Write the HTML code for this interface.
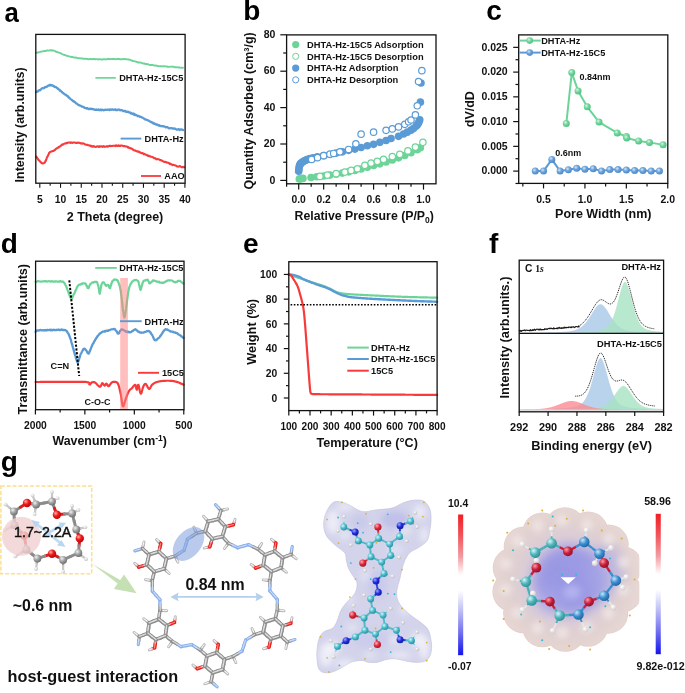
<!DOCTYPE html>
<html><head><meta charset="utf-8"><title>Figure</title>
<style>html,body{margin:0;padding:0;background:#fff;}body{width:685px;height:693px;overflow:hidden;font-family:"Liberation Sans",sans-serif;}svg{display:block;}</style>
</head><body>
<svg width="685" height="693" viewBox="0 0 685 693"><g opacity="0.999"><defs>
<radialGradient id="gG" cx="0.38" cy="0.35" r="0.7"><stop offset="0" stop-color="#d9f5e4"/><stop offset="0.45" stop-color="#72d59c"/><stop offset="1" stop-color="#4fbf80"/></radialGradient>
<radialGradient id="gB" cx="0.38" cy="0.35" r="0.7"><stop offset="0" stop-color="#d6e6f6"/><stop offset="0.45" stop-color="#6aa3da"/><stop offset="1" stop-color="#4a86c4"/></radialGradient>
<linearGradient id="cb1" x1="0" y1="0" x2="0" y2="1"><stop offset="0" stop-color="#f01e24"/><stop offset="0.15" stop-color="#f2545a"/><stop offset="0.3" stop-color="#f29ca0"/><stop offset="0.43" stop-color="#ffffff"/><stop offset="0.54" stop-color="#ffffff"/><stop offset="0.68" stop-color="#c0c0f6"/><stop offset="0.84" stop-color="#7070f0"/><stop offset="1" stop-color="#1414ee"/></linearGradient>
<radialGradient id="sC" cx="0.35" cy="0.32" r="0.75"><stop offset="0" stop-color="#f0f0f0"/><stop offset="0.5" stop-color="#a0a0a0"/><stop offset="1" stop-color="#6a6a6a"/></radialGradient>
<radialGradient id="sO" cx="0.35" cy="0.32" r="0.75"><stop offset="0" stop-color="#ffb0a8"/><stop offset="0.45" stop-color="#f01818"/><stop offset="1" stop-color="#b00808"/></radialGradient>
<radialGradient id="sH" cx="0.35" cy="0.32" r="0.75"><stop offset="0" stop-color="#ffffff"/><stop offset="1" stop-color="#c0c0c0"/></radialGradient>
<radialGradient id="bC" cx="0.35" cy="0.32" r="0.75"><stop offset="0" stop-color="#d8f6fa"/><stop offset="0.5" stop-color="#48bccb"/><stop offset="1" stop-color="#2a8a98"/></radialGradient>
<radialGradient id="bN" cx="0.35" cy="0.32" r="0.75"><stop offset="0" stop-color="#a0a8ff"/><stop offset="0.5" stop-color="#1f2ee0"/><stop offset="1" stop-color="#101a90"/></radialGradient>
<radialGradient id="bO" cx="0.35" cy="0.32" r="0.75"><stop offset="0" stop-color="#ffb0b8"/><stop offset="0.5" stop-color="#e02a3a"/><stop offset="1" stop-color="#a01020"/></radialGradient>
<radialGradient id="bH" cx="0.35" cy="0.32" r="0.75"><stop offset="0" stop-color="#ffffff"/><stop offset="1" stop-color="#b8b8b8"/></radialGradient>
<radialGradient id="bH2" cx="0.35" cy="0.32" r="0.75"><stop offset="0" stop-color="#ffffff"/><stop offset="1" stop-color="#d0c8c8"/></radialGradient>
<radialGradient id="bC2" cx="0.35" cy="0.32" r="0.75"><stop offset="0" stop-color="#d8f6f6"/><stop offset="0.5" stop-color="#4fb6bc"/><stop offset="1" stop-color="#2a8a90"/></radialGradient>
<radialGradient id="bC3" cx="0.35" cy="0.32" r="0.75"><stop offset="0" stop-color="#c8e4fa"/><stop offset="0.5" stop-color="#3a8fd0"/><stop offset="1" stop-color="#1f5f9a"/></radialGradient>
<radialGradient id="bO2" cx="0.35" cy="0.32" r="0.75"><stop offset="0" stop-color="#ff9aa8"/><stop offset="0.5" stop-color="#c8203c"/><stop offset="1" stop-color="#8a1020"/></radialGradient>
<radialGradient id="esp1" cx="0.5" cy="0.5" r="0.6"><stop offset="0" stop-color="#d4d4f0"/><stop offset="0.7" stop-color="#dcdcf3"/><stop offset="1" stop-color="#e4e4f6"/></radialGradient>
<radialGradient id="esp2" cx="0.5" cy="0.5" r="0.5"><stop offset="0" stop-color="#bcb8e6"/><stop offset="0.55" stop-color="#dccdd6"/><stop offset="0.8" stop-color="#e2d2d0"/><stop offset="1" stop-color="#e8d8d6"/></radialGradient>
<filter id="blur3" x="-50%" y="-50%" width="200%" height="200%"><feGaussianBlur stdDeviation="3"/></filter>
<filter id="blur6" x="-50%" y="-50%" width="200%" height="200%"><feGaussianBlur stdDeviation="6"/></filter>
</defs>
<text x="0" y="0" font-size="28" font-weight="bold" fill="#000" font-family='"Liberation Sans", sans-serif' transform="translate(4.5 22.2) scale(0.92 1)">a</text>
<text x="243.2" y="20.3" font-size="28" font-weight="bold" text-anchor="start" fill="#000" font-family='"Liberation Sans", sans-serif'>b</text>
<text x="486.2" y="20.2" font-size="28" font-weight="bold" text-anchor="start" fill="#000" font-family='"Liberation Sans", sans-serif'>c</text>
<text x="0.8" y="252.8" font-size="28" font-weight="bold" text-anchor="start" fill="#000" font-family='"Liberation Sans", sans-serif'>d</text>
<text x="243.1" y="253.2" font-size="28" font-weight="bold" text-anchor="start" fill="#000" font-family='"Liberation Sans", sans-serif'>e</text>
<text x="488.9" y="252.8" font-size="28" font-weight="bold" text-anchor="start" fill="#000" font-family='"Liberation Sans", sans-serif'>f</text>
<text x="0.8" y="471" font-size="28" font-weight="bold" text-anchor="start" fill="#000" font-family='"Liberation Sans", sans-serif'>g</text>
<path d="M36.3 52.81 L36.74 52.62 L37.31 52.74 L37.99 52.28 L38.75 52.33 L39.57 52.05 L40.42 51.7 L41.3 51.74 L42.16 51.33 L43 51.37 L43.68 51.06 L44.39 50.93 L45.12 50.95 L45.86 51 L46.6 50.51 L47.36 50.43 L48.11 50.52 L48.86 50.59 L49.59 50.34 L50.31 50.23 L51 50.54 L51.74 50.14 L52.46 50.67 L53.17 50.54 L53.87 50.66 L54.56 50.86 L55.25 51.19 L55.93 51.69 L56.62 51.63 L57.3 52.09 L58 52.37 L58.69 52.49 L59.35 52.85 L60.01 52.9 L60.66 53.2 L61.31 53.58 L61.98 54.12 L62.68 54.3 L63.41 54.54 L64.18 54.97 L65 55.18 L65.61 55.29 L66.24 55.73 L66.88 55.86 L67.54 55.82 L68.21 56.17 L68.9 56.33 L69.6 56.68 L70.32 56.78 L71.05 56.73 L71.81 57.24 L72.58 56.97 L73.37 57.27 L74.17 57.59 L75 57.43 L75.63 57.69 L76.28 57.56 L76.94 57.97 L77.63 58.11 L78.33 58.1 L79.04 58.34 L79.76 58.14 L80.49 58.41 L81.23 58.44 L81.97 58.51 L82.71 58.52 L83.45 58.78 L84.19 58.9 L84.92 58.72 L85.64 58.88 L86.35 58.63 L87.05 59 L87.73 59.03 L88.4 59.25 L89.16 59.21 L89.89 58.99 L90.58 59.08 L91.26 59.25 L91.92 58.96 L92.57 59.2 L93.21 59.07 L93.86 59.06 L94.52 59.05 L95.2 59.41 L95.9 59.1 L96.64 59.17 L97.41 59.24 L98.22 59.48 L99.08 59.09 L100 59.27 L100.6 59.32 L101.24 59.49 L101.9 59.45 L102.59 59.46 L103.31 59.16 L104.04 59.21 L104.8 59.17 L105.57 59.41 L106.35 59.43 L107.14 59.01 L107.94 59.01 L108.75 59.02 L109.55 59 L110.35 59.11 L111.15 59.14 L111.94 58.96 L112.72 58.81 L113.49 59.01 L114.24 58.97 L114.97 59.05 L115.68 59.24 L116.36 59.1 L117.02 59.01 L117.65 59.05 L118.24 59.08 L118.8 58.78 L119.83 59.21 L120.77 59.17 L121.62 59.24 L122.41 59.22 L123.14 59.05 L123.81 59.09 L124.45 58.99 L125.06 59.3 L125.65 59.07 L126.22 59.14 L126.8 59.28 L127.39 59.34 L128 59.52 L128.76 59.51 L129.44 59.63 L130.07 59.87 L130.67 60.02 L131.26 60.34 L131.87 60.37 L132.53 61 L133.25 61.09 L134.07 61.09 L135 61.38 L135.54 61.55 L136.12 61.7 L136.72 61.72 L137.35 62.24 L138 62.47 L138.67 62.36 L139.36 62.53 L140.06 62.5 L140.78 62.67 L141.5 62.96 L142.23 63.09 L142.97 63.53 L143.7 63.36 L144.44 63.45 L145.17 64.07 L145.9 64.01 L146.61 63.96 L147.31 64.29 L148 64.16 L148.72 64.54 L149.44 64.89 L150.16 64.96 L150.89 65 L151.61 64.89 L152.34 65.06 L153.07 65.07 L153.79 65.48 L154.51 65.46 L155.23 65.68 L155.95 65.55 L156.66 65.59 L157.37 65.97 L158.07 66.14 L158.76 66.16 L159.45 66.21 L160.13 66.29 L160.8 66.32 L161.54 66.13 L162.28 66.34 L163 66.31 L163.72 66.19 L164.42 66.23 L165.13 66.39 L165.82 66.4 L166.51 66.65 L167.2 66.8 L167.88 66.57 L168.57 66.84 L169.25 66.89 L169.94 66.91 L170.62 66.65 L171.31 66.61 L172 66.66 L172.76 66.71 L173.56 66.77 L174.39 67.05 L175.23 67.26 L176.09 67.31 L176.94 67.21 L177.79 67.37 L178.61 67.53 L179.4 67.25 L180.16 67.61 L180.86 67.8 L181.51 67.8 L182.09 67.84 L182.59 67.75 L183 67.64" stroke="#6dd499" stroke-width="1.9" fill="none" stroke-linejoin="round" stroke-linecap="round"/>
<path d="M36.3 92.16 L36.69 91.53 L37.2 91.67 L37.79 91.5 L38.45 90.61 L39.17 90.21 L39.93 90.29 L40.71 89.67 L41.5 88.76 L42.26 88.32 L43 87.99 L43.67 88.34 L44.37 87.9 L45.09 86.95 L45.83 87.19 L46.57 86.97 L47.31 86.34 L48.03 85.75 L48.73 85.65 L49.4 85.05 L50.03 84.77 L50.6 85.52 L51.51 85.21 L52.27 85.25 L52.94 85.9 L53.58 85.83 L54.25 86.67 L55 87.09 L55.54 86.86 L56.09 87.25 L56.64 87.67 L57.21 88.03 L57.79 88.77 L58.4 88.94 L59.03 89.57 L59.7 89.83 L60.4 91.07 L60.91 90.96 L61.44 91.47 L61.98 92.02 L62.54 92.76 L63.11 92.78 L63.7 93.7 L64.29 93.81 L64.9 94.33 L65.51 94.82 L66.13 94.87 L66.75 95.75 L67.37 96.02 L68 96.35 L68.55 97.51 L69.11 97.4 L69.68 98.14 L70.25 98.84 L70.83 99.17 L71.42 99.45 L72.01 100.11 L72.6 100.62 L73.2 101.3 L73.79 101.16 L74.38 102.02 L74.97 102.18 L75.55 102.63 L76.13 103.47 L76.7 103.61 L77.35 104.06 L78 104.63 L78.65 105.13 L79.29 105.06 L79.94 105.54 L80.57 105.76 L81.21 106.07 L81.85 106.52 L82.48 106.58 L83.11 106.91 L83.74 107.11 L84.37 107.77 L85 107.78 L85.72 108.19 L86.42 108.48 L87.1 108.07 L87.76 108.52 L88.43 109.04 L89.11 109.1 L89.81 108.61 L90.54 108.72 L91.31 109.13 L92.12 108.91 L93 109.17 L93.6 109.08 L94.22 109.67 L94.86 109.83 L95.51 109.97 L96.18 109.35 L96.87 109.89 L97.57 109.87 L98.28 109.43 L99 110.12 L99.73 110.22 L100.47 109.56 L101.22 110.24 L101.97 109.75 L102.72 109.85 L103.48 110.31 L104.24 110.18 L105 109.6 L105.69 109.85 L106.39 109.92 L107.1 109.75 L107.83 109.61 L108.56 109.7 L109.3 110.03 L110.05 109.38 L110.8 109.83 L111.55 109.7 L112.3 109.3 L113.05 109.56 L113.8 109.81 L114.54 109.71 L115.28 109.31 L116.01 110.15 L116.73 110 L117.43 110.2 L118.12 109.47 L118.8 109.69 L119.54 109.58 L120.27 110.36 L120.99 110.03 L121.7 110.04 L122.4 110.45 L123.1 111.05 L123.78 111.14 L124.46 110.81 L125.14 110.9 L125.8 111.79 L126.47 111.68 L127.13 112 L127.79 111.66 L128.44 111.85 L129.09 112.63 L129.75 112.61 L130.4 112.52 L131.09 113.53 L131.77 113.5 L132.45 113.9 L133.12 113.51 L133.79 114.47 L134.45 114.03 L135.11 115.02 L135.77 114.93 L136.42 115.11 L137.08 115.59 L137.73 116.22 L138.38 115.92 L139.03 116.08 L139.69 116.74 L140.34 116.77 L141 116.95 L141.66 117.29 L142.33 117.5 L143 117.96 L143.68 118.38 L144.36 118.7 L145.03 119.44 L145.71 119.35 L146.38 119.87 L147.05 119.91 L147.71 120.39 L148.37 120.41 L149.02 120.93 L149.66 121.02 L150.28 121.96 L150.9 122.08 L151.5 122.02 L152.22 122.59 L152.9 123.3 L153.57 122.84 L154.21 123.75 L154.85 123.67 L155.47 123.98 L156.09 124.53 L156.71 124.37 L157.34 124.71 L157.98 125.1 L158.63 125.59 L159.3 125.24 L160 125.9 L160.66 125.99 L161.32 126.13 L161.99 126.11 L162.66 126.25 L163.34 126.18 L164.02 126.43 L164.72 126.55 L165.43 127.33 L166.15 127.06 L166.88 127.15 L167.63 127.24 L168.4 128.09 L169.19 128.28 L170 128.25 L170.67 128.03 L171.38 128.12 L172.14 128.29 L172.94 128.56 L173.76 128.42 L174.59 128.8 L175.44 128.76 L176.29 129.51 L177.12 129.63 L177.95 129.36 L178.75 129.2 L179.52 129.95 L180.25 129.46 L180.93 129.59 L181.55 129.35 L182.11 129.77 L182.6 129.92 L183 130" stroke="#5b9bd5" stroke-width="2.3" fill="none" stroke-linejoin="round" stroke-linecap="round"/>
<path d="M36.3 156.56 L36.59 157.22 L36.98 157.41 L37.44 158.31 L37.95 158.92 L38.49 159.9 L39.01 160.29 L39.5 160.82 L40.17 161.67 L40.85 162.18 L41.53 162.92 L42.19 163.19 L42.8 163.5 L43.49 163.32 L44.13 163 L44.73 162.55 L45.3 161.41 L45.61 160.84 L45.89 160.76 L46.16 159.41 L46.42 159.15 L46.69 158.35 L46.98 157.14 L47.3 157.07 L47.64 156.4 L48 155.44 L48.37 154.76 L48.75 154.07 L49.15 152.84 L49.57 152.53 L50 152 L50.65 151.78 L51.34 151.47 L52.06 151.31 L52.79 150.94 L53.5 150.91 L54.19 150.39 L54.88 150.01 L55.56 149.22 L56.27 148.61 L57 148.21 L57.55 148 L58.11 147.36 L58.68 147.49 L59.26 146.81 L59.84 146.41 L60.42 145.98 L61 145.64 L61.64 145.09 L62.26 144.32 L62.88 144.61 L63.52 144.25 L64.22 143.76 L65 143.53 L65.66 143.46 L66.37 142.83 L67.12 143.23 L67.89 142.72 L68.68 142.48 L69.47 142.54 L70.25 142.84 L71 142.36 L71.73 142.75 L72.46 142.92 L73.18 142.52 L73.89 142.44 L74.6 142.54 L75.31 142.74 L76.01 142.86 L76.7 142.79 L77.49 142.9 L78.28 142.56 L79.07 142.75 L79.84 142.98 L80.59 143.51 L81.31 143.31 L82 143.65 L82.87 143.38 L83.65 143.58 L84.39 143.91 L85.16 144.42 L86 144.65 L86.65 144.83 L87.31 144.74 L87.98 145.16 L88.69 145.36 L89.42 145.59 L90.19 145.52 L91 146.31 L91.64 145.87 L92.27 146.6 L92.9 146.65 L93.55 146 L94.24 146.42 L94.99 146.76 L95.8 146.93 L96.7 146.54 L97.7 146.41 L98.28 146.37 L98.9 146.96 L99.55 146.36 L100.24 146.64 L100.95 146.28 L101.68 146.56 L102.43 146.88 L103.2 146.2 L103.97 146.72 L104.75 146.44 L105.53 146.71 L106.31 146.53 L107.08 146.11 L107.84 146.61 L108.58 146.25 L109.3 145.85 L110 145.8 L110.78 146.15 L111.56 146.07 L112.35 145.9 L113.13 145.71 L113.91 145.8 L114.69 145.72 L115.45 146.07 L116.21 145.34 L116.95 145.88 L117.68 145.91 L118.39 145.3 L119.08 145.92 L119.74 145.74 L120.39 145.89 L121 145.43 L121.86 145.57 L122.66 145.69 L123.39 146.3 L124.09 146.12 L124.75 146.11 L125.39 146.36 L126.03 146.44 L126.66 146.48 L127.32 146.75 L128 147.57 L128.68 147.37 L129.34 148.14 L129.97 147.86 L130.61 148.15 L131.25 148.63 L131.91 148.68 L132.61 149.15 L133.34 149.95 L134.14 150.24 L135 150.55 L135.57 150.64 L136.17 151.12 L136.79 151.4 L137.43 151.35 L138.09 151.76 L138.77 151.5 L139.45 152.33 L140.16 152.4 L140.87 152.93 L141.59 153.14 L142.32 153.15 L143.05 153.26 L143.79 154.26 L144.53 153.91 L145.26 154.49 L146 154.67 L146.63 154.89 L147.27 155.49 L147.93 155.94 L148.6 155.63 L149.28 156.21 L149.97 156.2 L150.67 156.67 L151.36 156.81 L152.06 156.89 L152.75 157.16 L153.44 157.46 L154.12 158.28 L154.8 158.2 L155.46 158.23 L156.1 159.03 L156.73 159.34 L157.35 159.13 L157.93 159.1 L158.5 159.35 L159.35 159.59 L160.16 160.08 L160.92 160.15 L161.66 160.53 L162.36 160.79 L163.04 161.27 L163.71 161.76 L164.37 161.87 L165.02 161.83 L165.67 162.06 L166.33 162.38 L167 162.5 L167.73 162.74 L168.44 162.8 L169.13 163.25 L169.82 164.08 L170.5 163.69 L171.19 164.26 L171.88 164.63 L172.58 165.08 L173.29 164.81 L174.03 165.09 L174.8 165.3 L175.5 165.6 L176.25 165.81 L177.05 166.39 L177.88 166.47 L178.73 166.65 L179.57 166.13 L180.4 166.28 L181.2 166.96 L181.95 167.23 L182.64 167.01 L183.26 167.2 L183.78 166.82 L184.2 167.21" stroke="#f83a3a" stroke-width="2.1" fill="none" stroke-linejoin="round" stroke-linecap="round"/>
<rect x="35.8" y="34.4" width="149.3" height="148.8" stroke="#111" stroke-width="1.3" fill="none"/>
<line x1="39.8" y1="183.2" x2="39.8" y2="187.8" stroke="#111" stroke-width="1.1"/>
<text x="39.8" y="202.7" font-size="10.3" font-weight="bold" text-anchor="middle" fill="#111" font-family='"Liberation Sans", sans-serif'>5</text>
<line x1="50.16" y1="183.2" x2="50.16" y2="185.8" stroke="#111" stroke-width="1.1"/>
<line x1="60.53" y1="183.2" x2="60.53" y2="187.8" stroke="#111" stroke-width="1.1"/>
<text x="60.53" y="202.7" font-size="10.3" font-weight="bold" text-anchor="middle" fill="#111" font-family='"Liberation Sans", sans-serif'>10</text>
<line x1="70.89" y1="183.2" x2="70.89" y2="185.8" stroke="#111" stroke-width="1.1"/>
<line x1="81.26" y1="183.2" x2="81.26" y2="187.8" stroke="#111" stroke-width="1.1"/>
<text x="81.26" y="202.7" font-size="10.3" font-weight="bold" text-anchor="middle" fill="#111" font-family='"Liberation Sans", sans-serif'>15</text>
<line x1="91.62" y1="183.2" x2="91.62" y2="185.8" stroke="#111" stroke-width="1.1"/>
<line x1="101.99" y1="183.2" x2="101.99" y2="187.8" stroke="#111" stroke-width="1.1"/>
<text x="101.99" y="202.7" font-size="10.3" font-weight="bold" text-anchor="middle" fill="#111" font-family='"Liberation Sans", sans-serif'>20</text>
<line x1="112.35" y1="183.2" x2="112.35" y2="185.8" stroke="#111" stroke-width="1.1"/>
<line x1="122.72" y1="183.2" x2="122.72" y2="187.8" stroke="#111" stroke-width="1.1"/>
<text x="122.72" y="202.7" font-size="10.3" font-weight="bold" text-anchor="middle" fill="#111" font-family='"Liberation Sans", sans-serif'>25</text>
<line x1="133.08" y1="183.2" x2="133.08" y2="185.8" stroke="#111" stroke-width="1.1"/>
<line x1="143.45" y1="183.2" x2="143.45" y2="187.8" stroke="#111" stroke-width="1.1"/>
<text x="143.45" y="202.7" font-size="10.3" font-weight="bold" text-anchor="middle" fill="#111" font-family='"Liberation Sans", sans-serif'>30</text>
<line x1="153.81" y1="183.2" x2="153.81" y2="185.8" stroke="#111" stroke-width="1.1"/>
<line x1="164.18" y1="183.2" x2="164.18" y2="187.8" stroke="#111" stroke-width="1.1"/>
<text x="164.18" y="202.7" font-size="10.3" font-weight="bold" text-anchor="middle" fill="#111" font-family='"Liberation Sans", sans-serif'>35</text>
<line x1="174.55" y1="183.2" x2="174.55" y2="185.8" stroke="#111" stroke-width="1.1"/>
<line x1="184.91" y1="183.2" x2="184.91" y2="187.8" stroke="#111" stroke-width="1.1"/>
<text x="184.91" y="202.7" font-size="10.3" font-weight="bold" text-anchor="middle" fill="#111" font-family='"Liberation Sans", sans-serif'>40</text>
<text x="115" y="220.5" font-size="12.5" font-weight="bold" text-anchor="middle" fill="#111" font-family='"Liberation Sans", sans-serif'>2 Theta (degree)</text>
<text x="23.7" y="124.9" font-size="12.4" font-weight="bold" text-anchor="middle" fill="#111" font-family='"Liberation Sans", sans-serif' transform="rotate(-90 23.7 124.9)">Intensity (arb.units)</text>
<line x1="95.4" y1="77.9" x2="115.8" y2="77.9" stroke="#6dd499" stroke-width="1.7"/>
<text x="119.2" y="81.2" font-size="9.2" font-weight="bold" text-anchor="start" fill="#111" font-family='"Liberation Sans", sans-serif'>DHTA-Hz-15C5</text>
<line x1="120.6" y1="138.6" x2="141.3" y2="138.6" stroke="#5b9bd5" stroke-width="1.9"/>
<text x="144.5" y="141.9" font-size="9.2" font-weight="bold" text-anchor="start" fill="#111" font-family='"Liberation Sans", sans-serif'>DHTA-Hz</text>
<line x1="141" y1="176" x2="161" y2="176" stroke="#f83a3a" stroke-width="1.8"/>
<text x="164.3" y="179.3" font-size="9.2" font-weight="bold" text-anchor="start" fill="#111" font-family='"Liberation Sans", sans-serif'>AAO</text>
<circle cx="299.32" cy="178.94" r="3.8" fill="#6dd499" stroke="none" stroke-width="1"/>
<circle cx="299.95" cy="178.76" r="3.8" fill="#6dd499" stroke="none" stroke-width="1"/>
<circle cx="300.95" cy="178.58" r="3.8" fill="#6dd499" stroke="none" stroke-width="1"/>
<circle cx="301.94" cy="178.49" r="3.8" fill="#6dd499" stroke="none" stroke-width="1"/>
<circle cx="302.94" cy="178.4" r="3.8" fill="#6dd499" stroke="none" stroke-width="1"/>
<circle cx="311.06" cy="177.49" r="3.8" fill="#6dd499" stroke="none" stroke-width="1"/>
<circle cx="316.8" cy="176.76" r="3.8" fill="#6dd499" stroke="none" stroke-width="1"/>
<circle cx="323.66" cy="176.03" r="3.8" fill="#6dd499" stroke="none" stroke-width="1"/>
<circle cx="329.9" cy="175.12" r="3.8" fill="#6dd499" stroke="none" stroke-width="1"/>
<circle cx="336.14" cy="174.21" r="3.8" fill="#6dd499" stroke="none" stroke-width="1"/>
<circle cx="342.38" cy="173.12" r="3.8" fill="#6dd499" stroke="none" stroke-width="1"/>
<circle cx="348.62" cy="171.85" r="3.8" fill="#6dd499" stroke="none" stroke-width="1"/>
<circle cx="354.86" cy="170.57" r="3.8" fill="#6dd499" stroke="none" stroke-width="1"/>
<circle cx="361.1" cy="168.93" r="3.8" fill="#6dd499" stroke="none" stroke-width="1"/>
<circle cx="367.34" cy="167.3" r="3.8" fill="#6dd499" stroke="none" stroke-width="1"/>
<circle cx="373.58" cy="165.48" r="3.8" fill="#6dd499" stroke="none" stroke-width="1"/>
<circle cx="379.82" cy="163.84" r="3.8" fill="#6dd499" stroke="none" stroke-width="1"/>
<circle cx="386.06" cy="162.02" r="3.8" fill="#6dd499" stroke="none" stroke-width="1"/>
<circle cx="392.3" cy="160.02" r="3.8" fill="#6dd499" stroke="none" stroke-width="1"/>
<circle cx="398.54" cy="157.83" r="3.8" fill="#6dd499" stroke="none" stroke-width="1"/>
<circle cx="404.78" cy="155.47" r="3.8" fill="#6dd499" stroke="none" stroke-width="1"/>
<circle cx="411.02" cy="152.74" r="3.8" fill="#6dd499" stroke="none" stroke-width="1"/>
<circle cx="417.26" cy="149.82" r="3.8" fill="#6dd499" stroke="none" stroke-width="1"/>
<circle cx="420.38" cy="147.82" r="3.8" fill="#6dd499" stroke="none" stroke-width="1"/>
<circle cx="319.92" cy="176.4" r="3.2" fill="#fff" stroke="#6dd499" stroke-width="1.2"/>
<circle cx="327.4" cy="175.12" r="3.2" fill="#fff" stroke="#6dd499" stroke-width="1.2"/>
<circle cx="336.14" cy="173.67" r="3.2" fill="#fff" stroke="#6dd499" stroke-width="1.2"/>
<circle cx="344.88" cy="172.03" r="3.2" fill="#fff" stroke="#6dd499" stroke-width="1.2"/>
<circle cx="351.12" cy="170.39" r="3.2" fill="#fff" stroke="#6dd499" stroke-width="1.2"/>
<circle cx="357.36" cy="168.75" r="3.2" fill="#fff" stroke="#6dd499" stroke-width="1.2"/>
<circle cx="364.84" cy="165.29" r="3.2" fill="#fff" stroke="#6dd499" stroke-width="1.2"/>
<circle cx="371.08" cy="163.11" r="3.2" fill="#fff" stroke="#6dd499" stroke-width="1.2"/>
<circle cx="377.32" cy="161.29" r="3.2" fill="#fff" stroke="#6dd499" stroke-width="1.2"/>
<circle cx="383.56" cy="159.29" r="3.2" fill="#fff" stroke="#6dd499" stroke-width="1.2"/>
<circle cx="392.3" cy="156.56" r="3.2" fill="#fff" stroke="#6dd499" stroke-width="1.2"/>
<circle cx="399.79" cy="154.37" r="3.2" fill="#fff" stroke="#6dd499" stroke-width="1.2"/>
<circle cx="407.9" cy="150.92" r="3.2" fill="#fff" stroke="#6dd499" stroke-width="1.2"/>
<circle cx="415.39" cy="147.09" r="3.2" fill="#fff" stroke="#6dd499" stroke-width="1.2"/>
<circle cx="422.88" cy="142.36" r="3.2" fill="#fff" stroke="#6dd499" stroke-width="1.2"/>
<circle cx="298.7" cy="171.3" r="3.8" fill="#5b9bd5" stroke="none" stroke-width="1"/>
<circle cx="298.82" cy="169.48" r="3.8" fill="#5b9bd5" stroke="none" stroke-width="1"/>
<circle cx="299.07" cy="167.66" r="3.8" fill="#5b9bd5" stroke="none" stroke-width="1"/>
<circle cx="299.45" cy="165.84" r="3.8" fill="#5b9bd5" stroke="none" stroke-width="1"/>
<circle cx="299.95" cy="164.57" r="3.8" fill="#5b9bd5" stroke="none" stroke-width="1"/>
<circle cx="300.57" cy="163.66" r="3.8" fill="#5b9bd5" stroke="none" stroke-width="1"/>
<circle cx="301.2" cy="162.93" r="3.8" fill="#5b9bd5" stroke="none" stroke-width="1"/>
<circle cx="302.44" cy="162.02" r="3.8" fill="#5b9bd5" stroke="none" stroke-width="1"/>
<circle cx="303.69" cy="161.29" r="3.8" fill="#5b9bd5" stroke="none" stroke-width="1"/>
<circle cx="304.94" cy="160.56" r="3.8" fill="#5b9bd5" stroke="none" stroke-width="1"/>
<circle cx="306.19" cy="160.02" r="3.8" fill="#5b9bd5" stroke="none" stroke-width="1"/>
<circle cx="307.44" cy="159.47" r="3.8" fill="#5b9bd5" stroke="none" stroke-width="1"/>
<circle cx="308.68" cy="159.11" r="3.8" fill="#5b9bd5" stroke="none" stroke-width="1"/>
<circle cx="309.93" cy="158.74" r="3.8" fill="#5b9bd5" stroke="none" stroke-width="1"/>
<circle cx="311.18" cy="158.38" r="3.8" fill="#5b9bd5" stroke="none" stroke-width="1"/>
<circle cx="313.68" cy="157.83" r="3.8" fill="#5b9bd5" stroke="none" stroke-width="1"/>
<circle cx="317.42" cy="156.92" r="3.8" fill="#5b9bd5" stroke="none" stroke-width="1"/>
<circle cx="323.66" cy="155.65" r="3.8" fill="#5b9bd5" stroke="none" stroke-width="1"/>
<circle cx="329.9" cy="154.37" r="3.8" fill="#5b9bd5" stroke="none" stroke-width="1"/>
<circle cx="336.14" cy="153.1" r="3.8" fill="#5b9bd5" stroke="none" stroke-width="1"/>
<circle cx="342.38" cy="151.83" r="3.8" fill="#5b9bd5" stroke="none" stroke-width="1"/>
<circle cx="348.62" cy="150.37" r="3.8" fill="#5b9bd5" stroke="none" stroke-width="1"/>
<circle cx="354.86" cy="149.1" r="3.8" fill="#5b9bd5" stroke="none" stroke-width="1"/>
<circle cx="361.1" cy="147.46" r="3.8" fill="#5b9bd5" stroke="none" stroke-width="1"/>
<circle cx="367.34" cy="145.82" r="3.8" fill="#5b9bd5" stroke="none" stroke-width="1"/>
<circle cx="373.58" cy="144.36" r="3.8" fill="#5b9bd5" stroke="none" stroke-width="1"/>
<circle cx="379.82" cy="142.36" r="3.8" fill="#5b9bd5" stroke="none" stroke-width="1"/>
<circle cx="386.06" cy="140.54" r="3.8" fill="#5b9bd5" stroke="none" stroke-width="1"/>
<circle cx="391.05" cy="138.54" r="3.8" fill="#5b9bd5" stroke="none" stroke-width="1"/>
<circle cx="398.54" cy="136.36" r="3.8" fill="#5b9bd5" stroke="none" stroke-width="1"/>
<circle cx="403.53" cy="133.99" r="3.8" fill="#5b9bd5" stroke="none" stroke-width="1"/>
<circle cx="407.28" cy="132.17" r="3.8" fill="#5b9bd5" stroke="none" stroke-width="1"/>
<circle cx="411.02" cy="130.17" r="3.8" fill="#5b9bd5" stroke="none" stroke-width="1"/>
<circle cx="413.52" cy="128.53" r="3.8" fill="#5b9bd5" stroke="none" stroke-width="1"/>
<circle cx="416.01" cy="126.35" r="3.8" fill="#5b9bd5" stroke="none" stroke-width="1"/>
<circle cx="417.26" cy="124.89" r="3.8" fill="#5b9bd5" stroke="none" stroke-width="1"/>
<circle cx="418.51" cy="123.07" r="3.8" fill="#5b9bd5" stroke="none" stroke-width="1"/>
<circle cx="419.13" cy="121.25" r="3.8" fill="#5b9bd5" stroke="none" stroke-width="1"/>
<circle cx="419.76" cy="119.79" r="3.8" fill="#5b9bd5" stroke="none" stroke-width="1"/>
<circle cx="420.38" cy="102.14" r="3.8" fill="#5b9bd5" stroke="none" stroke-width="1"/>
<circle cx="421" cy="83.03" r="3.8" fill="#5b9bd5" stroke="none" stroke-width="1"/>
<circle cx="311.68" cy="159.47" r="3.2" fill="#fff" stroke="#5b9bd5" stroke-width="1.2"/>
<circle cx="317.54" cy="157.65" r="3.2" fill="#fff" stroke="#5b9bd5" stroke-width="1.2"/>
<circle cx="323.66" cy="155.65" r="3.2" fill="#fff" stroke="#5b9bd5" stroke-width="1.2"/>
<circle cx="329.9" cy="154.19" r="3.2" fill="#fff" stroke="#5b9bd5" stroke-width="1.2"/>
<circle cx="333.64" cy="153.46" r="3.2" fill="#fff" stroke="#5b9bd5" stroke-width="1.2"/>
<circle cx="339.88" cy="151.83" r="3.2" fill="#fff" stroke="#5b9bd5" stroke-width="1.2"/>
<circle cx="348.62" cy="149.46" r="3.2" fill="#fff" stroke="#5b9bd5" stroke-width="1.2"/>
<circle cx="355.86" cy="143.82" r="3.2" fill="#fff" stroke="#5b9bd5" stroke-width="1.2"/>
<circle cx="361.1" cy="134.17" r="3.2" fill="#fff" stroke="#5b9bd5" stroke-width="1.2"/>
<circle cx="373.58" cy="132.17" r="3.2" fill="#fff" stroke="#5b9bd5" stroke-width="1.2"/>
<circle cx="386.06" cy="130.35" r="3.2" fill="#fff" stroke="#5b9bd5" stroke-width="1.2"/>
<circle cx="392.3" cy="128.89" r="3.2" fill="#fff" stroke="#5b9bd5" stroke-width="1.2"/>
<circle cx="398.54" cy="126.89" r="3.2" fill="#fff" stroke="#5b9bd5" stroke-width="1.2"/>
<circle cx="404.78" cy="124.34" r="3.2" fill="#fff" stroke="#5b9bd5" stroke-width="1.2"/>
<circle cx="408.52" cy="121.8" r="3.2" fill="#fff" stroke="#5b9bd5" stroke-width="1.2"/>
<circle cx="411.02" cy="119.98" r="3.2" fill="#fff" stroke="#5b9bd5" stroke-width="1.2"/>
<circle cx="415.39" cy="114.88" r="3.2" fill="#fff" stroke="#5b9bd5" stroke-width="1.2"/>
<circle cx="417.26" cy="105.78" r="3.2" fill="#fff" stroke="#5b9bd5" stroke-width="1.2"/>
<circle cx="418.51" cy="81.57" r="3.2" fill="#fff" stroke="#5b9bd5" stroke-width="1.2"/>
<circle cx="421.88" cy="70.65" r="3.2" fill="#fff" stroke="#5b9bd5" stroke-width="1.2"/>
<rect x="286.6" y="34.9" width="149.4" height="148.9" stroke="#111" stroke-width="1.3" fill="none"/>
<line x1="280.3" y1="180.4" x2="286.6" y2="180.4" stroke="#111" stroke-width="1.2"/>
<text x="275.4" y="183.5" font-size="10.5" font-weight="bold" text-anchor="end" fill="#111" font-family='"Liberation Sans", sans-serif'>0</text>
<line x1="283.2" y1="162.2" x2="286.6" y2="162.2" stroke="#111" stroke-width="1.2"/>
<line x1="280.3" y1="144" x2="286.6" y2="144" stroke="#111" stroke-width="1.2"/>
<text x="275.4" y="147.1" font-size="10.5" font-weight="bold" text-anchor="end" fill="#111" font-family='"Liberation Sans", sans-serif'>20</text>
<line x1="283.2" y1="125.8" x2="286.6" y2="125.8" stroke="#111" stroke-width="1.2"/>
<line x1="280.3" y1="107.6" x2="286.6" y2="107.6" stroke="#111" stroke-width="1.2"/>
<text x="275.4" y="110.7" font-size="10.5" font-weight="bold" text-anchor="end" fill="#111" font-family='"Liberation Sans", sans-serif'>40</text>
<line x1="283.2" y1="89.4" x2="286.6" y2="89.4" stroke="#111" stroke-width="1.2"/>
<line x1="280.3" y1="71.2" x2="286.6" y2="71.2" stroke="#111" stroke-width="1.2"/>
<text x="275.4" y="74.3" font-size="10.5" font-weight="bold" text-anchor="end" fill="#111" font-family='"Liberation Sans", sans-serif'>60</text>
<line x1="283.2" y1="53" x2="286.6" y2="53" stroke="#111" stroke-width="1.2"/>
<line x1="280.3" y1="34.8" x2="286.6" y2="34.8" stroke="#111" stroke-width="1.2"/>
<text x="275.4" y="37.9" font-size="10.5" font-weight="bold" text-anchor="end" fill="#111" font-family='"Liberation Sans", sans-serif'>80</text>
<line x1="286.6" y1="183.8" x2="286.6" y2="186.8" stroke="#111" stroke-width="1.2"/>
<line x1="298.7" y1="183.8" x2="298.7" y2="189.6" stroke="#111" stroke-width="1.2"/>
<text x="298.7" y="202.8" font-size="10.3" font-weight="bold" text-anchor="middle" fill="#111" font-family='"Liberation Sans", sans-serif'>0.0</text>
<line x1="311.18" y1="183.8" x2="311.18" y2="186.8" stroke="#111" stroke-width="1.2"/>
<line x1="323.66" y1="183.8" x2="323.66" y2="189.6" stroke="#111" stroke-width="1.2"/>
<text x="323.66" y="202.8" font-size="10.3" font-weight="bold" text-anchor="middle" fill="#111" font-family='"Liberation Sans", sans-serif'>0.2</text>
<line x1="336.14" y1="183.8" x2="336.14" y2="186.8" stroke="#111" stroke-width="1.2"/>
<line x1="348.62" y1="183.8" x2="348.62" y2="189.6" stroke="#111" stroke-width="1.2"/>
<text x="348.62" y="202.8" font-size="10.3" font-weight="bold" text-anchor="middle" fill="#111" font-family='"Liberation Sans", sans-serif'>0.4</text>
<line x1="361.1" y1="183.8" x2="361.1" y2="186.8" stroke="#111" stroke-width="1.2"/>
<line x1="373.58" y1="183.8" x2="373.58" y2="189.6" stroke="#111" stroke-width="1.2"/>
<text x="373.58" y="202.8" font-size="10.3" font-weight="bold" text-anchor="middle" fill="#111" font-family='"Liberation Sans", sans-serif'>0.6</text>
<line x1="386.06" y1="183.8" x2="386.06" y2="186.8" stroke="#111" stroke-width="1.2"/>
<line x1="398.54" y1="183.8" x2="398.54" y2="189.6" stroke="#111" stroke-width="1.2"/>
<text x="398.54" y="202.8" font-size="10.3" font-weight="bold" text-anchor="middle" fill="#111" font-family='"Liberation Sans", sans-serif'>0.8</text>
<line x1="411.02" y1="183.8" x2="411.02" y2="186.8" stroke="#111" stroke-width="1.2"/>
<line x1="423.5" y1="183.8" x2="423.5" y2="189.6" stroke="#111" stroke-width="1.2"/>
<text x="423.5" y="202.8" font-size="10.3" font-weight="bold" text-anchor="middle" fill="#111" font-family='"Liberation Sans", sans-serif'>1.0</text>
<text x="294.5" y="220.3" font-size="12.3" font-weight="bold" text-anchor="start" fill="#111" font-family='"Liberation Sans", sans-serif'>Relative Pressure (P/P<tspan font-size="8.5" dy="2.5">0</tspan><tspan dy="-2.5">)</tspan></text>
<text x="252.6" y="110.9" font-size="12.5" font-weight="bold" text-anchor="middle" fill="#111" font-family='"Liberation Sans", sans-serif' transform="rotate(-90 252.6 110.9)">Quantity Adsorbed (cm³/g)</text>
<circle cx="295.7" cy="44.6" r="3.6" fill="#6dd499" stroke="none" stroke-width="1"/>
<text x="307" y="47.8" font-size="9.3" font-weight="bold" text-anchor="start" fill="#111" font-family='"Liberation Sans", sans-serif'>DHTA-Hz-15C5 Adsorption</text>
<circle cx="295.7" cy="56.35" r="3.1" fill="#fff" stroke="#6dd499" stroke-width="1"/>
<text x="307" y="59.55" font-size="9.3" font-weight="bold" text-anchor="start" fill="#111" font-family='"Liberation Sans", sans-serif'>DHTA-Hz-15C5 Desorption</text>
<circle cx="295.7" cy="68.1" r="3.6" fill="#5b9bd5" stroke="none" stroke-width="1"/>
<text x="307" y="71.3" font-size="9.3" font-weight="bold" text-anchor="start" fill="#111" font-family='"Liberation Sans", sans-serif'>DHTA-Hz Adsorption</text>
<circle cx="295.7" cy="79.85" r="3.1" fill="#fff" stroke="#5b9bd5" stroke-width="1"/>
<text x="307" y="83.05" font-size="9.3" font-weight="bold" text-anchor="start" fill="#111" font-family='"Liberation Sans", sans-serif'>DHTA-Hz Desorption</text>
<path d="M566.31 123.58 L571.77 72.59 L578.07 90.91 L587.26 106.85 L599.02 122.09 L617.23 132.98 L626.34 136.45 L626.75 137.94 L638.59 140.91 L649.52 142.39 L663.1 144.86" stroke="#6dd499" stroke-width="2" fill="none" stroke-linejoin="round" stroke-linecap="round"/>
<path d="M535.26 171.1 L543.54 171.1 L551.82 159.42 L560.1 171.1 L568.38 169.81 L576.66 168.33 L584.94 169.32 L593.22 168.82 L601.5 171.1 L609.78 169.61 L618.06 169.61 L626.34 170.11 L634.62 170.6 L642.9 170.6 L651.18 171.1 L659.46 171.1" stroke="#5b9bd5" stroke-width="2" fill="none" stroke-linejoin="round" stroke-linecap="round"/>
<circle cx="566.31" cy="123.58" r="3.5" fill="url(#gG)" stroke="none" stroke-width="1"/>
<circle cx="571.77" cy="72.59" r="3.5" fill="url(#gG)" stroke="none" stroke-width="1"/>
<circle cx="578.07" cy="90.91" r="3.5" fill="url(#gG)" stroke="none" stroke-width="1"/>
<circle cx="587.26" cy="106.85" r="3.5" fill="url(#gG)" stroke="none" stroke-width="1"/>
<circle cx="599.02" cy="122.09" r="3.5" fill="url(#gG)" stroke="none" stroke-width="1"/>
<circle cx="617.23" cy="132.98" r="3.5" fill="url(#gG)" stroke="none" stroke-width="1"/>
<circle cx="626.34" cy="136.45" r="3.5" fill="url(#gG)" stroke="none" stroke-width="1"/>
<circle cx="626.75" cy="137.94" r="3.5" fill="url(#gG)" stroke="none" stroke-width="1"/>
<circle cx="638.59" cy="140.91" r="3.5" fill="url(#gG)" stroke="none" stroke-width="1"/>
<circle cx="649.52" cy="142.39" r="3.5" fill="url(#gG)" stroke="none" stroke-width="1"/>
<circle cx="663.1" cy="144.86" r="3.5" fill="url(#gG)" stroke="none" stroke-width="1"/>
<circle cx="535.26" cy="171.1" r="3.5" fill="url(#gB)" stroke="none" stroke-width="1"/>
<circle cx="543.54" cy="171.1" r="3.5" fill="url(#gB)" stroke="none" stroke-width="1"/>
<circle cx="551.82" cy="159.42" r="3.5" fill="url(#gB)" stroke="none" stroke-width="1"/>
<circle cx="560.1" cy="171.1" r="3.5" fill="url(#gB)" stroke="none" stroke-width="1"/>
<circle cx="568.38" cy="169.81" r="3.5" fill="url(#gB)" stroke="none" stroke-width="1"/>
<circle cx="576.66" cy="168.33" r="3.5" fill="url(#gB)" stroke="none" stroke-width="1"/>
<circle cx="584.94" cy="169.32" r="3.5" fill="url(#gB)" stroke="none" stroke-width="1"/>
<circle cx="593.22" cy="168.82" r="3.5" fill="url(#gB)" stroke="none" stroke-width="1"/>
<circle cx="601.5" cy="171.1" r="3.5" fill="url(#gB)" stroke="none" stroke-width="1"/>
<circle cx="609.78" cy="169.61" r="3.5" fill="url(#gB)" stroke="none" stroke-width="1"/>
<circle cx="618.06" cy="169.61" r="3.5" fill="url(#gB)" stroke="none" stroke-width="1"/>
<circle cx="626.34" cy="170.11" r="3.5" fill="url(#gB)" stroke="none" stroke-width="1"/>
<circle cx="634.62" cy="170.6" r="3.5" fill="url(#gB)" stroke="none" stroke-width="1"/>
<circle cx="642.9" cy="170.6" r="3.5" fill="url(#gB)" stroke="none" stroke-width="1"/>
<circle cx="651.18" cy="171.1" r="3.5" fill="url(#gB)" stroke="none" stroke-width="1"/>
<circle cx="659.46" cy="171.1" r="3.5" fill="url(#gB)" stroke="none" stroke-width="1"/>
<rect x="518.7" y="34.9" width="149.1" height="148.5" stroke="#111" stroke-width="1.3" fill="none"/>
<line x1="515.5" y1="183.47" x2="518.7" y2="183.47" stroke="#111" stroke-width="1.2"/>
<line x1="513.2" y1="171.1" x2="518.7" y2="171.1" stroke="#111" stroke-width="1.2"/>
<text x="507.7" y="174.4" font-size="10.5" font-weight="bold" text-anchor="end" fill="#111" font-family='"Liberation Sans", sans-serif'>0.000</text>
<line x1="515.5" y1="158.72" x2="518.7" y2="158.72" stroke="#111" stroke-width="1.2"/>
<line x1="513.2" y1="146.35" x2="518.7" y2="146.35" stroke="#111" stroke-width="1.2"/>
<text x="507.7" y="149.65" font-size="10.5" font-weight="bold" text-anchor="end" fill="#111" font-family='"Liberation Sans", sans-serif'>0.005</text>
<line x1="515.5" y1="133.97" x2="518.7" y2="133.97" stroke="#111" stroke-width="1.2"/>
<line x1="513.2" y1="121.6" x2="518.7" y2="121.6" stroke="#111" stroke-width="1.2"/>
<text x="507.7" y="124.9" font-size="10.5" font-weight="bold" text-anchor="end" fill="#111" font-family='"Liberation Sans", sans-serif'>0.010</text>
<line x1="515.5" y1="109.23" x2="518.7" y2="109.23" stroke="#111" stroke-width="1.2"/>
<line x1="513.2" y1="96.85" x2="518.7" y2="96.85" stroke="#111" stroke-width="1.2"/>
<text x="507.7" y="100.15" font-size="10.5" font-weight="bold" text-anchor="end" fill="#111" font-family='"Liberation Sans", sans-serif'>0.015</text>
<line x1="515.5" y1="84.47" x2="518.7" y2="84.47" stroke="#111" stroke-width="1.2"/>
<line x1="513.2" y1="72.1" x2="518.7" y2="72.1" stroke="#111" stroke-width="1.2"/>
<text x="507.7" y="75.4" font-size="10.5" font-weight="bold" text-anchor="end" fill="#111" font-family='"Liberation Sans", sans-serif'>0.020</text>
<line x1="515.5" y1="59.72" x2="518.7" y2="59.72" stroke="#111" stroke-width="1.2"/>
<line x1="513.2" y1="47.35" x2="518.7" y2="47.35" stroke="#111" stroke-width="1.2"/>
<text x="507.7" y="50.65" font-size="10.5" font-weight="bold" text-anchor="end" fill="#111" font-family='"Liberation Sans", sans-serif'>0.025</text>
<line x1="522.84" y1="183.4" x2="522.84" y2="186.4" stroke="#111" stroke-width="1.2"/>
<line x1="543.54" y1="183.4" x2="543.54" y2="188.4" stroke="#111" stroke-width="1.2"/>
<text x="543.54" y="202.9" font-size="10.5" font-weight="bold" text-anchor="middle" fill="#111" font-family='"Liberation Sans", sans-serif'>0.5</text>
<line x1="564.24" y1="183.4" x2="564.24" y2="186.4" stroke="#111" stroke-width="1.2"/>
<line x1="584.94" y1="183.4" x2="584.94" y2="188.4" stroke="#111" stroke-width="1.2"/>
<text x="584.94" y="202.9" font-size="10.5" font-weight="bold" text-anchor="middle" fill="#111" font-family='"Liberation Sans", sans-serif'>1.0</text>
<line x1="605.64" y1="183.4" x2="605.64" y2="186.4" stroke="#111" stroke-width="1.2"/>
<line x1="626.34" y1="183.4" x2="626.34" y2="188.4" stroke="#111" stroke-width="1.2"/>
<text x="626.34" y="202.9" font-size="10.5" font-weight="bold" text-anchor="middle" fill="#111" font-family='"Liberation Sans", sans-serif'>1.5</text>
<line x1="647.04" y1="183.4" x2="647.04" y2="186.4" stroke="#111" stroke-width="1.2"/>
<line x1="667.74" y1="183.4" x2="667.74" y2="188.4" stroke="#111" stroke-width="1.2"/>
<text x="667.74" y="202.9" font-size="10.5" font-weight="bold" text-anchor="middle" fill="#111" font-family='"Liberation Sans", sans-serif'>2.0</text>
<text x="603.3" y="218.3" font-size="12.5" font-weight="bold" text-anchor="middle" fill="#111" font-family='"Liberation Sans", sans-serif'>Pore Width (nm)</text>
<text x="473.7" y="109.2" font-size="12.5" font-weight="bold" text-anchor="middle" fill="#111" font-family='"Liberation Sans", sans-serif' transform="rotate(-90 473.7 109.2)">dV/dD</text>
<line x1="519.3" y1="40.6" x2="540.7" y2="40.6" stroke="#6dd499" stroke-width="2"/>
<circle cx="529.7" cy="40.6" r="3.3" fill="url(#gG)" stroke="none" stroke-width="1"/>
<text x="541.2" y="43.9" font-size="9.2" font-weight="bold" text-anchor="start" fill="#111" font-family='"Liberation Sans", sans-serif'>DHTA-Hz</text>
<line x1="519.3" y1="52.6" x2="540.7" y2="52.6" stroke="#5b9bd5" stroke-width="2"/>
<circle cx="529.7" cy="52.6" r="3.3" fill="url(#gB)" stroke="none" stroke-width="1"/>
<text x="541.2" y="55.9" font-size="9.2" font-weight="bold" text-anchor="start" fill="#111" font-family='"Liberation Sans", sans-serif'>DHTA-Hz-15C5</text>
<text x="579.6" y="79.8" font-size="9" font-weight="bold" text-anchor="start" fill="#111" font-family='"Liberation Sans", sans-serif'>0.84nm</text>
<text x="555.2" y="155.6" font-size="9" font-weight="bold" text-anchor="start" fill="#111" font-family='"Liberation Sans", sans-serif'>0.6nm</text>
<path d="M35.6 281.8 L35.95 281.72 L36.38 281.73 L36.87 281.8 L37.42 281.27 L38.01 281.16 L38.65 281.17 L39.33 281.41 L40.03 281.5 L40.75 281.66 L41.47 281.49 L42.21 281.43 L42.93 281.5 L43.64 281.27 L44.34 281.34 L45 280.98 L45.61 281.5 L46.24 281.13 L46.88 281.62 L47.53 281.45 L48.18 281.23 L48.84 281.13 L49.5 281.24 L50.16 281.54 L50.81 281.61 L51.45 281.22 L52.08 281.22 L52.7 281.56 L53.31 281.62 L53.89 281.5 L54.46 281.4 L55 281.67 L55.76 281.25 L56.49 281.43 L57.21 281.5 L57.9 281.8 L58.56 281.54 L59.2 281.66 L59.8 281.34 L60.38 281.16 L60.92 281.19 L61.43 281.74 L61.9 281.64 L62.64 281.58 L63.22 281.64 L63.69 282.31 L64.11 282.86 L64.53 283.24 L65 283.83 L65.25 284.54 L65.5 285.2 L65.75 285.23 L66 285.65 L66.25 286.45 L66.5 287.13 L66.75 287.94 L67 288.24 L67.25 289.31 L67.5 289.91 L67.75 290.38 L68 290.79 L68.24 291.93 L68.47 292.13 L68.71 293.19 L68.95 293.51 L69.19 294.24 L69.44 295.35 L69.68 295.73 L69.92 296.85 L70.16 297.14 L70.4 297.45 L70.63 297.9 L70.87 298.36 L71.1 298.72 L71.43 298.95 L71.76 298.19 L72.08 297.97 L72.4 297.3 L72.72 297.18 L73.03 295.88 L73.35 295.07 L73.67 294.35 L74 293.93 L74.27 293.74 L74.55 293.15 L74.84 292.42 L75.13 291.95 L75.41 291.25 L75.7 290.16 L75.98 289.42 L76.25 289.33 L76.51 288.63 L76.76 287.62 L77 287.62 L77.41 286.66 L77.71 286.13 L78.01 285.71 L78.4 285.25 L79 284.75 L79.46 284.69 L80.02 284.46 L80.64 284.59 L81.3 283.73 L81.98 284.05 L82.64 283.3 L83.27 283.23 L83.83 283.45 L84.3 283.43 L84.95 283.34 L85.43 283.48 L85.8 284.33 L86.14 284.86 L86.5 285.79 L86.86 285.91 L87.19 286.79 L87.5 287.88 L87.83 287.77 L88.2 288.14 L88.5 288.16 L88.81 287.61 L89.14 286.42 L89.48 285.65 L89.83 284.9 L90.17 284.81 L90.5 283.83 L91.04 283.58 L91.54 283.29 L92.11 282.61 L92.8 282.34 L93.39 282.64 L94.09 282.2 L94.84 281.79 L95.57 282.03 L96.25 281.81 L96.8 282.04 L97.13 282.2 L97.4 283.18 L97.63 283.84 L97.82 284.27 L98 285.16 L98.16 285.23 L98.33 286.1 L98.5 286.98 L98.63 287.9 L98.75 288.57 L98.86 288.92 L98.97 289.61 L99.07 290.52 L99.18 291.32 L99.28 292.32 L99.38 292.4 L99.48 293.3 L99.59 293.56 L99.7 293.73 L99.82 293.58 L99.93 293.15 L100.06 292.47 L100.18 291.85 L100.3 291.18 L100.42 290.7 L100.55 289.42 L100.66 288.72 L100.78 288.37 L100.89 287.36 L101 286.7 L101.17 285.84 L101.32 285.44 L101.46 284.6 L101.6 284.45 L101.78 283.87 L102 283.54 L102.59 282.52 L103.3 282.26 L104 282.52 L104.33 283.15 L104.67 283.85 L105 284.32 L105.33 284.81 L105.67 285.45 L106 285.88 L106.67 285.62 L107.34 284.9 L108 284.74 L108.32 285.05 L108.64 285.45 L108.96 286.86 L109.27 287.33 L109.58 288.12 L109.9 288.11 L110.09 288.16 L110.28 287.4 L110.47 286.91 L110.66 286.27 L110.84 285.5 L111.03 285.28 L111.22 284.33 L111.41 283.47 L111.61 282.91 L111.8 282.84 L112.17 281.74 L112.53 280.91 L112.9 280.81 L113.32 280.3 L113.8 280.24 L114.39 279.38 L115.06 279.46 L115.76 279.66 L116.46 279.86 L117.1 280.39 L117.37 280.11 L117.64 280.69 L117.91 281.02 L118.17 281.58 L118.42 282.69 L118.67 283.02 L118.92 283.91 L119.15 284.2 L119.38 285.26 L119.59 285.71 L119.8 286.33 L119.93 287.2 L120.05 287.84 L120.16 287.8 L120.27 288.7 L120.38 289.3 L120.48 289.6 L120.58 290.31 L120.68 290.77 L120.77 291.45 L120.86 292.12 L120.96 293.01 L121.05 293.71 L121.13 294.06 L121.22 294.6 L121.32 295.5 L121.41 296.44 L121.5 296.78 L121.58 297.44 L121.65 297.96 L121.72 298.98 L121.8 299.44 L121.87 299.74 L121.94 300.42 L122.01 301.29 L122.09 302.06 L122.16 302.79 L122.23 303.08 L122.3 303.8 L122.37 304.83 L122.44 305.29 L122.51 305.84 L122.58 306.49 L122.65 307.56 L122.72 307.71 L122.79 308.47 L122.86 308.87 L122.93 309.44 L123 310.25 L123.12 311.21 L123.25 311.63 L123.38 312.38 L123.5 313.59 L123.62 314.03 L123.75 314.64 L123.88 315.93 L124 316.18 L124.12 316.93 L124.25 316.99 L124.38 317.52 L124.5 317.27 L124.61 316.96 L124.71 316.63 L124.82 316.66 L124.93 316.27 L125.03 315.93 L125.14 314.74 L125.24 314.44 L125.35 313.54 L125.46 312.88 L125.56 311.85 L125.67 311.15 L125.78 310.53 L125.89 310.04 L126 308.73 L126.08 308.47 L126.16 308.15 L126.23 307.71 L126.31 306.59 L126.39 305.94 L126.47 305.91 L126.55 305.31 L126.63 304.34 L126.71 303.41 L126.79 303.39 L126.87 302.37 L126.95 302.09 L127.03 301.26 L127.11 300.77 L127.19 299.69 L127.27 299.51 L127.35 298.52 L127.44 298.06 L127.52 297.79 L127.6 297.23 L127.7 296.1 L127.8 295.45 L127.9 294.9 L128 294.32 L128.09 293.56 L128.19 292.73 L128.29 292.17 L128.39 291.88 L128.49 291.38 L128.59 290.18 L128.7 289.96 L128.81 289.53 L128.92 288.48 L129.04 288.51 L129.17 287.51 L129.3 287.37 L129.55 286.55 L129.81 285.89 L130.09 285.02 L130.37 284.5 L130.67 284.07 L130.97 283.46 L131.28 283.16 L131.59 282.58 L131.9 282.16 L132.38 281.29 L132.87 281.21 L133.37 280.7 L133.88 280.19 L134.39 280.32 L134.9 280.2 L135.54 279.95 L136.22 279.89 L136.89 280.35 L137.5 280.46 L138 280.94 L138.31 281.62 L138.54 281.95 L138.71 282.84 L138.86 283.58 L139.02 283.96 L139.2 285.1 L139.36 285.32 L139.51 286.5 L139.67 287.3 L139.83 287.89 L139.99 288.27 L140.16 289.17 L140.33 289.47 L140.5 290.02 L140.68 289.3 L140.86 289.41 L141.04 288.93 L141.23 288.04 L141.42 287.33 L141.61 286.12 L141.81 285.95 L142 284.99 L142.23 284.6 L142.43 283.86 L142.64 282.65 L142.88 282.44 L143.19 281.97 L143.6 280.9 L144.07 280.75 L144.65 280.71 L145.29 280.01 L145.96 280.32 L146.61 279.76 L147.2 280.12 L147.7 279.75 L148.14 280.4 L148.48 281.38 L148.76 281.7 L149.03 282.54 L149.33 283.32 L149.7 283.47 L150.07 283.17 L150.45 282.91 L150.85 282.37 L151.27 282.32 L151.74 281.56 L152.24 281.24 L152.8 280.47 L153.34 280.84 L153.93 280.41 L154.57 280.81 L155.23 281.05 L155.9 281.06 L156.58 281.62 L157.25 281.59 L157.9 281.76 L158.53 282.12 L159.15 281.76 L159.76 282.57 L160.38 282.51 L161.01 282.51 L161.65 282.9 L162.31 282.58 L163 283.04 L163.52 282.64 L164.06 282.3 L164.61 282.33 L165.18 281.82 L165.75 281.32 L166.33 281.4 L166.91 280.61 L167.49 280.88 L168.06 280.26 L168.64 280.37 L169.2 280.54 L169.82 280.29 L170.46 280.48 L171.1 280.44 L171.74 280.48 L172.38 280.79 L173.01 281.17 L173.62 281.77 L174.21 281.89 L174.77 282.12 L175.3 282.48 L175.99 281.9 L176.61 281.78 L177.19 281.81 L177.74 281.07 L178.28 280.8 L178.83 280.89 L179.4 280.72 L179.95 281.08 L180.54 281.29 L181.15 281.94 L181.76 282.39 L182.33 282.57 L182.84 283.29 L183.28 283.54 L183.6 283.54" stroke="#6dd499" stroke-width="2.2" fill="none" stroke-linejoin="round" stroke-linecap="round"/>
<path d="M35.6 331.91 L35.92 331.18 L36.36 330.77 L37.02 330.37 L38 330.5 L38.45 330.6 L38.95 330.5 L39.5 330.2 L40.08 330.09 L40.7 329.9 L41.36 330.34 L42.04 330.27 L42.75 330.12 L43.48 330.32 L44.23 330.18 L45 330.51 L45.54 330.35 L46.11 330 L46.69 330.44 L47.29 329.82 L47.91 330.15 L48.54 330.04 L49.18 329.91 L49.82 329.77 L50.48 330.26 L51.13 329.7 L51.79 330.07 L52.44 330.33 L53.09 329.76 L53.74 329.8 L54.38 330.08 L55 330 L55.63 330.09 L56.27 330.2 L56.93 329.72 L57.6 329.79 L58.27 329.75 L58.94 329.54 L59.61 330.1 L60.27 330 L60.92 329.94 L61.55 329.44 L62.17 330.04 L62.76 330 L63.32 329.86 L63.85 330.13 L64.34 330.03 L64.8 330.01 L65.44 330.18 L65.99 330.56 L66.47 330.74 L66.88 331.32 L67.24 332.02 L67.58 332.45 L67.89 333.08 L68.21 333.57 L68.54 333.91 L68.9 334.84 L69.11 335.2 L69.32 335.92 L69.53 336.24 L69.73 336.59 L69.93 337.41 L70.13 338.22 L70.33 338.29 L70.53 339.37 L70.73 339.39 L70.92 340.2 L71.11 340.82 L71.3 341.82 L71.49 342.61 L71.67 343.11 L71.86 343.45 L72.04 344.46 L72.22 344.68 L72.4 345.22 L72.58 346.28 L72.75 346.69 L72.92 347.34 L73.1 347.93 L73.27 348.77 L73.43 349.04 L73.6 349.92 L73.76 350.44 L73.92 351.16 L74.09 351.48 L74.24 352.28 L74.4 352.76 L74.55 353.15 L74.71 353.64 L74.86 354.47 L75.01 354.62 L75.15 355.71 L75.3 355.65 L75.53 356.34 L75.76 357.18 L75.98 358.53 L76.2 358.87 L76.41 359.44 L76.62 360.02 L76.83 360.61 L77.03 361.57 L77.22 361.94 L77.41 362.27 L77.6 362.47 L77.88 361.95 L78.15 361.93 L78.41 361.13 L78.66 360.65 L78.91 359.79 L79.15 359 L79.4 357.7 L79.61 357.69 L79.8 357.14 L79.99 356.56 L80.18 355.38 L80.38 354.85 L80.59 354.19 L80.83 353.55 L81.1 353.54 L81.41 352.91 L81.75 352.12 L82.12 351.57 L82.5 350.77 L82.89 349.91 L83.27 349.26 L83.65 348.86 L84 349.08 L84.53 348.69 L85.04 349.14 L85.54 349.78 L86.03 350.13 L86.5 350.83 L86.94 351.46 L87.34 352.55 L87.74 353.01 L88.18 353.36 L88.7 353.62 L88.91 353.05 L89.12 352.96 L89.34 352.37 L89.57 351.47 L89.8 351.18 L90.05 350.6 L90.29 350.2 L90.55 349.23 L90.81 348.81 L91.07 348 L91.35 347.1 L91.63 346.89 L91.91 345.71 L92.2 345.62 L92.48 344.62 L92.77 343.95 L93.06 343.52 L93.37 343.33 L93.68 342.9 L93.99 341.64 L94.31 341.4 L94.64 340.82 L94.96 340.46 L95.29 339.48 L95.62 339.15 L95.94 338.53 L96.26 338.36 L96.58 337.48 L96.9 337.51 L97.32 336.47 L97.74 335.86 L98.15 335.67 L98.56 335.03 L98.97 334.28 L99.39 334.21 L99.81 333.4 L100.24 333.5 L100.68 333.08 L101.13 332.81 L101.6 332.39 L102.2 331.88 L102.81 331.67 L103.45 331.49 L104.1 331.69 L104.76 331.01 L105.43 331.47 L106.09 330.76 L106.75 330.76 L107.4 330.63 L107.99 330.9 L108.61 330.41 L109.23 330.09 L109.86 330.21 L110.49 329.53 L111.1 329.47 L111.68 329.33 L112.23 329.33 L112.74 329.22 L113.2 329.1 L113.96 328.96 L114.56 329.16 L115.05 329.38 L115.51 330.28 L116 330.61 L116.42 331.19 L116.81 331.48 L117.19 332.41 L117.57 333.3 L117.97 333.62 L118.4 333.44 L118.74 333.47 L119.07 333.32 L119.41 332.25 L119.76 331.52 L120.13 330.89 L120.52 330.52 L120.94 330.12 L121.4 329.36 L121.9 329.31 L122.44 329.49 L123 329.77 L123.59 330.22 L124.2 330.32 L124.81 330.78 L125.41 330.97 L126 331.73 L126.67 331.74 L127.34 331.47 L128.01 332.22 L128.68 331.74 L129.35 332 L130.03 332.42 L130.7 332.21 L131.3 331.97 L131.9 331.45 L132.52 330.9 L133.12 330.78 L133.73 330.01 L134.31 329.73 L134.87 329.61 L135.4 329.27 L135.95 329.64 L136.46 330.19 L136.93 330.53 L137.39 330.85 L137.85 331.41 L138.35 331.69 L138.9 331.75 L139.5 332.26 L140.13 332.28 L140.79 332.63 L141.46 332.82 L142.15 332.52 L142.83 332.61 L143.5 332.67 L144.09 332.3 L144.7 331.92 L145.31 331.95 L145.92 331.73 L146.52 331.35 L147.11 331.05 L147.67 331.03 L148.2 330.93 L148.69 331.07 L149.16 331.22 L149.6 331.5 L150.02 332.17 L150.44 332.31 L150.85 333.09 L151.27 333.91 L151.7 334.45 L152.01 334.87 L152.32 335.17 L152.62 335.91 L152.92 336.6 L153.22 337.39 L153.53 337.9 L153.84 338.7 L154.16 339.43 L154.49 339.36 L154.84 340.02 L155.2 340.29 L155.67 340.06 L156.15 340.01 L156.66 340.08 L157.18 339.05 L157.71 338.94 L158.25 338.13 L158.8 337.99 L159.35 337.5 L159.9 336.61 L160.26 335.91 L160.62 335.76 L160.98 335.2 L161.35 334.75 L161.72 334.01 L162.09 333.48 L162.46 333 L162.84 332.18 L163.21 331.53 L163.59 331.37 L163.97 330.38 L164.35 330.3 L164.72 329.76 L165.1 329.78 L165.69 329.15 L166.28 329.76 L166.88 329.47 L167.48 329.52 L168.08 330.01 L168.67 330.46 L169.26 330.54 L169.84 331.13 L170.4 331.34 L171.02 331.7 L171.65 331.6 L172.26 331.67 L172.86 331.76 L173.45 332.24 L174.02 332.5 L174.57 332.35 L175.1 332.3 L175.74 332.95 L176.3 332.91 L176.83 333.05 L177.37 333.29 L177.94 334.09 L178.6 334.52 L179.06 334.69 L179.58 334.93 L180.15 335.38 L180.73 335.55 L181.32 336.49 L181.89 336.47 L182.42 337.05 L182.9 337.52 L183.3 337.81 L183.6 337.78" stroke="#5b9bd5" stroke-width="2.3" fill="none" stroke-linejoin="round" stroke-linecap="round"/>
<path d="M35.6 382 L35.92 382 L36.27 382 L36.64 382 L37.04 381.99 L37.47 381.99 L37.92 381.99 L38.39 381.99 L38.89 381.98 L39.41 381.98 L39.94 381.98 L40.5 381.97 L41.07 381.97 L41.66 381.97 L42.26 381.96 L42.88 381.96 L43.52 381.96 L44.16 381.95 L44.82 381.95 L45.49 381.95 L46.16 381.94 L46.85 381.94 L47.54 381.94 L48.24 381.93 L48.94 381.93 L49.65 381.93 L50.36 381.92 L51.07 381.92 L51.78 381.92 L52.49 381.92 L53.2 381.91 L53.91 381.91 L54.61 381.91 L55.31 381.91 L56.01 381.91 L56.7 381.9 L57.38 381.9 L58.05 381.9 L58.71 381.9 L59.36 381.9 L60 381.9 L60.6 381.9 L61.2 381.9 L61.83 381.9 L62.46 381.89 L63.1 381.89 L63.75 381.88 L64.42 381.88 L65.09 381.87 L65.76 381.87 L66.44 381.86 L67.13 381.85 L67.82 381.85 L68.52 381.84 L69.22 381.83 L69.91 381.83 L70.61 381.82 L71.31 381.81 L72.01 381.81 L72.7 381.8 L73.39 381.79 L74.08 381.79 L74.76 381.79 L75.43 381.78 L76.1 381.78 L76.76 381.78 L77.41 381.78 L78.05 381.78 L78.68 381.78 L79.3 381.78 L79.91 381.79 L80.5 381.79 L81.08 381.8 L81.64 381.81 L82.18 381.82 L82.71 381.83 L83.22 381.84 L83.71 381.86 L84.18 381.88 L84.63 381.9 L85.06 381.92 L85.46 381.94 L85.84 381.97 L86.2 382 L88.09 382.33 L89.03 382.83 L89.34 383.39 L89.31 383.92 L89.27 384.32 L89.5 384.5 L90.03 384.34 L90.49 383.89 L90.93 383.3 L91.39 382.75 L91.9 382.4 L92.45 382.21 L93 382.08 L93.6 382.05 L94.25 382.18 L95 382.5 L95.43 382.8 L95.9 383.22 L96.42 383.73 L96.95 384.3 L97.49 384.88 L98.03 385.45 L98.56 385.96 L99.05 386.38 L99.5 386.67 L99.9 386.8 L100.37 386.65 L100.77 386.17 L101.1 385.49 L101.4 384.73 L101.69 384.01 L101.98 383.46 L102.3 383.2 L102.79 383.38 L103.3 383.98 L103.8 384.74 L104.27 385.4 L104.7 385.7 L105.14 385.39 L105.5 384.65 L105.86 383.91 L106.3 383.6 L106.72 383.9 L107.16 384.57 L107.64 385.33 L108.16 385.92 L108.7 386.1 L109.06 385.91 L109.42 385.53 L109.8 385.02 L110.19 384.43 L110.6 383.82 L111.02 383.24 L111.45 382.75 L111.9 382.4 L112.55 382.11 L113.26 381.9 L114 381.79 L114.73 381.77 L115.4 381.84 L116 382 L116.5 382.2 L116.93 382.44 L117.31 382.77 L117.66 383.24 L118.02 383.9 L118.4 384.8 L118.55 385.21 L118.7 385.67 L118.85 386.16 L119.01 386.69 L119.16 387.25 L119.31 387.84 L119.47 388.45 L119.62 389.09 L119.77 389.74 L119.92 390.41 L120.07 391.08 L120.22 391.77 L120.37 392.45 L120.51 393.14 L120.66 393.82 L120.8 394.5 L120.92 395.1 L121.03 395.75 L121.14 396.44 L121.25 397.18 L121.36 397.93 L121.46 398.71 L121.57 399.5 L121.67 400.29 L121.78 401.06 L121.88 401.82 L121.99 402.55 L122.1 403.24 L122.2 403.89 L122.31 404.48 L122.42 405.01 L122.54 405.47 L122.66 405.84 L122.78 406.12 L122.9 406.3 L123.1 406.38 L123.31 406.23 L123.52 405.9 L123.74 405.4 L123.96 404.77 L124.18 404.04 L124.41 403.24 L124.64 402.4 L124.88 401.56 L125.11 400.74 L125.36 399.98 L125.6 399.3 L125.81 398.75 L126.03 398.17 L126.25 397.57 L126.48 396.95 L126.71 396.32 L126.94 395.69 L127.17 395.06 L127.4 394.45 L127.64 393.84 L127.87 393.27 L128.11 392.71 L128.34 392.2 L128.57 391.73 L128.8 391.3 L129.26 390.59 L129.71 390.04 L130.17 389.6 L130.63 389.23 L131.09 388.88 L131.54 388.52 L132 388.1 L132.47 387.56 L132.96 386.93 L133.46 386.26 L133.94 385.65 L134.4 385.15 L134.83 384.84 L135.2 384.8 L135.48 385.09 L135.71 385.68 L135.92 386.47 L136.1 387.35 L136.27 388.22 L136.44 388.97 L136.61 389.5 L136.8 389.7 L136.99 389.46 L137.18 388.84 L137.36 387.97 L137.55 387 L137.74 386.06 L137.94 385.28 L138.16 384.82 L138.4 384.8 L138.54 385.03 L138.68 385.42 L138.83 385.95 L138.98 386.6 L139.14 387.34 L139.3 388.14 L139.46 388.97 L139.63 389.81 L139.79 390.64 L139.96 391.41 L140.13 392.12 L140.3 392.73 L140.47 393.21 L140.64 393.55 L140.8 393.7 L141.01 393.65 L141.21 393.38 L141.42 392.92 L141.63 392.32 L141.84 391.6 L142.05 390.81 L142.26 389.98 L142.47 389.15 L142.68 388.35 L142.89 387.61 L143.09 386.99 L143.3 386.5 L143.77 385.58 L144.21 384.81 L144.67 384.24 L145.15 383.95 L145.7 384 L146.01 384.23 L146.34 384.65 L146.69 385.21 L147.05 385.86 L147.42 386.55 L147.79 387.23 L148.16 387.86 L148.52 388.38 L148.87 388.74 L149.2 388.9 L149.58 388.81 L149.92 388.48 L150.25 387.96 L150.57 387.33 L150.9 386.64 L151.26 385.94 L151.65 385.31 L152.1 384.8 L152.53 384.42 L152.98 384.06 L153.44 383.71 L153.93 383.38 L154.44 383.06 L154.99 382.77 L155.58 382.49 L156.22 382.23 L156.9 382 L157.41 381.85 L157.94 381.71 L158.49 381.58 L159.07 381.46 L159.67 381.34 L160.28 381.24 L160.91 381.15 L161.55 381.06 L162.21 380.99 L162.87 380.93 L163.54 380.87 L164.22 380.83 L164.9 380.8 L165.46 380.78 L166.04 380.76 L166.62 380.75 L167.22 380.74 L167.83 380.74 L168.44 380.74 L169.06 380.75 L169.69 380.77 L170.31 380.8 L170.94 380.83 L171.56 380.88 L172.18 380.94 L172.8 381.01 L173.41 381.09 L174.01 381.19 L174.6 381.3 L175.24 381.45 L175.9 381.63 L176.59 381.83 L177.28 382.07 L177.99 382.31 L178.68 382.58 L179.37 382.85 L180.04 383.12 L180.68 383.38 L181.29 383.64 L181.86 383.88 L182.39 384.11 L182.86 384.3 L183.26 384.47 L183.6 384.6" stroke="#f83a3a" stroke-width="2.2" fill="none" stroke-linejoin="round" stroke-linecap="round"/>
<rect x="120.2" y="278" width="7.7" height="131.7" fill="#ff7f7f" opacity="0.5"/>
<line x1="69.3" y1="280.3" x2="79.2" y2="376" stroke="#000" stroke-width="2" stroke-dasharray="2.2 1.6"/>
<rect x="35.6" y="261.2" width="148.4" height="148.5" stroke="#111" stroke-width="1.3" fill="none"/>
<line x1="35.4" y1="409.7" x2="35.4" y2="414.5" stroke="#111" stroke-width="1.2"/>
<text x="35.4" y="429.3" font-size="10.3" font-weight="bold" text-anchor="middle" fill="#111" font-family='"Liberation Sans", sans-serif'>2000</text>
<line x1="60.13" y1="409.7" x2="60.13" y2="412.5" stroke="#111" stroke-width="1.2"/>
<line x1="84.86" y1="409.7" x2="84.86" y2="414.5" stroke="#111" stroke-width="1.2"/>
<text x="84.86" y="429.3" font-size="10.3" font-weight="bold" text-anchor="middle" fill="#111" font-family='"Liberation Sans", sans-serif'>1500</text>
<line x1="109.59" y1="409.7" x2="109.59" y2="412.5" stroke="#111" stroke-width="1.2"/>
<line x1="134.32" y1="409.7" x2="134.32" y2="414.5" stroke="#111" stroke-width="1.2"/>
<text x="134.32" y="429.3" font-size="10.3" font-weight="bold" text-anchor="middle" fill="#111" font-family='"Liberation Sans", sans-serif'>1000</text>
<line x1="159.05" y1="409.7" x2="159.05" y2="412.5" stroke="#111" stroke-width="1.2"/>
<line x1="183.78" y1="409.7" x2="183.78" y2="414.5" stroke="#111" stroke-width="1.2"/>
<text x="183.78" y="429.3" font-size="10.3" font-weight="bold" text-anchor="middle" fill="#111" font-family='"Liberation Sans", sans-serif'>500</text>
<text x="109.7" y="445.3" font-size="12.4" font-weight="bold" text-anchor="middle" fill="#111" font-family='"Liberation Sans", sans-serif'>Wavenumber (cm<tspan font-size="8.5" dy="-4.5">-1</tspan><tspan dy="4.5">)</tspan></text>
<text x="26.6" y="339.2" font-size="12.6" font-weight="bold" text-anchor="middle" fill="#111" font-family='"Liberation Sans", sans-serif' transform="rotate(-90 26.6 339.2)">Transmittance (arb.units)</text>
<line x1="95.2" y1="267.9" x2="116.8" y2="267.9" stroke="#6dd499" stroke-width="1.8"/>
<text x="119.3" y="271.1" font-size="9.2" font-weight="bold" text-anchor="start" fill="#111" font-family='"Liberation Sans", sans-serif'>DHTA-Hz-15C5</text>
<line x1="120" y1="321.2" x2="141.7" y2="321.2" stroke="#5b9bd5" stroke-width="1.9"/>
<text x="144.6" y="324.5" font-size="9.2" font-weight="bold" text-anchor="start" fill="#111" font-family='"Liberation Sans", sans-serif'>DHTA-Hz</text>
<line x1="138" y1="372.8" x2="159" y2="372.8" stroke="#f83a3a" stroke-width="1.9"/>
<text x="162" y="376.1" font-size="9.2" font-weight="bold" text-anchor="start" fill="#111" font-family='"Liberation Sans", sans-serif'>15C5</text>
<text x="50.6" y="369.1" font-size="9.2" font-weight="bold" text-anchor="start" fill="#111" font-family='"Liberation Sans", sans-serif'>C=N</text>
<text x="84.6" y="404.7" font-size="9" font-weight="bold" text-anchor="start" fill="#111" font-family='"Liberation Sans", sans-serif'>C-O-C</text>
<path d="M288.8 274.45 L289.13 274.57 L289.54 274.73 L290.02 274.91 L290.56 275.12 L291.15 275.34 L291.78 275.58 L292.44 275.83 L293.11 276.08 L293.8 276.32 L294.48 276.57 L295.16 276.8 L295.69 276.97 L296.23 277.15 L296.79 277.33 L297.37 277.51 L297.95 277.69 L298.54 277.87 L299.14 278.06 L299.75 278.24 L300.36 278.43 L300.97 278.62 L301.59 278.81 L302.2 279 L302.81 279.19 L303.42 279.39 L303.98 279.58 L304.55 279.77 L305.11 279.96 L305.67 280.15 L306.24 280.35 L306.8 280.55 L307.37 280.74 L307.94 280.94 L308.52 281.14 L309.1 281.35 L309.69 281.55 L310.28 281.75 L310.88 281.95 L311.49 282.16 L312.1 282.36 L312.66 282.54 L313.24 282.72 L313.82 282.9 L314.42 283.08 L315.03 283.27 L315.64 283.45 L316.26 283.64 L316.88 283.82 L317.5 284.01 L318.11 284.19 L318.72 284.38 L319.31 284.56 L319.9 284.74 L320.47 284.92 L321.02 285.1 L321.55 285.27 L322.06 285.45 L322.75 285.68 L323.4 285.91 L324.02 286.13 L324.61 286.35 L325.19 286.56 L325.74 286.77 L326.29 286.99 L326.83 287.21 L327.38 287.43 L327.92 287.67 L328.48 287.91 L329.05 288.16 L329.59 288.42 L330.14 288.69 L330.69 288.97 L331.25 289.27 L331.8 289.57 L332.35 289.87 L332.9 290.18 L333.45 290.47 L333.99 290.76 L334.52 291.04 L335.04 291.3 L335.55 291.53 L336.04 291.75 L336.72 292.02 L337.35 292.25 L337.95 292.46 L338.53 292.64 L339.12 292.8 L339.72 292.95 L340.35 293.08 L341.02 293.22 L341.76 293.35 L342.31 293.44 L342.87 293.53 L343.45 293.61 L344.04 293.68 L344.64 293.75 L345.26 293.82 L345.9 293.88 L346.55 293.94 L347.21 293.99 L347.9 294.05 L348.59 294.11 L349.3 294.16 L350.03 294.22 L350.56 294.26 L351.11 294.3 L351.66 294.34 L352.23 294.37 L352.8 294.41 L353.38 294.44 L353.97 294.48 L354.56 294.51 L355.17 294.54 L355.77 294.57 L356.39 294.61 L357.01 294.64 L357.64 294.67 L358.27 294.7 L358.9 294.74 L359.54 294.77 L360.19 294.8 L360.83 294.84 L361.41 294.87 L361.96 294.9 L362.51 294.92 L363.05 294.95 L363.58 294.98 L364.11 295.01 L364.64 295.03 L365.18 295.06 L365.73 295.09 L366.29 295.11 L366.86 295.14 L367.46 295.17 L368.08 295.2 L368.72 295.23 L369.39 295.26 L370.1 295.3 L370.84 295.33 L371.63 295.37 L372.46 295.41 L373.33 295.45 L373.8 295.48 L374.29 295.5 L374.79 295.52 L375.31 295.55 L375.84 295.58 L376.39 295.6 L376.95 295.63 L377.52 295.66 L378.1 295.69 L378.69 295.72 L379.29 295.75 L379.9 295.78 L380.52 295.81 L381.15 295.84 L381.78 295.87 L382.41 295.9 L383.06 295.93 L383.7 295.96 L384.35 295.99 L385.01 296.03 L385.66 296.06 L386.32 296.09 L386.97 296.12 L387.63 296.15 L388.28 296.18 L388.93 296.21 L389.58 296.24 L390.22 296.27 L390.86 296.3 L391.5 296.33 L392.13 296.36 L392.75 296.39 L393.37 296.42 L393.97 296.44 L394.57 296.47 L395.16 296.49 L395.73 296.52 L396.3 296.54 L396.85 296.57 L397.53 296.59 L398.2 296.62 L398.86 296.65 L399.51 296.67 L400.15 296.69 L400.79 296.72 L401.41 296.74 L402.03 296.76 L402.65 296.78 L403.25 296.81 L403.86 296.83 L404.46 296.85 L405.05 296.87 L405.64 296.88 L406.23 296.9 L406.82 296.92 L407.41 296.94 L408 296.96 L408.59 296.98 L409.17 296.99 L409.77 297.01 L410.36 297.03 L410.95 297.04 L411.55 297.06 L412.16 297.08 L412.77 297.1 L413.38 297.11 L414.01 297.13 L414.63 297.15 L415.27 297.17 L415.92 297.18 L416.5 297.2 L417.11 297.22 L417.73 297.23 L418.36 297.25 L419.02 297.26 L419.68 297.28 L420.36 297.3 L421.04 297.31 L421.73 297.33 L422.43 297.35 L423.14 297.36 L423.84 297.38 L424.55 297.4 L425.25 297.41 L425.96 297.43 L426.66 297.45 L427.36 297.46 L428.04 297.48 L428.72 297.49 L429.39 297.51 L430.05 297.52 L430.7 297.54 L431.32 297.55 L431.94 297.56 L432.53 297.58 L433.11 297.59 L433.66 297.6 L434.19 297.61 L434.69 297.62 L435.17 297.63 L435.62 297.64 L436.04 297.65 L436.43 297.66 L436.78 297.67 L437.1 297.68" stroke="#6dd499" stroke-width="2.2" fill="none" stroke-linejoin="round" stroke-linecap="round"/>
<path d="M288.8 274.45 L289.21 274.5 L289.75 274.56 L290.4 274.63 L291.12 274.71 L291.88 274.81 L292.65 274.92 L293.4 275.05 L294.1 275.19 L294.69 275.34 L295.3 275.5 L295.91 275.68 L296.52 275.87 L297.13 276.06 L297.72 276.27 L298.3 276.48 L298.86 276.7 L299.39 276.92 L300.01 277.21 L300.56 277.51 L301.07 277.81 L301.58 278.13 L302.12 278.46 L302.72 278.8 L303.42 279.14 L303.92 279.37 L304.45 279.61 L305 279.85 L305.58 280.09 L306.18 280.34 L306.8 280.59 L307.43 280.84 L308.06 281.1 L308.71 281.35 L309.35 281.61 L309.99 281.86 L310.53 282.08 L311.1 282.3 L311.67 282.53 L312.26 282.76 L312.85 282.99 L313.45 283.22 L314.04 283.45 L314.63 283.68 L315.22 283.9 L315.79 284.11 L316.35 284.32 L316.88 284.52 L317.4 284.7 L318.04 284.93 L318.65 285.13 L319.24 285.32 L319.8 285.49 L320.35 285.66 L320.9 285.83 L321.44 286 L321.99 286.17 L322.55 286.36 L323.12 286.56 L323.71 286.77 L324.29 286.98 L324.89 287.2 L325.48 287.43 L326.07 287.65 L326.67 287.89 L327.27 288.13 L327.86 288.38 L328.46 288.64 L329.05 288.91 L329.59 289.16 L330.13 289.43 L330.68 289.7 L331.22 289.99 L331.76 290.28 L332.3 290.57 L332.84 290.87 L333.38 291.16 L333.92 291.45 L334.45 291.72 L334.99 291.99 L335.57 292.29 L336.15 292.58 L336.73 292.88 L337.31 293.17 L337.89 293.45 L338.46 293.73 L339.03 294 L339.59 294.25 L340.15 294.49 L340.71 294.71 L341.32 294.93 L341.94 295.14 L342.55 295.32 L343.16 295.49 L343.76 295.65 L344.35 295.79 L344.92 295.93 L345.47 296.06 L346 296.19 L346.67 296.37 L347.19 296.52 L347.67 296.66 L348.23 296.79 L348.98 296.92 L350.03 297.06 L350.46 297.11 L350.92 297.16 L351.42 297.22 L351.94 297.27 L352.49 297.33 L353.06 297.38 L353.66 297.44 L354.27 297.5 L354.9 297.55 L355.54 297.61 L356.19 297.67 L356.85 297.72 L357.52 297.78 L358.19 297.83 L358.86 297.89 L359.52 297.94 L360.18 298 L360.83 298.05 L361.41 298.09 L361.96 298.14 L362.51 298.18 L363.05 298.22 L363.58 298.26 L364.11 298.3 L364.64 298.35 L365.18 298.39 L365.73 298.43 L366.29 298.47 L366.86 298.51 L367.46 298.55 L368.08 298.59 L368.72 298.63 L369.39 298.67 L370.1 298.72 L370.84 298.76 L371.63 298.81 L372.46 298.86 L373.33 298.91 L373.8 298.94 L374.29 298.97 L374.79 299 L375.31 299.03 L375.84 299.06 L376.39 299.09 L376.95 299.12 L377.52 299.15 L378.1 299.18 L378.69 299.21 L379.29 299.25 L379.9 299.28 L380.52 299.31 L381.15 299.34 L381.78 299.38 L382.41 299.41 L383.06 299.45 L383.7 299.48 L384.35 299.51 L385.01 299.55 L385.66 299.58 L386.32 299.62 L386.97 299.65 L387.63 299.68 L388.28 299.72 L388.93 299.75 L389.58 299.78 L390.22 299.82 L390.86 299.85 L391.5 299.88 L392.13 299.91 L392.75 299.94 L393.37 299.98 L393.97 300.01 L394.57 300.04 L395.16 300.06 L395.73 300.09 L396.3 300.12 L396.85 300.15 L397.53 300.18 L398.2 300.21 L398.86 300.25 L399.51 300.28 L400.15 300.31 L400.79 300.34 L401.41 300.37 L402.03 300.4 L402.65 300.43 L403.25 300.46 L403.86 300.49 L404.46 300.52 L405.05 300.54 L405.64 300.57 L406.23 300.6 L406.82 300.63 L407.41 300.65 L408 300.68 L408.59 300.7 L409.17 300.73 L409.77 300.76 L410.36 300.78 L410.95 300.81 L411.55 300.83 L412.16 300.86 L412.77 300.88 L413.38 300.91 L414.01 300.94 L414.63 300.96 L415.27 300.99 L415.92 301.01 L416.5 301.04 L417.11 301.06 L417.73 301.08 L418.36 301.11 L419.02 301.13 L419.68 301.16 L420.36 301.18 L421.04 301.21 L421.73 301.23 L422.43 301.26 L423.14 301.28 L423.84 301.31 L424.55 301.33 L425.25 301.35 L425.96 301.38 L426.66 301.4 L427.36 301.43 L428.04 301.45 L428.72 301.47 L429.39 301.5 L430.05 301.52 L430.7 301.54 L431.32 301.56 L431.94 301.58 L432.53 301.6 L433.11 301.62 L433.66 301.64 L434.19 301.66 L434.69 301.67 L435.17 301.69 L435.62 301.7 L436.04 301.72 L436.43 301.73 L436.78 301.74 L437.1 301.75" stroke="#5b9bd5" stroke-width="2.4" fill="none" stroke-linejoin="round" stroke-linecap="round"/>
<path d="M288.8 274.45 L289.32 274.55 L290.08 274.74 L290.92 275.31 L291.24 275.67 L291.56 276.09 L291.9 276.57 L292.25 277.1 L292.61 277.68 L292.99 278.29 L293.39 278.95 L293.8 279.64 L294.07 280.08 L294.35 280.53 L294.65 281 L294.96 281.49 L295.27 281.99 L295.59 282.5 L295.91 283.03 L296.23 283.58 L296.54 284.14 L296.85 284.72 L297.14 285.32 L297.43 285.93 L297.7 286.56 L297.91 287.09 L298.11 287.63 L298.31 288.19 L298.51 288.77 L298.7 289.36 L298.88 289.97 L299.06 290.58 L299.24 291.2 L299.42 291.82 L299.59 292.45 L299.76 293.08 L299.93 293.71 L300.1 294.34 L300.27 294.97 L300.43 295.58 L300.6 296.19 L300.77 296.8 L300.93 297.4 L301.09 297.99 L301.26 298.58 L301.42 299.17 L301.57 299.76 L301.73 300.35 L301.89 300.94 L302.04 301.54 L302.18 302.14 L302.33 302.75 L302.47 303.37 L302.61 304 L302.74 304.64 L302.87 305.29 L302.99 305.96 L303.09 306.51 L303.19 307.04 L303.28 307.56 L303.36 308.06 L303.44 308.56 L303.52 309.05 L303.59 309.55 L303.67 310.06 L303.74 310.58 L303.81 311.12 L303.88 311.69 L303.95 312.28 L304.02 312.91 L304.09 313.58 L304.17 314.3 L304.24 315.06 L304.32 315.87 L304.41 316.75 L304.5 317.69 L304.54 318.14 L304.58 318.61 L304.63 319.08 L304.67 319.57 L304.71 320.08 L304.76 320.6 L304.8 321.13 L304.85 321.67 L304.89 322.22 L304.94 322.78 L304.99 323.36 L305.03 323.94 L305.08 324.53 L305.13 325.13 L305.18 325.74 L305.23 326.35 L305.27 326.97 L305.32 327.6 L305.37 328.23 L305.42 328.87 L305.47 329.51 L305.52 330.15 L305.57 330.8 L305.62 331.45 L305.67 332.11 L305.72 332.76 L305.77 333.42 L305.81 334.07 L305.86 334.73 L305.91 335.39 L305.96 336.04 L306.01 336.7 L306.06 337.35 L306.11 338 L306.16 338.64 L306.21 339.28 L306.25 339.92 L306.3 340.55 L306.35 341.18 L306.4 341.8 L306.44 342.41 L306.49 343.02 L306.54 343.63 L306.58 344.24 L306.63 344.85 L306.68 345.47 L306.73 346.09 L306.77 346.71 L306.82 347.34 L306.87 347.97 L306.92 348.6 L306.96 349.24 L307.01 349.87 L307.06 350.51 L307.11 351.15 L307.16 351.78 L307.2 352.42 L307.25 353.06 L307.3 353.69 L307.35 354.33 L307.39 354.96 L307.44 355.59 L307.49 356.22 L307.54 356.85 L307.58 357.48 L307.63 358.1 L307.67 358.72 L307.72 359.33 L307.77 359.94 L307.81 360.55 L307.86 361.15 L307.9 361.74 L307.95 362.33 L307.99 362.92 L308.03 363.49 L308.07 364.06 L308.12 364.63 L308.16 365.18 L308.2 365.73 L308.24 366.27 L308.28 366.81 L308.32 367.33 L308.36 367.84 L308.4 368.35 L308.46 369.12 L308.51 369.88 L308.57 370.64 L308.63 371.38 L308.68 372.12 L308.73 372.84 L308.79 373.55 L308.84 374.25 L308.89 374.94 L308.94 375.61 L308.99 376.28 L309.04 376.93 L309.09 377.57 L309.14 378.2 L309.18 378.81 L309.23 379.41 L309.27 379.99 L309.32 380.57 L309.36 381.12 L309.4 381.67 L309.44 382.19 L309.48 382.7 L309.52 383.2 L309.56 383.68 L309.6 384.15 L309.63 384.6 L309.67 385.03 L309.76 386.09 L309.84 387 L309.91 387.78 L309.97 388.45 L310.03 389.03 L310.08 389.53 L310.13 389.98 L310.19 390.4 L310.24 390.8 L310.3 391.2 L310.5 392.26 L310.69 392.87 L310.94 393.31 L311.31 393.73 L312.1 393.92 L312.48 393.99 L312.83 394.04 L313.25 394.08 L313.87 394.11 L314.79 394.14 L316.13 394.17 L316.51 394.18 L316.88 394.18 L317.25 394.19 L317.62 394.2 L318 394.2 L318.38 394.21 L318.77 394.21 L319.18 394.21 L319.6 394.22 L320.04 394.22 L320.51 394.23 L321 394.23 L321.52 394.23 L322.07 394.24 L322.66 394.24 L323.28 394.25 L323.95 394.25 L324.67 394.25 L325.43 394.26 L326.24 394.26 L327.1 394.27 L328.03 394.27 L329.01 394.28 L330.06 394.29 L331.17 394.29 L331.59 394.3 L332.01 394.3 L332.43 394.3 L332.87 394.3 L333.31 394.31 L333.75 394.31 L334.21 394.31 L334.67 394.32 L335.13 394.32 L335.61 394.32 L336.08 394.32 L336.57 394.33 L337.06 394.33 L337.56 394.33 L338.06 394.34 L338.57 394.34 L339.09 394.34 L339.61 394.35 L340.14 394.35 L340.67 394.35 L341.21 394.35 L341.75 394.36 L342.3 394.36 L342.86 394.36 L343.42 394.37 L343.99 394.37 L344.56 394.37 L345.14 394.38 L345.72 394.38 L346.31 394.38 L346.9 394.39 L347.5 394.39 L348.1 394.39 L348.71 394.4 L349.33 394.4 L349.94 394.41 L350.57 394.41 L351.2 394.41 L351.83 394.42 L352.47 394.42 L353.11 394.42 L353.76 394.43 L354.41 394.43 L355.07 394.43 L355.73 394.44 L356.39 394.44 L357.06 394.45 L357.74 394.45 L358.41 394.45 L359.1 394.46 L359.78 394.46 L360.47 394.47 L361.17 394.47 L361.87 394.47 L362.57 394.48 L363.28 394.48 L363.99 394.49 L364.7 394.49 L365.42 394.49 L366.14 394.5 L366.87 394.5 L367.59 394.51 L368.33 394.51 L369.06 394.51 L369.8 394.52 L370.54 394.52 L371.29 394.53 L372.04 394.53 L372.79 394.54 L373.54 394.54 L374.05 394.54 L374.57 394.55 L375.1 394.55 L375.64 394.55 L376.18 394.56 L376.74 394.56 L377.3 394.56 L377.87 394.57 L378.45 394.57 L379.03 394.57 L379.63 394.58 L380.23 394.58 L380.83 394.58 L381.45 394.59 L382.07 394.59 L382.69 394.59 L383.33 394.6 L383.97 394.6 L384.61 394.61 L385.26 394.61 L385.92 394.61 L386.58 394.62 L387.24 394.62 L387.91 394.62 L388.59 394.63 L389.26 394.63 L389.95 394.64 L390.63 394.64 L391.32 394.64 L392.01 394.65 L392.71 394.65 L393.41 394.66 L394.11 394.66 L394.81 394.66 L395.51 394.67 L396.22 394.67 L396.93 394.68 L397.64 394.68 L398.35 394.69 L399.07 394.69 L399.78 394.69 L400.49 394.7 L401.21 394.7 L401.92 394.71 L402.64 394.71 L403.35 394.71 L404.06 394.72 L404.78 394.72 L405.49 394.73 L406.2 394.73 L406.91 394.74 L407.62 394.74 L408.32 394.74 L409.03 394.75 L409.73 394.75 L410.43 394.76 L411.13 394.76 L411.82 394.76 L412.51 394.77 L413.2 394.77 L413.88 394.78 L414.56 394.78 L415.24 394.78 L415.91 394.79 L416.58 394.79 L417.24 394.8 L417.9 394.8 L418.55 394.8 L419.2 394.81 L419.84 394.81 L420.48 394.81 L421.11 394.82 L421.73 394.82 L422.35 394.83 L422.96 394.83 L423.56 394.83 L424.16 394.84 L424.75 394.84 L425.33 394.84 L425.9 394.85 L426.47 394.85 L427.03 394.85 L427.58 394.86 L428.12 394.86 L428.65 394.86 L429.17 394.87 L429.69 394.87 L430.19 394.87 L430.69 394.87 L431.17 394.88 L431.65 394.88 L432.11 394.88 L432.56 394.88 L433.01 394.89 L433.44 394.89 L433.86 394.89 L434.27 394.89 L434.67 394.9 L435.05 394.9 L435.43 394.9 L435.79 394.9 L436.13 394.91 L436.47 394.91 L436.79 394.91 L437.1 394.91" stroke="#f83a3a" stroke-width="2.2" fill="none" stroke-linejoin="round" stroke-linecap="round"/>
<line x1="290.6" y1="304.8" x2="437" y2="304.8" stroke="#000" stroke-width="1.6" stroke-dasharray="1.6 1.6"/>
<rect x="288.8" y="261.7" width="148.3" height="148.9" stroke="#111" stroke-width="1.3" fill="none"/>
<line x1="283.8" y1="398" x2="288.8" y2="398" stroke="#111" stroke-width="1.2"/>
<text x="277.2" y="401.7" font-size="10.3" font-weight="bold" text-anchor="end" fill="#111" font-family='"Liberation Sans", sans-serif'>0</text>
<line x1="286" y1="385.64" x2="288.8" y2="385.64" stroke="#111" stroke-width="1.2"/>
<line x1="283.8" y1="373.29" x2="288.8" y2="373.29" stroke="#111" stroke-width="1.2"/>
<text x="277.2" y="376.99" font-size="10.3" font-weight="bold" text-anchor="end" fill="#111" font-family='"Liberation Sans", sans-serif'>20</text>
<line x1="286" y1="360.94" x2="288.8" y2="360.94" stroke="#111" stroke-width="1.2"/>
<line x1="283.8" y1="348.58" x2="288.8" y2="348.58" stroke="#111" stroke-width="1.2"/>
<text x="277.2" y="352.28" font-size="10.3" font-weight="bold" text-anchor="end" fill="#111" font-family='"Liberation Sans", sans-serif'>40</text>
<line x1="286" y1="336.23" x2="288.8" y2="336.23" stroke="#111" stroke-width="1.2"/>
<line x1="283.8" y1="323.87" x2="288.8" y2="323.87" stroke="#111" stroke-width="1.2"/>
<text x="277.2" y="327.57" font-size="10.3" font-weight="bold" text-anchor="end" fill="#111" font-family='"Liberation Sans", sans-serif'>60</text>
<line x1="286" y1="311.51" x2="288.8" y2="311.51" stroke="#111" stroke-width="1.2"/>
<line x1="283.8" y1="299.16" x2="288.8" y2="299.16" stroke="#111" stroke-width="1.2"/>
<text x="277.2" y="302.86" font-size="10.3" font-weight="bold" text-anchor="end" fill="#111" font-family='"Liberation Sans", sans-serif'>80</text>
<line x1="286" y1="286.81" x2="288.8" y2="286.81" stroke="#111" stroke-width="1.2"/>
<line x1="283.8" y1="274.45" x2="288.8" y2="274.45" stroke="#111" stroke-width="1.2"/>
<text x="277.2" y="278.15" font-size="10.3" font-weight="bold" text-anchor="end" fill="#111" font-family='"Liberation Sans", sans-serif'>100</text>
<line x1="288.8" y1="410.6" x2="288.8" y2="415.6" stroke="#111" stroke-width="1.2"/>
<text x="288.8" y="430.3" font-size="10.1" font-weight="bold" text-anchor="middle" fill="#111" font-family='"Liberation Sans", sans-serif'>100</text>
<line x1="299.39" y1="410.6" x2="299.39" y2="413.4" stroke="#111" stroke-width="1.2"/>
<line x1="309.99" y1="410.6" x2="309.99" y2="415.6" stroke="#111" stroke-width="1.2"/>
<text x="309.99" y="430.3" font-size="10.1" font-weight="bold" text-anchor="middle" fill="#111" font-family='"Liberation Sans", sans-serif'>200</text>
<line x1="320.58" y1="410.6" x2="320.58" y2="413.4" stroke="#111" stroke-width="1.2"/>
<line x1="331.17" y1="410.6" x2="331.17" y2="415.6" stroke="#111" stroke-width="1.2"/>
<text x="331.17" y="430.3" font-size="10.1" font-weight="bold" text-anchor="middle" fill="#111" font-family='"Liberation Sans", sans-serif'>300</text>
<line x1="341.76" y1="410.6" x2="341.76" y2="413.4" stroke="#111" stroke-width="1.2"/>
<line x1="352.36" y1="410.6" x2="352.36" y2="415.6" stroke="#111" stroke-width="1.2"/>
<text x="352.36" y="430.3" font-size="10.1" font-weight="bold" text-anchor="middle" fill="#111" font-family='"Liberation Sans", sans-serif'>400</text>
<line x1="362.95" y1="410.6" x2="362.95" y2="413.4" stroke="#111" stroke-width="1.2"/>
<line x1="373.54" y1="410.6" x2="373.54" y2="415.6" stroke="#111" stroke-width="1.2"/>
<text x="373.54" y="430.3" font-size="10.1" font-weight="bold" text-anchor="middle" fill="#111" font-family='"Liberation Sans", sans-serif'>500</text>
<line x1="384.14" y1="410.6" x2="384.14" y2="413.4" stroke="#111" stroke-width="1.2"/>
<line x1="394.73" y1="410.6" x2="394.73" y2="415.6" stroke="#111" stroke-width="1.2"/>
<text x="394.73" y="430.3" font-size="10.1" font-weight="bold" text-anchor="middle" fill="#111" font-family='"Liberation Sans", sans-serif'>600</text>
<line x1="405.32" y1="410.6" x2="405.32" y2="413.4" stroke="#111" stroke-width="1.2"/>
<line x1="415.92" y1="410.6" x2="415.92" y2="415.6" stroke="#111" stroke-width="1.2"/>
<text x="415.92" y="430.3" font-size="10.1" font-weight="bold" text-anchor="middle" fill="#111" font-family='"Liberation Sans", sans-serif'>700</text>
<line x1="426.51" y1="410.6" x2="426.51" y2="413.4" stroke="#111" stroke-width="1.2"/>
<line x1="437.1" y1="410.6" x2="437.1" y2="415.6" stroke="#111" stroke-width="1.2"/>
<text x="437.1" y="430.3" font-size="10.1" font-weight="bold" text-anchor="middle" fill="#111" font-family='"Liberation Sans", sans-serif'>800</text>
<text x="367.2" y="447.3" font-size="12.6" font-weight="bold" text-anchor="middle" fill="#111" font-family='"Liberation Sans", sans-serif'>Temperature (°C)</text>
<text x="255.8" y="331.8" font-size="12.8" font-weight="bold" text-anchor="middle" fill="#111" font-family='"Liberation Sans", sans-serif' transform="rotate(-90 255.8 331.8)">Weight (%)</text>
<line x1="347.3" y1="347.6" x2="368.8" y2="347.6" stroke="#6dd499" stroke-width="2"/>
<text x="371.1" y="350.9" font-size="9.2" font-weight="bold" text-anchor="start" fill="#111" font-family='"Liberation Sans", sans-serif'>DHTA-Hz</text>
<line x1="347.3" y1="359" x2="368.8" y2="359" stroke="#5b9bd5" stroke-width="2"/>
<text x="371.1" y="362.3" font-size="9.2" font-weight="bold" text-anchor="start" fill="#111" font-family='"Liberation Sans", sans-serif'>DHTA-Hz-15C5</text>
<line x1="347.3" y1="370.7" x2="368.8" y2="370.7" stroke="#f83a3a" stroke-width="2"/>
<text x="371.1" y="374" font-size="9.2" font-weight="bold" text-anchor="start" fill="#111" font-family='"Liberation Sans", sans-serif'>15C5</text>
<path d="M540.7 333 L540.7 332.52 L541.2 332.51 L541.7 332.5 L542.2 332.49 L542.7 332.48 L543.2 332.47 L543.7 332.47 L544.2 332.46 L544.7 332.45 L545.2 332.44 L545.7 332.43 L546.2 332.42 L546.7 332.41 L547.2 332.4 L547.7 332.39 L548.2 332.37 L548.7 332.36 L549.2 332.35 L549.7 332.34 L550.2 332.33 L550.7 332.31 L551.2 332.3 L551.7 332.29 L552.2 332.27 L552.7 332.26 L553.2 332.24 L553.7 332.23 L554.2 332.21 L554.7 332.2 L555.2 332.18 L555.7 332.16 L556.2 332.14 L556.7 332.13 L557.2 332.11 L557.7 332.09 L558.2 332.07 L558.7 332.04 L559.2 332.02 L559.7 332 L560.2 331.98 L560.7 331.95 L561.2 331.93 L561.7 331.9 L562.2 331.87 L562.7 331.84 L563.2 331.81 L563.7 331.78 L564.2 331.74 L564.7 331.71 L565.2 331.67 L565.7 331.63 L566.2 331.59 L566.7 331.55 L567.2 331.5 L567.7 331.45 L568.2 331.39 L568.7 331.34 L569.2 331.28 L569.7 331.21 L570.2 331.14 L570.7 331.06 L571.2 330.98 L571.7 330.89 L572.2 330.8 L572.7 330.7 L573.2 330.59 L573.7 330.47 L574.2 330.34 L574.7 330.2 L575.2 330.05 L575.7 329.88 L576.2 329.71 L576.7 329.52 L577.2 329.31 L577.7 329.09 L578.2 328.86 L578.7 328.6 L579.2 328.33 L579.7 328.03 L580.2 327.72 L580.7 327.38 L581.2 327.03 L581.7 326.64 L582.2 326.24 L582.7 325.81 L583.2 325.35 L583.7 324.87 L584.2 324.36 L584.7 323.83 L585.2 323.27 L585.7 322.68 L586.2 322.07 L586.7 321.43 L587.2 320.76 L587.7 320.08 L588.2 319.37 L588.7 318.64 L589.2 317.89 L589.7 317.12 L590.2 316.34 L590.7 315.54 L591.2 314.74 L591.7 313.93 L592.2 313.12 L592.7 312.31 L593.2 311.5 L593.7 310.71 L594.2 309.94 L594.7 309.18 L595.2 308.46 L595.7 307.77 L596.2 307.12 L596.7 306.53 L597.2 305.98 L597.7 305.5 L598.2 305.09 L598.7 304.75 L599.2 304.49 L599.7 304.31 L600.2 304.22 L600.7 304.21 L601.2 304.28 L601.7 304.45 L602.2 304.69 L602.7 305.02 L603.2 305.41 L603.7 305.88 L604.2 306.41 L604.7 307 L605.2 307.64 L605.7 308.32 L606.2 309.04 L606.7 309.78 L607.2 310.55 L607.7 311.34 L608.2 312.15 L608.7 312.96 L609.2 313.77 L609.7 314.58 L610.2 315.38 L610.7 316.18 L611.2 316.97 L611.7 317.74 L612.2 318.49 L612.7 319.22 L613.2 319.94 L613.7 320.63 L614.2 321.3 L614.7 321.94 L615.2 322.56 L615.7 323.15 L616.2 323.72 L616.7 324.26 L617.2 324.77 L617.7 325.26 L618.2 325.72 L618.7 326.15 L619.2 326.56 L619.7 326.95 L620.2 327.31 L620.7 327.65 L621.2 327.97 L621.7 328.27 L622.2 328.55 L622.7 328.81 L623.2 329.05 L623.7 329.27 L624.2 329.48 L624.7 329.67 L625.2 329.85 L625.7 330.02 L626.2 330.17 L626.7 330.31 L627.2 330.44 L627.7 330.56 L628.2 330.68 L628.7 330.78 L629.2 330.88 L629.7 330.96 L630.2 331.05 L630.7 331.12 L631.2 331.2 L631.7 331.26 L632.2 331.32 L632.7 331.38 L633.2 331.44 L633.7 331.49 L634.2 331.54 L634.7 331.58 L635.2 331.62 L635.7 331.66 L636.2 331.7 L636.7 331.74 L637.2 331.77 L637.7 331.8 L638.2 331.84 L638.7 331.86 L639.2 331.89 L639.7 331.92 L640.2 331.95 L640.7 331.97 L641.2 332 L641.7 332.02 L642.2 332.04 L642.7 332.06 L643.2 332.08 L643.7 332.1 L644.2 332.12 L644.7 332.14 L645.2 332.16 L645.7 332.18 L646.2 332.19 L646.7 332.21 L647.2 332.23 L647.7 332.24 L648.2 332.26 L648.7 332.27 L649.2 332.28 L649.7 332.3 L650.2 332.31 L650.7 332.32 L651.2 332.34 L651.7 332.35 L652.2 332.36 L652.7 332.37 L653.2 332.38 L653.7 332.39 L654.2 332.41 L654.7 332.42 L655.2 332.43 L655.7 332.44 L656.2 332.45 L656.7 332.46 L657.2 332.46 L657.7 332.47 L658.2 332.48 L658.7 332.49 L659.2 332.5 L659.7 332.51 L660.2 332.51 L660.2 333Z" fill="#a9c8e8" opacity="0.8"/>
<path d="M580.7 333 L580.7 332.15 L581.2 332.13 L581.7 332.11 L582.2 332.09 L582.7 332.07 L583.2 332.04 L583.7 332.02 L584.2 332 L584.7 331.98 L585.2 331.95 L585.7 331.92 L586.2 331.9 L586.7 331.87 L587.2 331.84 L587.7 331.81 L588.2 331.78 L588.7 331.75 L589.2 331.72 L589.7 331.68 L590.2 331.65 L590.7 331.61 L591.2 331.57 L591.7 331.53 L592.2 331.49 L592.7 331.44 L593.2 331.39 L593.7 331.35 L594.2 331.29 L594.7 331.24 L595.2 331.18 L595.7 331.12 L596.2 331.06 L596.7 330.99 L597.2 330.92 L597.7 330.85 L598.2 330.77 L598.7 330.68 L599.2 330.59 L599.7 330.49 L600.2 330.38 L600.7 330.26 L601.2 330.13 L601.7 329.99 L602.2 329.83 L602.7 329.66 L603.2 329.47 L603.7 329.26 L604.2 329.03 L604.7 328.78 L605.2 328.49 L605.7 328.18 L606.2 327.83 L606.7 327.44 L607.2 327.01 L607.7 326.53 L608.2 326 L608.7 325.42 L609.2 324.78 L609.7 324.07 L610.2 323.3 L610.7 322.45 L611.2 321.53 L611.7 320.53 L612.2 319.45 L612.7 318.29 L613.2 317.04 L613.7 315.7 L614.2 314.28 L614.7 312.78 L615.2 311.2 L615.7 309.54 L616.2 307.81 L616.7 306.01 L617.2 304.17 L617.7 302.27 L618.2 300.35 L618.7 298.41 L619.2 296.47 L619.7 294.54 L620.2 292.67 L620.7 290.85 L621.2 289.13 L621.7 287.53 L622.2 286.09 L622.7 284.82 L623.2 283.76 L623.7 282.93 L624.2 282.36 L624.7 282.05 L625.2 282.02 L625.7 282.27 L626.2 282.79 L626.7 283.57 L627.2 284.59 L627.7 285.82 L628.2 287.23 L628.7 288.8 L629.2 290.5 L629.7 292.3 L630.2 294.16 L630.7 296.08 L631.2 298.02 L631.7 299.96 L632.2 301.89 L632.7 303.79 L633.2 305.65 L633.7 307.45 L634.2 309.2 L634.7 310.87 L635.2 312.47 L635.7 313.99 L636.2 315.42 L636.7 316.78 L637.2 318.04 L637.7 319.22 L638.2 320.32 L638.7 321.34 L639.2 322.27 L639.7 323.13 L640.2 323.92 L640.7 324.64 L641.2 325.3 L641.7 325.89 L642.2 326.43 L642.7 326.92 L643.2 327.36 L643.7 327.76 L644.2 328.11 L644.7 328.43 L645.2 328.72 L645.7 328.99 L646.2 329.22 L646.7 329.43 L647.2 329.63 L647.7 329.8 L648.2 329.96 L648.7 330.1 L649.2 330.23 L649.7 330.35 L650.2 330.46 L650.7 330.57 L651.2 330.66 L651.7 330.75 L652.2 330.83 L652.7 330.91 L653.2 330.98 L653.7 331.05 L654.2 331.11 L654.7 331.17 L655.2 331.23 L655.7 331.28 L656.2 331.34 L656.7 331.39 L657.2 331.43 L657.7 331.48 L658.2 331.52 L658.7 331.56 L659.2 331.6 L659.7 331.64 L660.2 331.67 L660.7 331.71 L661.2 331.74 L661.7 331.78 L662.2 331.81 L662.7 331.84 L663.2 331.87 L663.2 333Z" fill="#a6e4c2" opacity="0.8"/>
<path d="M578.2 326.39 L578.7 326.12 L579.2 325.83 L579.7 325.52 L580.2 325.18 L580.7 324.83 L581.2 324.45 L581.7 324.05 L582.2 323.62 L582.7 323.17 L583.2 322.69 L583.7 322.19 L584.2 321.66 L584.7 321.1 L585.2 320.52 L585.7 319.9 L586.2 319.26 L586.7 318.6 L587.2 317.91 L587.7 317.19 L588.2 316.45 L588.7 315.69 L589.2 314.91 L589.7 314.1 L590.2 313.28 L590.7 312.45 L591.2 311.61 L591.7 310.76 L592.2 309.9 L592.7 309.05 L593.2 308.2 L593.7 307.36 L594.2 306.53 L594.7 305.72 L595.2 304.94 L595.7 304.2 L596.2 303.49 L596.7 302.82 L597.2 302.21 L597.7 301.65 L598.2 301.16 L598.7 300.73 L599.2 300.38 L599.7 300.1 L600.2 299.89 L600.7 299.76 L601.2 299.71 L601.7 299.73 L602.2 299.82 L602.7 299.98 L603.2 300.19 L603.7 300.45 L604.2 300.75 L604.7 301.08 L605.2 301.43 L605.7 301.8 L606.2 302.17 L606.7 302.52 L607.2 302.86 L607.7 303.18 L608.2 303.45 L608.7 303.68 L609.2 303.85 L609.7 303.95 L610.2 303.98 L610.7 303.93 L611.2 303.8 L611.7 303.57 L612.2 303.24 L612.7 302.81 L613.2 302.27 L613.7 301.63 L614.2 300.88 L614.7 300.02 L615.2 299.06 L615.7 297.99 L616.2 296.82 L616.7 295.57 L617.2 294.23 L617.7 292.83 L618.2 291.37 L618.7 289.86 L619.2 288.33 L619.7 286.8 L620.2 285.28 L620.7 283.81 L621.2 282.41 L621.7 281.1 L622.2 279.93 L622.7 278.93 L623.2 278.11 L623.7 277.5 L624.2 277.13 L624.7 277.02 L625.2 277.17 L625.7 277.59 L626.2 278.26 L626.7 279.18 L627.2 280.33 L627.7 281.68 L628.2 283.21 L628.7 284.88 L629.2 286.68 L629.7 288.56 L630.2 290.51 L630.7 292.5 L631.2 294.51 L631.7 296.52 L632.2 298.51 L632.7 300.47 L633.2 302.39 L633.7 304.24 L634.2 306.03 L634.7 307.75 L635.2 309.39 L635.7 310.95 L636.2 312.43 L636.7 313.81 L637.2 315.11 L637.7 316.33 L638.2 317.46 L638.7 318.5 L639.2 319.47 L639.7 320.35 L640.2 321.17 L640.7 321.91 L641.2 322.59 L641.7 323.21 L642.2 323.77 L642.7 324.28 L643.2 324.74 L643.7 325.16 L644.2 325.53 L644.7 325.87 L645.2 326.18 L645.7 326.46 L646.2 326.71 L646.7 326.94 L647.2 327.15 L647.7 327.34 L648.2 327.51 L648.7 327.67 L649.2 327.82 L649.7 327.95 L650.2 328.08 L650.7 328.19 L651.2 328.3 L651.7 328.4 L652.2 328.49 L652.7 328.58 L653.2 328.66 L653.7 328.74 L654.2 328.82 L654.7 328.89" stroke="#111" stroke-width="1.0" fill="none" stroke-dasharray="1.1 0.9"/>
<path d="M519.2 330.71 L519.7 331.03 L520.2 330.4 L520.7 331.36 L521.2 330.65 L521.7 331.31 L522.2 330.45 L522.7 330.57 L523.2 330.36 L523.7 330.56 L524.2 330.19 L524.7 329.9 L525.2 330.87 L525.7 330.21 L526.2 330.12 L526.7 330.17 L527.2 330.38 L527.7 330.27 L528.2 330.53 L528.7 330.52 L529.2 330.07 L529.7 330.82 L530.2 330.68 L530.7 329.53 L531.2 330.57 L531.7 330.64 L532.2 330.44 L532.7 329.5 L533.2 330.43 L533.7 330.11 L534.2 329.21 L534.7 329.17 L535.2 330.45 L535.7 330 L536.2 329.39 L536.7 329.15 L537.2 329.17 L537.7 329.26 L538.2 329.98 L538.7 329.34 L539.2 329.03 L539.7 330.05 L540.2 329.85 L540.7 328.94 L541.2 329.92 L541.7 329.49 L542.2 329.69 L542.7 329.5 L543.2 329.78 L543.7 329.59 L544.2 329.62 L544.7 328.69 L545.2 329.35 L545.7 329.08 L546.2 329.34 L546.7 328.88 L547.2 329.46 L547.7 328.97 L548.2 328.52 L548.7 328.44 L549.2 328.27 L549.7 328.73 L550.2 328.09 L550.7 328.62 L551.2 328.13 L551.7 328.58 L552.2 328.56 L552.7 328.58 L553.2 328.99 L553.7 327.76 L554.2 328.89 L554.7 328.33 L555.2 328.42 L555.7 328.53 L556.2 328.74 L556.7 328.05 L557.2 328.07 L557.7 328.8 L558.2 327.52 L558.7 328.27 L559.2 328.23 L559.7 327.34 L560.2 328.12 L560.7 328.18 L561.2 328.5 L561.7 327.62 L562.2 328.49 L562.7 327.8 L563.2 327.72 L563.7 328.26 L564.2 327.02 L564.7 327.94 L565.2 327.77 L565.7 327.33 L566.2 328.03 L566.7 327.3 L567.2 327.41 L567.7 327.45 L568.2 327.75 L568.7 326.93 L569.2 327.21 L569.7 327.15 L570.2 327.3 L570.7 327.65 L571.2 326.86 L571.7 327.57 L572.2 326.94 L572.7 327.05 L573.2 326.68 L573.7 326.98 L574.2 327.59 L574.7 327.11 L575.2 327.26 L575.7 326.58 L576.2 326.53 L576.7 326.46 L577.2 326.83 L577.7 326.86 L578.2 327.03 L578.7 325.95 L579.2 326.87" stroke="#1a1a1a" stroke-width="1.1" fill="none" stroke-linejoin="round" stroke-linecap="round"/>
<line x1="519.2" y1="333.3" x2="663.6" y2="333.3" stroke="#bbb" stroke-width="1.2"/>
<path d="M553.7 409.6 L553.7 408.74 L554.2 408.72 L554.7 408.7 L555.2 408.69 L555.7 408.67 L556.2 408.65 L556.7 408.62 L557.2 408.6 L557.7 408.58 L558.2 408.56 L558.7 408.53 L559.2 408.51 L559.7 408.48 L560.2 408.46 L560.7 408.43 L561.2 408.4 L561.7 408.37 L562.2 408.34 L562.7 408.31 L563.2 408.28 L563.7 408.24 L564.2 408.21 L564.7 408.17 L565.2 408.13 L565.7 408.09 L566.2 408.05 L566.7 408 L567.2 407.96 L567.7 407.91 L568.2 407.86 L568.7 407.81 L569.2 407.75 L569.7 407.7 L570.2 407.64 L570.7 407.57 L571.2 407.5 L571.7 407.43 L572.2 407.35 L572.7 407.27 L573.2 407.18 L573.7 407.09 L574.2 406.99 L574.7 406.87 L575.2 406.75 L575.7 406.62 L576.2 406.48 L576.7 406.33 L577.2 406.16 L577.7 405.97 L578.2 405.76 L578.7 405.54 L579.2 405.29 L579.7 405.01 L580.2 404.7 L580.7 404.37 L581.2 403.99 L581.7 403.58 L582.2 403.13 L582.7 402.63 L583.2 402.08 L583.7 401.48 L584.2 400.83 L584.7 400.11 L585.2 399.32 L585.7 398.48 L586.2 397.56 L586.7 396.56 L587.2 395.5 L587.7 394.36 L588.2 393.14 L588.7 391.84 L589.2 390.46 L589.7 389.01 L590.2 387.49 L590.7 385.9 L591.2 384.24 L591.7 382.53 L592.2 380.76 L592.7 378.96 L593.2 377.12 L593.7 375.26 L594.2 373.4 L594.7 371.55 L595.2 369.73 L595.7 367.96 L596.2 366.26 L596.7 364.66 L597.2 363.18 L597.7 361.84 L598.2 360.67 L598.7 359.7 L599.2 358.95 L599.7 358.42 L600.2 358.15 L600.7 358.12 L601.2 358.35 L601.7 358.82 L602.2 359.53 L602.7 360.46 L603.2 361.59 L603.7 362.9 L604.2 364.35 L604.7 365.93 L605.2 367.61 L605.7 369.37 L606.2 371.18 L606.7 373.03 L607.2 374.89 L607.7 376.75 L608.2 378.59 L608.7 380.41 L609.2 382.18 L609.7 383.91 L610.2 385.57 L610.7 387.18 L611.2 388.72 L611.7 390.18 L612.2 391.57 L612.7 392.88 L613.2 394.12 L613.7 395.28 L614.2 396.36 L614.7 397.36 L615.2 398.3 L615.7 399.16 L616.2 399.96 L616.7 400.69 L617.2 401.36 L617.7 401.97 L618.2 402.53 L618.7 403.03 L619.2 403.5 L619.7 403.92 L620.2 404.3 L620.7 404.64 L621.2 404.95 L621.7 405.23 L622.2 405.49 L622.7 405.72 L623.2 405.93 L623.7 406.12 L624.2 406.29 L624.7 406.45 L625.2 406.6 L625.7 406.73 L626.2 406.85 L626.7 406.96 L627.2 407.07 L627.7 407.16 L628.2 407.25 L628.7 407.34 L629.2 407.41 L629.7 407.49 L630.2 407.56 L630.7 407.62 L631.2 407.68 L631.7 407.74 L632.2 407.8 L632.7 407.85 L633.2 407.9 L633.7 407.95 L634.2 408 L634.7 408.04 L635.2 408.08 L635.7 408.12 L636.2 408.16 L636.7 408.2 L637.2 408.23 L637.7 408.27 L638.2 408.3 L638.7 408.33 L639.2 408.36 L639.7 408.39 L640.2 408.42 L640.7 408.45 L641.2 408.48 L641.7 408.5 L642.2 408.53 L642.7 408.55 L643.2 408.58 L643.7 408.6 L644.2 408.62 L644.7 408.64 L645.2 408.66 L645.7 408.68 L646.2 408.7 L646.7 408.72 L647.2 408.74 L647.2 409.6Z" fill="#a9c8e8" opacity="0.8"/>
<path d="M569.7 409.6 L569.7 409.25 L570.2 409.24 L570.7 409.23 L571.2 409.23 L571.7 409.22 L572.2 409.21 L572.7 409.2 L573.2 409.2 L573.7 409.19 L574.2 409.18 L574.7 409.17 L575.2 409.16 L575.7 409.16 L576.2 409.15 L576.7 409.14 L577.2 409.13 L577.7 409.12 L578.2 409.11 L578.7 409.1 L579.2 409.09 L579.7 409.08 L580.2 409.06 L580.7 409.05 L581.2 409.04 L581.7 409.03 L582.2 409.01 L582.7 409 L583.2 408.99 L583.7 408.97 L584.2 408.96 L584.7 408.94 L585.2 408.92 L585.7 408.91 L586.2 408.89 L586.7 408.87 L587.2 408.85 L587.7 408.83 L588.2 408.81 L588.7 408.79 L589.2 408.76 L589.7 408.74 L590.2 408.71 L590.7 408.68 L591.2 408.65 L591.7 408.62 L592.2 408.59 L592.7 408.55 L593.2 408.51 L593.7 408.47 L594.2 408.43 L594.7 408.38 L595.2 408.33 L595.7 408.27 L596.2 408.21 L596.7 408.14 L597.2 408.07 L597.7 407.99 L598.2 407.9 L598.7 407.8 L599.2 407.7 L599.7 407.59 L600.2 407.46 L600.7 407.32 L601.2 407.17 L601.7 407.01 L602.2 406.83 L602.7 406.63 L603.2 406.42 L603.7 406.19 L604.2 405.94 L604.7 405.67 L605.2 405.38 L605.7 405.06 L606.2 404.72 L606.7 404.36 L607.2 403.97 L607.7 403.55 L608.2 403.11 L608.7 402.64 L609.2 402.14 L609.7 401.62 L610.2 401.07 L610.7 400.49 L611.2 399.89 L611.7 399.26 L612.2 398.61 L612.7 397.94 L613.2 397.25 L613.7 396.54 L614.2 395.82 L614.7 395.09 L615.2 394.35 L615.7 393.6 L616.2 392.86 L616.7 392.12 L617.2 391.4 L617.7 390.69 L618.2 390.01 L618.7 389.36 L619.2 388.74 L619.7 388.17 L620.2 387.66 L620.7 387.2 L621.2 386.81 L621.7 386.49 L622.2 386.24 L622.7 386.08 L623.2 386.01 L623.7 386.02 L624.2 386.11 L624.7 386.29 L625.2 386.55 L625.7 386.88 L626.2 387.29 L626.7 387.76 L627.2 388.28 L627.7 388.86 L628.2 389.48 L628.7 390.14 L629.2 390.83 L629.7 391.54 L630.2 392.27 L630.7 393.01 L631.2 393.75 L631.7 394.49 L632.2 395.23 L632.7 395.97 L633.2 396.68 L633.7 397.39 L634.2 398.08 L634.7 398.74 L635.2 399.39 L635.7 400.01 L636.2 400.61 L636.7 401.18 L637.2 401.73 L637.7 402.25 L638.2 402.74 L638.7 403.2 L639.2 403.64 L639.7 404.05 L640.2 404.43 L640.7 404.79 L641.2 405.13 L641.7 405.44 L642.2 405.73 L642.7 405.99 L643.2 406.24 L643.7 406.47 L644.2 406.67 L644.7 406.87 L645.2 407.04 L645.7 407.2 L646.2 407.35 L646.7 407.49 L647.2 407.61 L647.7 407.72 L648.2 407.82 L648.7 407.92 L649.2 408 L649.7 408.08 L650.2 408.16 L650.7 408.22 L651.2 408.28 L651.7 408.34 L652.2 408.39 L652.7 408.44 L653.2 408.48 L653.7 408.52 L654.2 408.56 L654.7 408.6 L655.2 408.63 L655.7 408.66 L656.2 408.69 L656.7 408.72 L657.2 408.74 L657.7 408.77 L658.2 408.79 L658.7 408.81 L659.2 408.83 L659.7 408.85 L660.2 408.87 L660.7 408.89 L661.2 408.91 L661.7 408.93 L662.2 408.94 L662.7 408.96 L663.2 408.97 L663.2 409.6Z" fill="#a6e4c2" opacity="0.8"/>
<path d="M519.2 409.6 L519.2 409.41 L519.7 409.41 L520.2 409.4 L520.7 409.4 L521.2 409.4 L521.7 409.39 L522.2 409.39 L522.7 409.38 L523.2 409.38 L523.7 409.37 L524.2 409.37 L524.7 409.36 L525.2 409.36 L525.7 409.35 L526.2 409.35 L526.7 409.34 L527.2 409.33 L527.7 409.33 L528.2 409.32 L528.7 409.31 L529.2 409.3 L529.7 409.29 L530.2 409.29 L530.7 409.28 L531.2 409.27 L531.7 409.25 L532.2 409.24 L532.7 409.23 L533.2 409.22 L533.7 409.2 L534.2 409.19 L534.7 409.17 L535.2 409.15 L535.7 409.13 L536.2 409.11 L536.7 409.09 L537.2 409.06 L537.7 409.04 L538.2 409.01 L538.7 408.98 L539.2 408.95 L539.7 408.92 L540.2 408.88 L540.7 408.84 L541.2 408.8 L541.7 408.75 L542.2 408.7 L542.7 408.65 L543.2 408.6 L543.7 408.54 L544.2 408.48 L544.7 408.41 L545.2 408.34 L545.7 408.27 L546.2 408.19 L546.7 408.1 L547.2 408.02 L547.7 407.92 L548.2 407.82 L548.7 407.72 L549.2 407.61 L549.7 407.5 L550.2 407.38 L550.7 407.26 L551.2 407.13 L551.7 406.99 L552.2 406.85 L552.7 406.71 L553.2 406.56 L553.7 406.4 L554.2 406.24 L554.7 406.07 L555.2 405.9 L555.7 405.73 L556.2 405.55 L556.7 405.37 L557.2 405.18 L557.7 404.99 L558.2 404.8 L558.7 404.61 L559.2 404.41 L559.7 404.21 L560.2 404.02 L560.7 403.82 L561.2 403.62 L561.7 403.42 L562.2 403.23 L562.7 403.04 L563.2 402.85 L563.7 402.67 L564.2 402.49 L564.7 402.32 L565.2 402.15 L565.7 401.99 L566.2 401.84 L566.7 401.7 L567.2 401.57 L567.7 401.46 L568.2 401.35 L568.7 401.26 L569.2 401.18 L569.7 401.11 L570.2 401.06 L570.7 401.03 L571.2 401 L571.7 401 L572.2 401.01 L572.7 401.04 L573.2 401.08 L573.7 401.14 L574.2 401.21 L574.7 401.29 L575.2 401.39 L575.7 401.5 L576.2 401.62 L576.7 401.76 L577.2 401.9 L577.7 402.05 L578.2 402.22 L578.7 402.38 L579.2 402.56 L579.7 402.74 L580.2 402.93 L580.7 403.11 L581.2 403.31 L581.7 403.5 L582.2 403.7 L582.7 403.9 L583.2 404.09 L583.7 404.29 L584.2 404.49 L584.7 404.68 L585.2 404.88 L585.7 405.07 L586.2 405.26 L586.7 405.44 L587.2 405.62 L587.7 405.8 L588.2 405.97 L588.7 406.14 L589.2 406.3 L589.7 406.46 L590.2 406.62 L590.7 406.77 L591.2 406.91 L591.7 407.05 L592.2 407.18 L592.7 407.31 L593.2 407.43 L593.7 407.55 L594.2 407.66 L594.7 407.76 L595.2 407.86 L595.7 407.96 L596.2 408.05 L596.7 408.14 L597.2 408.22 L597.7 408.3 L598.2 408.37 L598.7 408.44 L599.2 408.5 L599.7 408.56 L600.2 408.62 L600.7 408.67 L601.2 408.72 L601.7 408.77 L602.2 408.81 L602.7 408.86 L603.2 408.89 L603.7 408.93 L604.2 408.96 L604.7 408.99 L605.2 409.02 L605.7 409.05 L606.2 409.07 L606.7 409.1 L607.2 409.12 L607.7 409.14 L608.2 409.16 L608.7 409.18 L609.2 409.19 L609.7 409.21 L610.2 409.22 L610.7 409.23 L611.2 409.25 L611.7 409.26 L612.2 409.27 L612.7 409.28 L613.2 409.29 L613.7 409.3 L614.2 409.31 L614.7 409.31 L615.2 409.32 L615.7 409.33 L616.2 409.34 L616.7 409.34 L617.2 409.35 L617.7 409.35 L618.2 409.36 L618.7 409.37 L619.2 409.37 L619.7 409.38 L620.2 409.38 L620.7 409.38 L621.2 409.39 L621.7 409.39 L622.2 409.4 L622.7 409.4 L623.2 409.4 L623.7 409.41 L624.2 409.41 L624.7 409.42 L625.2 409.42 L625.7 409.42 L626.2 409.42 L626.7 409.43 L627.2 409.43 L627.7 409.43 L628.2 409.44 L628.7 409.44 L629.2 409.44 L629.7 409.44 L630.2 409.45 L630.7 409.45 L631.2 409.45 L631.7 409.45 L632.2 409.46 L632.7 409.46 L633.2 409.46 L633.7 409.46 L634.2 409.46 L634.7 409.47 L635.2 409.47 L635.7 409.47 L636.2 409.47 L636.7 409.47 L637.2 409.48 L637.7 409.48 L638.2 409.48 L638.7 409.48 L639.2 409.48 L639.7 409.48 L640.2 409.49 L640.7 409.49 L641.2 409.49 L641.7 409.49 L642.2 409.49 L642.7 409.49 L643.2 409.5 L643.7 409.5 L644.2 409.5 L644.7 409.5 L645.2 409.5 L645.7 409.5 L646.2 409.5 L646.2 409.6Z" fill="#fa8c92" opacity="0.8"/>
<path d="M575.2 396.21 L575.7 396.18 L576.2 396.15 L576.7 396.12 L577.2 396.09 L577.7 396.04 L578.2 395.99 L578.7 395.92 L579.2 395.83 L579.7 395.73 L580.2 395.59 L580.7 395.43 L581.2 395.24 L581.7 395.01 L582.2 394.74 L582.7 394.43 L583.2 394.07 L583.7 393.65 L584.2 393.17 L584.7 392.63 L585.2 392.03 L585.7 391.35 L586.2 390.6 L586.7 389.78 L587.2 388.87 L587.7 387.88 L588.2 386.82 L588.7 385.66 L589.2 384.43 L589.7 383.11 L590.2 381.72 L590.7 380.25 L591.2 378.71 L591.7 377.1 L592.2 375.43 L592.7 373.72 L593.2 371.96 L593.7 370.18 L594.2 368.39 L594.7 366.59 L595.2 364.82 L595.7 363.09 L596.2 361.42 L596.7 359.84 L597.2 358.36 L597.7 357.02 L598.2 355.84 L598.7 354.84 L599.2 354.05 L599.7 353.47 L600.2 353.13 L600.7 353.02 L601.2 353.14 L601.7 353.5 L602.2 354.08 L602.7 354.85 L603.2 355.81 L603.7 356.92 L604.2 358.15 L604.7 359.49 L605.2 360.91 L605.7 362.38 L606.2 363.88 L606.7 365.38 L607.2 366.88 L607.7 368.34 L608.2 369.76 L608.7 371.12 L609.2 372.42 L609.7 373.63 L610.2 374.77 L610.7 375.81 L611.2 376.75 L611.7 377.6 L612.2 378.35 L612.7 379 L613.2 379.56 L613.7 380.02 L614.2 380.38 L614.7 380.67 L615.2 380.87 L615.7 380.99 L616.2 381.05 L616.7 381.05 L617.2 381 L617.7 380.91 L618.2 380.8 L618.7 380.66 L619.2 380.51 L619.7 380.36 L620.2 380.23 L620.7 380.12 L621.2 380.05 L621.7 380.01 L622.2 380.03 L622.7 380.1 L623.2 380.24 L623.7 380.44 L624.2 380.72 L624.7 381.05 L625.2 381.46 L625.7 381.93 L626.2 382.46 L626.7 383.05 L627.2 383.68 L627.7 384.36 L628.2 385.07 L628.7 385.82 L629.2 386.59 L629.7 387.37 L630.2 388.17 L630.7 388.98 L631.2 389.79 L631.7 390.59 L632.2 391.39 L632.7 392.17 L633.2 392.95 L633.7 393.7 L634.2 394.44 L634.7 395.15 L635.2 395.84 L635.7 396.51 L636.2 397.14 L636.7 397.76 L637.2 398.34 L637.7 398.89 L638.2 399.42 L638.7 399.92 L639.2 400.39 L639.7 400.83 L640.2 401.24 L640.7 401.63 L641.2 401.99 L641.7 402.33 L642.2 402.65 L642.7 402.94 L643.2 403.21 L643.7 403.46 L644.2 403.69 L644.7 403.91 L645.2 404.1 L645.7 404.29 L646.2 404.45 L646.7 404.61 L647.2 404.75 L647.7 404.88 L648.2 405 L648.7 405.12 L649.2 405.22 L649.7 405.31 L650.2 405.4 L650.7 405.48 L651.2 405.56 L651.7 405.63 L652.2 405.7 L652.7 405.76 L653.2 405.82 L653.7 405.87 L654.2 405.92 L654.7 405.97" stroke="#111" stroke-width="1.0" fill="none" stroke-dasharray="1.1 0.9"/>
<line x1="519.2" y1="410" x2="663.6" y2="410" stroke="#bbb" stroke-width="1.2"/>
<rect x="519.2" y="260.2" width="144.4" height="151.6" stroke="#111" stroke-width="1.3" fill="none"/>
<line x1="519.2" y1="333.4" x2="663.6" y2="333.4" stroke="#111" stroke-width="1.1"/>
<line x1="519.2" y1="411.8" x2="519.2" y2="416" stroke="#111" stroke-width="1.2"/>
<text x="519.2" y="430.5" font-size="10.9" font-weight="bold" text-anchor="middle" fill="#111" font-family='"Liberation Sans", sans-serif'>292</text>
<line x1="548.08" y1="411.8" x2="548.08" y2="416" stroke="#111" stroke-width="1.2"/>
<text x="548.08" y="430.5" font-size="10.9" font-weight="bold" text-anchor="middle" fill="#111" font-family='"Liberation Sans", sans-serif'>290</text>
<line x1="576.96" y1="411.8" x2="576.96" y2="416" stroke="#111" stroke-width="1.2"/>
<text x="576.96" y="430.5" font-size="10.9" font-weight="bold" text-anchor="middle" fill="#111" font-family='"Liberation Sans", sans-serif'>288</text>
<line x1="605.84" y1="411.8" x2="605.84" y2="416" stroke="#111" stroke-width="1.2"/>
<text x="605.84" y="430.5" font-size="10.9" font-weight="bold" text-anchor="middle" fill="#111" font-family='"Liberation Sans", sans-serif'>286</text>
<line x1="634.72" y1="411.8" x2="634.72" y2="416" stroke="#111" stroke-width="1.2"/>
<text x="634.72" y="430.5" font-size="10.9" font-weight="bold" text-anchor="middle" fill="#111" font-family='"Liberation Sans", sans-serif'>284</text>
<line x1="663.6" y1="411.8" x2="663.6" y2="416" stroke="#111" stroke-width="1.2"/>
<text x="663.6" y="430.5" font-size="10.9" font-weight="bold" text-anchor="middle" fill="#111" font-family='"Liberation Sans", sans-serif'>282</text>
<text x="591.6" y="449.6" font-size="12.8" font-weight="bold" text-anchor="middle" fill="#111" font-family='"Liberation Sans", sans-serif'>Binding energy (eV)</text>
<text x="508.6" y="337.5" font-size="12.75" font-weight="bold" text-anchor="middle" fill="#111" font-family='"Liberation Sans", sans-serif' transform="rotate(-90 508.6 337.5)">Intensity (arb.units.)</text>
<text x="525" y="271.6" font-size="10.2" font-weight="bold" text-anchor="start" fill="#111" font-family='"Liberation Sans", sans-serif'>C</text>
<text x="535.2" y="271.5" font-size="9.6" font-weight="bold" text-anchor="start" fill="#111" font-family='"Liberation Serif", serif'>1<tspan font-style="italic">s</tspan></text>
<text x="661" y="269.7" font-size="9.3" font-weight="bold" text-anchor="end" fill="#111" font-family='"Liberation Sans", sans-serif'>DHTA-Hz</text>
<text x="662" y="347" font-size="9.3" font-weight="bold" text-anchor="end" fill="#111" font-family='"Liberation Sans", sans-serif'>DHTA-Hz-15C5</text>
<rect x="0.9" y="486.1" width="90.8" height="87.7" fill="#ffffff" stroke="#fde08c" stroke-width="1.5" stroke-dasharray="4 1.8"/>
<line x1="13.9" y1="511.4" x2="9.7" y2="507.9" stroke="#9a9a9a" stroke-width="2.2" stroke-linecap="round"/>
<line x1="9.7" y1="507.9" x2="5.5" y2="504.4" stroke="#c8c8c8" stroke-width="2.2" stroke-linecap="round"/>
<line x1="36.1" y1="504.4" x2="34.35" y2="499.9" stroke="#9a9a9a" stroke-width="2.2" stroke-linecap="round"/>
<line x1="34.35" y1="499.9" x2="32.6" y2="495.4" stroke="#c8c8c8" stroke-width="2.2" stroke-linecap="round"/>
<line x1="36.1" y1="504.4" x2="35.4" y2="509.25" stroke="#9a9a9a" stroke-width="2.2" stroke-linecap="round"/>
<line x1="35.4" y1="509.25" x2="34.7" y2="514.1" stroke="#c8c8c8" stroke-width="2.2" stroke-linecap="round"/>
<line x1="52" y1="501.6" x2="52" y2="496.75" stroke="#9a9a9a" stroke-width="2.2" stroke-linecap="round"/>
<line x1="52" y1="496.75" x2="52" y2="491.9" stroke="#c8c8c8" stroke-width="2.2" stroke-linecap="round"/>
<line x1="52" y1="501.6" x2="54.8" y2="499.9" stroke="#9a9a9a" stroke-width="2.2" stroke-linecap="round"/>
<line x1="54.8" y1="499.9" x2="57.6" y2="498.2" stroke="#c8c8c8" stroke-width="2.2" stroke-linecap="round"/>
<line x1="72.1" y1="513.4" x2="72.1" y2="509.6" stroke="#9a9a9a" stroke-width="2.2" stroke-linecap="round"/>
<line x1="72.1" y1="509.6" x2="72.1" y2="505.8" stroke="#c8c8c8" stroke-width="2.2" stroke-linecap="round"/>
<line x1="72.1" y1="513.4" x2="75.25" y2="511.7" stroke="#9a9a9a" stroke-width="2.2" stroke-linecap="round"/>
<line x1="75.25" y1="511.7" x2="78.4" y2="510" stroke="#c8c8c8" stroke-width="2.2" stroke-linecap="round"/>
<line x1="76.3" y1="529.4" x2="80.8" y2="528.35" stroke="#9a9a9a" stroke-width="2.2" stroke-linecap="round"/>
<line x1="80.8" y1="528.35" x2="85.3" y2="527.3" stroke="#c8c8c8" stroke-width="2.2" stroke-linecap="round"/>
<line x1="78.4" y1="553" x2="82.2" y2="556.1" stroke="#9a9a9a" stroke-width="2.2" stroke-linecap="round"/>
<line x1="82.2" y1="556.1" x2="86" y2="559.2" stroke="#c8c8c8" stroke-width="2.2" stroke-linecap="round"/>
<line x1="63.1" y1="559.9" x2="63.1" y2="565.8" stroke="#9a9a9a" stroke-width="2.2" stroke-linecap="round"/>
<line x1="63.1" y1="565.8" x2="63.1" y2="571.7" stroke="#c8c8c8" stroke-width="2.2" stroke-linecap="round"/>
<line x1="37.4" y1="558.5" x2="36.75" y2="563.7" stroke="#9a9a9a" stroke-width="2.2" stroke-linecap="round"/>
<line x1="36.75" y1="563.7" x2="36.1" y2="568.9" stroke="#c8c8c8" stroke-width="2.2" stroke-linecap="round"/>
<line x1="26.4" y1="549.5" x2="20.85" y2="552.95" stroke="#9a9a9a" stroke-width="2.2" stroke-linecap="round"/>
<line x1="20.85" y1="552.95" x2="15.3" y2="556.4" stroke="#c8c8c8" stroke-width="2.2" stroke-linecap="round"/>
<line x1="14.6" y1="525.2" x2="9.75" y2="527.65" stroke="#9a9a9a" stroke-width="2.2" stroke-linecap="round"/>
<line x1="9.75" y1="527.65" x2="4.9" y2="530.1" stroke="#c8c8c8" stroke-width="2.2" stroke-linecap="round"/>
<line x1="13.9" y1="511.4" x2="20.45" y2="507.2" stroke="#8c8c8c" stroke-width="3" stroke-linecap="round"/>
<line x1="20.45" y1="507.2" x2="27" y2="503" stroke="#d82020" stroke-width="3" stroke-linecap="round"/>
<line x1="27" y1="503" x2="31.55" y2="503.7" stroke="#d82020" stroke-width="3" stroke-linecap="round"/>
<line x1="31.55" y1="503.7" x2="36.1" y2="504.4" stroke="#8c8c8c" stroke-width="3" stroke-linecap="round"/>
<line x1="36.1" y1="504.4" x2="44.05" y2="503" stroke="#8c8c8c" stroke-width="3" stroke-linecap="round"/>
<line x1="44.05" y1="503" x2="52" y2="501.6" stroke="#8c8c8c" stroke-width="3" stroke-linecap="round"/>
<line x1="52" y1="501.6" x2="54.45" y2="508.2" stroke="#8c8c8c" stroke-width="3" stroke-linecap="round"/>
<line x1="54.45" y1="508.2" x2="56.9" y2="514.8" stroke="#d82020" stroke-width="3" stroke-linecap="round"/>
<line x1="56.9" y1="514.8" x2="64.5" y2="514.1" stroke="#d82020" stroke-width="3" stroke-linecap="round"/>
<line x1="64.5" y1="514.1" x2="72.1" y2="513.4" stroke="#8c8c8c" stroke-width="3" stroke-linecap="round"/>
<line x1="72.1" y1="513.4" x2="74.2" y2="521.4" stroke="#8c8c8c" stroke-width="3" stroke-linecap="round"/>
<line x1="74.2" y1="521.4" x2="76.3" y2="529.4" stroke="#8c8c8c" stroke-width="3" stroke-linecap="round"/>
<line x1="76.3" y1="529.4" x2="78.05" y2="533.9" stroke="#8c8c8c" stroke-width="3" stroke-linecap="round"/>
<line x1="78.05" y1="533.9" x2="79.8" y2="538.4" stroke="#d82020" stroke-width="3" stroke-linecap="round"/>
<line x1="79.8" y1="538.4" x2="79.1" y2="545.7" stroke="#d82020" stroke-width="3" stroke-linecap="round"/>
<line x1="79.1" y1="545.7" x2="78.4" y2="553" stroke="#8c8c8c" stroke-width="3" stroke-linecap="round"/>
<line x1="78.4" y1="553" x2="70.75" y2="556.45" stroke="#8c8c8c" stroke-width="3" stroke-linecap="round"/>
<line x1="70.75" y1="556.45" x2="63.1" y2="559.9" stroke="#8c8c8c" stroke-width="3" stroke-linecap="round"/>
<line x1="63.1" y1="559.9" x2="57.55" y2="556.8" stroke="#8c8c8c" stroke-width="3" stroke-linecap="round"/>
<line x1="57.55" y1="556.8" x2="52" y2="553.7" stroke="#d82020" stroke-width="3" stroke-linecap="round"/>
<line x1="52" y1="553.7" x2="44.7" y2="556.1" stroke="#d82020" stroke-width="3" stroke-linecap="round"/>
<line x1="44.7" y1="556.1" x2="37.4" y2="558.5" stroke="#8c8c8c" stroke-width="3" stroke-linecap="round"/>
<line x1="37.4" y1="558.5" x2="31.9" y2="554" stroke="#8c8c8c" stroke-width="3" stroke-linecap="round"/>
<line x1="31.9" y1="554" x2="26.4" y2="549.5" stroke="#8c8c8c" stroke-width="3" stroke-linecap="round"/>
<line x1="26.4" y1="549.5" x2="25.35" y2="542.55" stroke="#8c8c8c" stroke-width="3" stroke-linecap="round"/>
<line x1="25.35" y1="542.55" x2="24.3" y2="535.6" stroke="#d82020" stroke-width="3" stroke-linecap="round"/>
<line x1="24.3" y1="535.6" x2="19.45" y2="530.4" stroke="#d82020" stroke-width="3" stroke-linecap="round"/>
<line x1="19.45" y1="530.4" x2="14.6" y2="525.2" stroke="#8c8c8c" stroke-width="3" stroke-linecap="round"/>
<line x1="14.6" y1="525.2" x2="14.25" y2="518.3" stroke="#8c8c8c" stroke-width="3" stroke-linecap="round"/>
<line x1="14.25" y1="518.3" x2="13.9" y2="511.4" stroke="#8c8c8c" stroke-width="3" stroke-linecap="round"/>
<circle cx="5.5" cy="504.4" r="1.9" fill="url(#sH)" stroke="none" stroke-width="1"/>
<circle cx="32.6" cy="495.4" r="1.9" fill="url(#sH)" stroke="none" stroke-width="1"/>
<circle cx="34.7" cy="514.1" r="1.9" fill="url(#sH)" stroke="none" stroke-width="1"/>
<circle cx="52" cy="491.9" r="1.9" fill="url(#sH)" stroke="none" stroke-width="1"/>
<circle cx="57.6" cy="498.2" r="1.9" fill="url(#sH)" stroke="none" stroke-width="1"/>
<circle cx="72.1" cy="505.8" r="1.9" fill="url(#sH)" stroke="none" stroke-width="1"/>
<circle cx="78.4" cy="510" r="1.9" fill="url(#sH)" stroke="none" stroke-width="1"/>
<circle cx="85.3" cy="527.3" r="1.9" fill="url(#sH)" stroke="none" stroke-width="1"/>
<circle cx="86" cy="559.2" r="1.9" fill="url(#sH)" stroke="none" stroke-width="1"/>
<circle cx="63.1" cy="571.7" r="1.9" fill="url(#sH)" stroke="none" stroke-width="1"/>
<circle cx="36.1" cy="568.9" r="1.9" fill="url(#sH)" stroke="none" stroke-width="1"/>
<circle cx="15.3" cy="556.4" r="1.9" fill="url(#sH)" stroke="none" stroke-width="1"/>
<circle cx="4.9" cy="530.1" r="1.9" fill="url(#sH)" stroke="none" stroke-width="1"/>
<circle cx="13.9" cy="511.4" r="3.9" fill="url(#sC)" stroke="none" stroke-width="1"/>
<circle cx="36.1" cy="504.4" r="3.9" fill="url(#sC)" stroke="none" stroke-width="1"/>
<circle cx="52" cy="501.6" r="3.9" fill="url(#sC)" stroke="none" stroke-width="1"/>
<circle cx="72.1" cy="513.4" r="3.9" fill="url(#sC)" stroke="none" stroke-width="1"/>
<circle cx="76.3" cy="529.4" r="3.9" fill="url(#sC)" stroke="none" stroke-width="1"/>
<circle cx="78.4" cy="553" r="3.9" fill="url(#sC)" stroke="none" stroke-width="1"/>
<circle cx="63.1" cy="559.9" r="3.9" fill="url(#sC)" stroke="none" stroke-width="1"/>
<circle cx="37.4" cy="558.5" r="3.9" fill="url(#sC)" stroke="none" stroke-width="1"/>
<circle cx="26.4" cy="549.5" r="3.9" fill="url(#sC)" stroke="none" stroke-width="1"/>
<circle cx="14.6" cy="525.2" r="3.9" fill="url(#sC)" stroke="none" stroke-width="1"/>
<circle cx="27" cy="503" r="4.2" fill="url(#sO)" stroke="none" stroke-width="1"/>
<circle cx="56.9" cy="514.8" r="4.2" fill="url(#sO)" stroke="none" stroke-width="1"/>
<circle cx="79.8" cy="538.4" r="4.2" fill="url(#sO)" stroke="none" stroke-width="1"/>
<circle cx="52" cy="553.7" r="4.2" fill="url(#sO)" stroke="none" stroke-width="1"/>
<circle cx="24.3" cy="535.6" r="4.2" fill="url(#sO)" stroke="none" stroke-width="1"/>
<circle cx="21.5" cy="536.3" r="19.4" fill="#f0d0d0" stroke="none" stroke-width="1" opacity="0.8"/>
<g stroke="#bcdaf3" stroke-width="2.8" fill="#bcdaf3" opacity="0.95"><line x1="36" y1="523.5" x2="61" y2="543.5"/><line x1="62" y1="525" x2="44" y2="535.5"/></g>
<path d="M31.5 520 L39.8 522 L35.5 527.5Z" fill="#b9d6f0"/>
<path d="M65.5 547 L57 545.5 L61.5 540Z" fill="#b9d6f0"/>
<path d="M66 522.8 L58.5 522.5 L61.8 528.4Z" fill="#b9d6f0"/>
<text x="42.7" y="537" font-size="14.2" font-weight="normal" text-anchor="middle" fill="#111" font-family='"Liberation Sans", sans-serif' stroke="#111" stroke-width="0.45">1.7~2.2A</text>
<path d="M92.3 564 L120.2 580.1 L124.1 574.5 L136.6 593.2 L113.9 589.1 L117.6 583.6 Z" fill="#c5e1b3"/>
<text x="42.6" y="610.8" font-size="15.9" font-weight="bold" text-anchor="middle" fill="#111" font-family='"Liberation Sans", sans-serif'>~0.6 nm</text>
<text x="92.9" y="682.4" font-size="16.25" font-weight="bold" text-anchor="middle" fill="#111" font-family='"Liberation Sans", sans-serif'>host-guest interaction</text>
<line x1="220.94" y1="510.54" x2="224.26" y2="509.78" stroke="#8e8e8e" stroke-width="2.9" stroke-linecap="round"/>
<line x1="224.26" y1="509.78" x2="227.57" y2="509.01" stroke="#b8b8b8" stroke-width="2.9" stroke-linecap="round"/>
<line x1="220.9" y1="510.37" x2="224.22" y2="509.61" stroke="#e6e6e6" stroke-width="1.04" stroke-linecap="round" opacity="0.9"/>
<line x1="224.22" y1="509.61" x2="227.53" y2="508.84" stroke="#ffffff" stroke-width="1.04" stroke-linecap="round" opacity="0.9"/>
<line x1="220.94" y1="510.54" x2="218.21" y2="507.62" stroke="#8e8e8e" stroke-width="3.2" stroke-linecap="round"/>
<line x1="218.21" y1="507.62" x2="215.49" y2="504.69" stroke="#8aaeea" stroke-width="3.2" stroke-linecap="round"/>
<line x1="221.08" y1="510.41" x2="218.36" y2="507.49" stroke="#e6e6e6" stroke-width="1.15" stroke-linecap="round" opacity="0.9"/>
<line x1="218.36" y1="507.49" x2="215.63" y2="504.56" stroke="#cfe0fa" stroke-width="1.15" stroke-linecap="round" opacity="0.9"/>
<line x1="218.31" y1="519.15" x2="219.63" y2="514.85" stroke="#8e8e8e" stroke-width="3.5" stroke-linecap="round"/>
<line x1="219.63" y1="514.85" x2="220.94" y2="510.54" stroke="#8e8e8e" stroke-width="3.5" stroke-linecap="round"/>
<line x1="218.11" y1="519.09" x2="219.43" y2="514.79" stroke="#e6e6e6" stroke-width="1.26" stroke-linecap="round" opacity="0.9"/>
<line x1="219.43" y1="514.79" x2="220.74" y2="510.48" stroke="#e6e6e6" stroke-width="1.26" stroke-linecap="round" opacity="0.9"/>
<line x1="233.42" y1="524.82" x2="234.27" y2="522.04" stroke="#e8201c" stroke-width="2.9" stroke-linecap="round"/>
<line x1="234.27" y1="522.04" x2="235.12" y2="519.27" stroke="#b8b8b8" stroke-width="2.9" stroke-linecap="round"/>
<line x1="233.26" y1="524.77" x2="234.1" y2="521.99" stroke="#ff8a80" stroke-width="1.04" stroke-linecap="round" opacity="0.9"/>
<line x1="234.1" y1="521.99" x2="234.95" y2="519.22" stroke="#ffffff" stroke-width="1.04" stroke-linecap="round" opacity="0.9"/>
<line x1="225.34" y1="526.68" x2="229.38" y2="525.75" stroke="#8e8e8e" stroke-width="3.5" stroke-linecap="round"/>
<line x1="229.38" y1="525.75" x2="233.42" y2="524.82" stroke="#e8201c" stroke-width="3.5" stroke-linecap="round"/>
<line x1="225.29" y1="526.48" x2="229.33" y2="525.54" stroke="#e6e6e6" stroke-width="1.26" stroke-linecap="round" opacity="0.9"/>
<line x1="229.33" y1="525.54" x2="233.38" y2="524.61" stroke="#ff8a80" stroke-width="1.26" stroke-linecap="round" opacity="0.9"/>
<line x1="209.86" y1="546.79" x2="207.04" y2="547.44" stroke="#e8201c" stroke-width="2.9" stroke-linecap="round"/>
<line x1="207.04" y1="547.44" x2="204.21" y2="548.09" stroke="#b8b8b8" stroke-width="2.9" stroke-linecap="round"/>
<line x1="209.82" y1="546.62" x2="207" y2="547.27" stroke="#ff8a80" stroke-width="1.04" stroke-linecap="round" opacity="0.9"/>
<line x1="207" y1="547.27" x2="204.17" y2="547.92" stroke="#ffffff" stroke-width="1.04" stroke-linecap="round" opacity="0.9"/>
<line x1="212.29" y1="538.85" x2="211.08" y2="542.82" stroke="#8e8e8e" stroke-width="3.5" stroke-linecap="round"/>
<line x1="211.08" y1="542.82" x2="209.86" y2="546.79" stroke="#e8201c" stroke-width="3.5" stroke-linecap="round"/>
<line x1="212.09" y1="538.79" x2="210.87" y2="542.76" stroke="#e6e6e6" stroke-width="1.26" stroke-linecap="round" opacity="0.9"/>
<line x1="210.87" y1="542.76" x2="209.66" y2="546.73" stroke="#ff8a80" stroke-width="1.26" stroke-linecap="round" opacity="0.9"/>
<line x1="208.28" y1="521.47" x2="205.89" y2="518.91" stroke="#8e8e8e" stroke-width="2.9" stroke-linecap="round"/>
<line x1="205.89" y1="518.91" x2="203.5" y2="516.35" stroke="#b8b8b8" stroke-width="2.9" stroke-linecap="round"/>
<line x1="208.4" y1="521.35" x2="206.02" y2="518.79" stroke="#e6e6e6" stroke-width="1.04" stroke-linecap="round" opacity="0.9"/>
<line x1="206.02" y1="518.79" x2="203.63" y2="516.23" stroke="#ffffff" stroke-width="1.04" stroke-linecap="round" opacity="0.9"/>
<line x1="291.02" y1="554.48" x2="293.66" y2="556.62" stroke="#8e8e8e" stroke-width="2.9" stroke-linecap="round"/>
<line x1="293.66" y1="556.62" x2="296.3" y2="558.76" stroke="#b8b8b8" stroke-width="2.9" stroke-linecap="round"/>
<line x1="291.13" y1="554.35" x2="293.77" y2="556.49" stroke="#e6e6e6" stroke-width="1.04" stroke-linecap="round" opacity="0.9"/>
<line x1="293.77" y1="556.49" x2="296.41" y2="558.63" stroke="#ffffff" stroke-width="1.04" stroke-linecap="round" opacity="0.9"/>
<line x1="291.02" y1="554.48" x2="291.64" y2="550.53" stroke="#8e8e8e" stroke-width="3.2" stroke-linecap="round"/>
<line x1="291.64" y1="550.53" x2="292.27" y2="546.58" stroke="#8aaeea" stroke-width="3.2" stroke-linecap="round"/>
<line x1="290.83" y1="554.45" x2="291.45" y2="550.5" stroke="#e6e6e6" stroke-width="1.15" stroke-linecap="round" opacity="0.9"/>
<line x1="291.45" y1="550.5" x2="292.08" y2="546.55" stroke="#cfe0fa" stroke-width="1.15" stroke-linecap="round" opacity="0.9"/>
<line x1="282.62" y1="557.71" x2="286.82" y2="556.1" stroke="#8e8e8e" stroke-width="3.5" stroke-linecap="round"/>
<line x1="286.82" y1="556.1" x2="291.02" y2="554.48" stroke="#8e8e8e" stroke-width="3.5" stroke-linecap="round"/>
<line x1="282.54" y1="557.51" x2="286.74" y2="555.9" stroke="#e6e6e6" stroke-width="1.26" stroke-linecap="round" opacity="0.9"/>
<line x1="286.74" y1="555.9" x2="290.94" y2="554.29" stroke="#e6e6e6" stroke-width="1.26" stroke-linecap="round" opacity="0.9"/>
<line x1="281" y1="567.88" x2="283.72" y2="570.08" stroke="#8e8e8e" stroke-width="2.9" stroke-linecap="round"/>
<line x1="283.72" y1="570.08" x2="286.44" y2="572.29" stroke="#b8b8b8" stroke-width="2.9" stroke-linecap="round"/>
<line x1="281.11" y1="567.75" x2="283.83" y2="569.95" stroke="#e6e6e6" stroke-width="1.04" stroke-linecap="round" opacity="0.9"/>
<line x1="283.83" y1="569.95" x2="286.55" y2="572.15" stroke="#ffffff" stroke-width="1.04" stroke-linecap="round" opacity="0.9"/>
<line x1="255.64" y1="568.07" x2="253.38" y2="566.24" stroke="#e8201c" stroke-width="2.9" stroke-linecap="round"/>
<line x1="253.38" y1="566.24" x2="251.13" y2="564.42" stroke="#b8b8b8" stroke-width="2.9" stroke-linecap="round"/>
<line x1="255.74" y1="567.93" x2="253.49" y2="566.11" stroke="#ff8a80" stroke-width="1.04" stroke-linecap="round" opacity="0.9"/>
<line x1="253.49" y1="566.11" x2="251.24" y2="564.28" stroke="#ffffff" stroke-width="1.04" stroke-linecap="round" opacity="0.9"/>
<line x1="263.38" y1="565.09" x2="259.51" y2="566.58" stroke="#8e8e8e" stroke-width="3.5" stroke-linecap="round"/>
<line x1="259.51" y1="566.58" x2="255.64" y2="568.07" stroke="#e8201c" stroke-width="3.5" stroke-linecap="round"/>
<line x1="263.31" y1="564.9" x2="259.43" y2="566.38" stroke="#e6e6e6" stroke-width="1.26" stroke-linecap="round" opacity="0.9"/>
<line x1="259.43" y1="566.38" x2="255.56" y2="567.87" stroke="#ff8a80" stroke-width="1.26" stroke-linecap="round" opacity="0.9"/>
<line x1="275.91" y1="543.03" x2="273.66" y2="541.2" stroke="#e8201c" stroke-width="2.9" stroke-linecap="round"/>
<line x1="273.66" y1="541.2" x2="271.4" y2="539.38" stroke="#b8b8b8" stroke-width="2.9" stroke-linecap="round"/>
<line x1="276.02" y1="542.89" x2="273.77" y2="541.07" stroke="#ff8a80" stroke-width="1.04" stroke-linecap="round" opacity="0.9"/>
<line x1="273.77" y1="541.07" x2="271.51" y2="539.24" stroke="#ffffff" stroke-width="1.04" stroke-linecap="round" opacity="0.9"/>
<line x1="274.61" y1="551.23" x2="275.26" y2="547.13" stroke="#8e8e8e" stroke-width="3.5" stroke-linecap="round"/>
<line x1="275.26" y1="547.13" x2="275.91" y2="543.03" stroke="#e8201c" stroke-width="3.5" stroke-linecap="round"/>
<line x1="274.4" y1="551.19" x2="275.05" y2="547.1" stroke="#e6e6e6" stroke-width="1.26" stroke-linecap="round" opacity="0.9"/>
<line x1="275.05" y1="547.1" x2="275.7" y2="543" stroke="#ff8a80" stroke-width="1.26" stroke-linecap="round" opacity="0.9"/>
<line x1="287.33" y1="641.94" x2="286.59" y2="645.26" stroke="#8e8e8e" stroke-width="2.9" stroke-linecap="round"/>
<line x1="286.59" y1="645.26" x2="285.86" y2="648.58" stroke="#b8b8b8" stroke-width="2.9" stroke-linecap="round"/>
<line x1="287.16" y1="641.9" x2="286.42" y2="645.22" stroke="#e6e6e6" stroke-width="1.04" stroke-linecap="round" opacity="0.9"/>
<line x1="286.42" y1="645.22" x2="285.69" y2="648.54" stroke="#ffffff" stroke-width="1.04" stroke-linecap="round" opacity="0.9"/>
<line x1="287.33" y1="641.94" x2="291.14" y2="640.74" stroke="#8e8e8e" stroke-width="3.2" stroke-linecap="round"/>
<line x1="291.14" y1="640.74" x2="294.96" y2="639.53" stroke="#8aaeea" stroke-width="3.2" stroke-linecap="round"/>
<line x1="287.27" y1="641.76" x2="291.09" y2="640.55" stroke="#e6e6e6" stroke-width="1.15" stroke-linecap="round" opacity="0.9"/>
<line x1="291.09" y1="640.55" x2="294.9" y2="639.35" stroke="#cfe0fa" stroke-width="1.15" stroke-linecap="round" opacity="0.9"/>
<line x1="280.69" y1="635.86" x2="284.01" y2="638.9" stroke="#8e8e8e" stroke-width="3.5" stroke-linecap="round"/>
<line x1="284.01" y1="638.9" x2="287.33" y2="641.94" stroke="#8e8e8e" stroke-width="3.5" stroke-linecap="round"/>
<line x1="280.84" y1="635.7" x2="284.15" y2="638.74" stroke="#e6e6e6" stroke-width="1.26" stroke-linecap="round" opacity="0.9"/>
<line x1="284.15" y1="638.74" x2="287.47" y2="641.78" stroke="#e6e6e6" stroke-width="1.26" stroke-linecap="round" opacity="0.9"/>
<line x1="269.07" y1="647.06" x2="266.31" y2="647.93" stroke="#e8201c" stroke-width="2.9" stroke-linecap="round"/>
<line x1="266.31" y1="647.93" x2="263.54" y2="648.8" stroke="#b8b8b8" stroke-width="2.9" stroke-linecap="round"/>
<line x1="269.02" y1="646.89" x2="266.26" y2="647.77" stroke="#ff8a80" stroke-width="1.04" stroke-linecap="round" opacity="0.9"/>
<line x1="266.26" y1="647.77" x2="263.49" y2="648.64" stroke="#ffffff" stroke-width="1.04" stroke-linecap="round" opacity="0.9"/>
<line x1="270.87" y1="638.96" x2="269.97" y2="643.01" stroke="#8e8e8e" stroke-width="3.5" stroke-linecap="round"/>
<line x1="269.97" y1="643.01" x2="269.07" y2="647.06" stroke="#e8201c" stroke-width="3.5" stroke-linecap="round"/>
<line x1="270.67" y1="638.91" x2="269.77" y2="642.96" stroke="#e6e6e6" stroke-width="1.26" stroke-linecap="round" opacity="0.9"/>
<line x1="269.77" y1="642.96" x2="268.87" y2="647.01" stroke="#ff8a80" stroke-width="1.26" stroke-linecap="round" opacity="0.9"/>
<line x1="265.51" y1="621.94" x2="262.93" y2="619.58" stroke="#8e8e8e" stroke-width="2.9" stroke-linecap="round"/>
<line x1="262.93" y1="619.58" x2="260.35" y2="617.21" stroke="#b8b8b8" stroke-width="2.9" stroke-linecap="round"/>
<line x1="265.62" y1="621.81" x2="263.04" y2="619.45" stroke="#e6e6e6" stroke-width="1.04" stroke-linecap="round" opacity="0.9"/>
<line x1="263.04" y1="619.45" x2="260.46" y2="617.08" stroke="#ffffff" stroke-width="1.04" stroke-linecap="round" opacity="0.9"/>
<line x1="290.84" y1="623.31" x2="291.47" y2="620.48" stroke="#e8201c" stroke-width="2.9" stroke-linecap="round"/>
<line x1="291.47" y1="620.48" x2="292.09" y2="617.64" stroke="#b8b8b8" stroke-width="2.9" stroke-linecap="round"/>
<line x1="290.67" y1="623.27" x2="291.3" y2="620.44" stroke="#ff8a80" stroke-width="1.04" stroke-linecap="round" opacity="0.9"/>
<line x1="291.3" y1="620.44" x2="291.92" y2="617.61" stroke="#ffffff" stroke-width="1.04" stroke-linecap="round" opacity="0.9"/>
<line x1="282.92" y1="625.8" x2="286.88" y2="624.55" stroke="#8e8e8e" stroke-width="3.5" stroke-linecap="round"/>
<line x1="286.88" y1="624.55" x2="290.84" y2="623.31" stroke="#e8201c" stroke-width="3.5" stroke-linecap="round"/>
<line x1="282.86" y1="625.6" x2="286.82" y2="624.35" stroke="#e6e6e6" stroke-width="1.26" stroke-linecap="round" opacity="0.9"/>
<line x1="286.82" y1="624.35" x2="290.78" y2="623.11" stroke="#ff8a80" stroke-width="1.26" stroke-linecap="round" opacity="0.9"/>
<line x1="211.12" y1="681.65" x2="207.9" y2="682.75" stroke="#8e8e8e" stroke-width="2.9" stroke-linecap="round"/>
<line x1="207.9" y1="682.75" x2="204.69" y2="683.86" stroke="#b8b8b8" stroke-width="2.9" stroke-linecap="round"/>
<line x1="211.06" y1="681.48" x2="207.85" y2="682.59" stroke="#e6e6e6" stroke-width="1.04" stroke-linecap="round" opacity="0.9"/>
<line x1="207.85" y1="682.59" x2="204.63" y2="683.69" stroke="#ffffff" stroke-width="1.04" stroke-linecap="round" opacity="0.9"/>
<line x1="211.12" y1="681.65" x2="214.14" y2="684.27" stroke="#8e8e8e" stroke-width="3.2" stroke-linecap="round"/>
<line x1="214.14" y1="684.27" x2="217.16" y2="686.89" stroke="#8aaeea" stroke-width="3.2" stroke-linecap="round"/>
<line x1="211.24" y1="681.5" x2="214.26" y2="684.12" stroke="#e6e6e6" stroke-width="1.15" stroke-linecap="round" opacity="0.9"/>
<line x1="214.26" y1="684.12" x2="217.28" y2="686.75" stroke="#cfe0fa" stroke-width="1.15" stroke-linecap="round" opacity="0.9"/>
<line x1="212.83" y1="672.81" x2="211.98" y2="677.23" stroke="#8e8e8e" stroke-width="3.5" stroke-linecap="round"/>
<line x1="211.98" y1="677.23" x2="211.12" y2="681.65" stroke="#8e8e8e" stroke-width="3.5" stroke-linecap="round"/>
<line x1="212.63" y1="672.77" x2="211.77" y2="677.19" stroke="#e6e6e6" stroke-width="1.26" stroke-linecap="round" opacity="0.9"/>
<line x1="211.77" y1="677.19" x2="210.91" y2="681.61" stroke="#e6e6e6" stroke-width="1.26" stroke-linecap="round" opacity="0.9"/>
<line x1="197.21" y1="668.76" x2="195.02" y2="666.85" stroke="#e8201c" stroke-width="2.9" stroke-linecap="round"/>
<line x1="195.02" y1="666.85" x2="192.84" y2="664.95" stroke="#b8b8b8" stroke-width="2.9" stroke-linecap="round"/>
<line x1="197.33" y1="668.62" x2="195.14" y2="666.72" stroke="#ff8a80" stroke-width="1.04" stroke-linecap="round" opacity="0.9"/>
<line x1="195.14" y1="666.72" x2="192.95" y2="664.82" stroke="#ffffff" stroke-width="1.04" stroke-linecap="round" opacity="0.9"/>
<line x1="205.06" y1="666.05" x2="201.14" y2="667.4" stroke="#8e8e8e" stroke-width="3.5" stroke-linecap="round"/>
<line x1="201.14" y1="667.4" x2="197.21" y2="668.76" stroke="#e8201c" stroke-width="3.5" stroke-linecap="round"/>
<line x1="204.99" y1="665.85" x2="201.07" y2="667.21" stroke="#e6e6e6" stroke-width="1.26" stroke-linecap="round" opacity="0.9"/>
<line x1="201.07" y1="667.21" x2="197.14" y2="668.56" stroke="#ff8a80" stroke-width="1.26" stroke-linecap="round" opacity="0.9"/>
<line x1="218.35" y1="644.44" x2="216.16" y2="642.54" stroke="#e8201c" stroke-width="2.9" stroke-linecap="round"/>
<line x1="216.16" y1="642.54" x2="213.97" y2="640.64" stroke="#b8b8b8" stroke-width="2.9" stroke-linecap="round"/>
<line x1="218.46" y1="644.31" x2="216.27" y2="642.41" stroke="#ff8a80" stroke-width="1.04" stroke-linecap="round" opacity="0.9"/>
<line x1="216.27" y1="642.41" x2="214.09" y2="640.51" stroke="#ffffff" stroke-width="1.04" stroke-linecap="round" opacity="0.9"/>
<line x1="216.77" y1="652.59" x2="217.56" y2="648.52" stroke="#8e8e8e" stroke-width="3.5" stroke-linecap="round"/>
<line x1="217.56" y1="648.52" x2="218.35" y2="644.44" stroke="#e8201c" stroke-width="3.5" stroke-linecap="round"/>
<line x1="216.56" y1="652.55" x2="217.35" y2="648.48" stroke="#e6e6e6" stroke-width="1.26" stroke-linecap="round" opacity="0.9"/>
<line x1="217.35" y1="648.48" x2="218.14" y2="644.4" stroke="#ff8a80" stroke-width="1.26" stroke-linecap="round" opacity="0.9"/>
<line x1="222.57" y1="669.46" x2="225.21" y2="671.75" stroke="#8e8e8e" stroke-width="2.9" stroke-linecap="round"/>
<line x1="225.21" y1="671.75" x2="227.86" y2="674.05" stroke="#b8b8b8" stroke-width="2.9" stroke-linecap="round"/>
<line x1="222.69" y1="669.33" x2="225.33" y2="671.62" stroke="#e6e6e6" stroke-width="1.04" stroke-linecap="round" opacity="0.9"/>
<line x1="225.33" y1="671.62" x2="227.97" y2="673.92" stroke="#ffffff" stroke-width="1.04" stroke-linecap="round" opacity="0.9"/>
<line x1="139.41" y1="636.63" x2="136.73" y2="634.54" stroke="#8e8e8e" stroke-width="2.9" stroke-linecap="round"/>
<line x1="136.73" y1="634.54" x2="134.05" y2="632.44" stroke="#b8b8b8" stroke-width="2.9" stroke-linecap="round"/>
<line x1="139.51" y1="636.49" x2="136.83" y2="634.4" stroke="#e6e6e6" stroke-width="1.04" stroke-linecap="round" opacity="0.9"/>
<line x1="136.83" y1="634.4" x2="134.15" y2="632.31" stroke="#ffffff" stroke-width="1.04" stroke-linecap="round" opacity="0.9"/>
<line x1="139.41" y1="636.63" x2="138.85" y2="640.59" stroke="#8e8e8e" stroke-width="3.2" stroke-linecap="round"/>
<line x1="138.85" y1="640.59" x2="138.29" y2="644.55" stroke="#8aaeea" stroke-width="3.2" stroke-linecap="round"/>
<line x1="139.22" y1="636.6" x2="138.66" y2="640.56" stroke="#e6e6e6" stroke-width="1.15" stroke-linecap="round" opacity="0.9"/>
<line x1="138.66" y1="640.56" x2="138.1" y2="644.53" stroke="#cfe0fa" stroke-width="1.15" stroke-linecap="round" opacity="0.9"/>
<line x1="147.75" y1="633.26" x2="143.58" y2="634.94" stroke="#8e8e8e" stroke-width="3.5" stroke-linecap="round"/>
<line x1="143.58" y1="634.94" x2="139.41" y2="636.63" stroke="#8e8e8e" stroke-width="3.5" stroke-linecap="round"/>
<line x1="147.67" y1="633.06" x2="143.5" y2="634.75" stroke="#e6e6e6" stroke-width="1.26" stroke-linecap="round" opacity="0.9"/>
<line x1="143.5" y1="634.75" x2="139.33" y2="636.44" stroke="#e6e6e6" stroke-width="1.26" stroke-linecap="round" opacity="0.9"/>
<line x1="149.18" y1="623.06" x2="146.43" y2="620.9" stroke="#8e8e8e" stroke-width="2.9" stroke-linecap="round"/>
<line x1="146.43" y1="620.9" x2="143.67" y2="618.75" stroke="#b8b8b8" stroke-width="2.9" stroke-linecap="round"/>
<line x1="149.29" y1="622.92" x2="146.53" y2="620.77" stroke="#e6e6e6" stroke-width="1.04" stroke-linecap="round" opacity="0.9"/>
<line x1="146.53" y1="620.77" x2="143.77" y2="618.61" stroke="#ffffff" stroke-width="1.04" stroke-linecap="round" opacity="0.9"/>
<line x1="174.55" y1="622.43" x2="174.95" y2="619.56" stroke="#e8201c" stroke-width="2.9" stroke-linecap="round"/>
<line x1="174.95" y1="619.56" x2="175.35" y2="616.69" stroke="#b8b8b8" stroke-width="2.9" stroke-linecap="round"/>
<line x1="174.37" y1="622.41" x2="174.78" y2="619.54" stroke="#ff8a80" stroke-width="1.04" stroke-linecap="round" opacity="0.9"/>
<line x1="174.78" y1="619.54" x2="175.18" y2="616.66" stroke="#ffffff" stroke-width="1.04" stroke-linecap="round" opacity="0.9"/>
<line x1="166.85" y1="625.54" x2="170.7" y2="623.99" stroke="#8e8e8e" stroke-width="3.5" stroke-linecap="round"/>
<line x1="170.7" y1="623.99" x2="174.55" y2="622.43" stroke="#e8201c" stroke-width="3.5" stroke-linecap="round"/>
<line x1="166.77" y1="625.35" x2="170.62" y2="623.79" stroke="#e6e6e6" stroke-width="1.26" stroke-linecap="round" opacity="0.9"/>
<line x1="170.62" y1="623.79" x2="174.47" y2="622.24" stroke="#ff8a80" stroke-width="1.26" stroke-linecap="round" opacity="0.9"/>
<line x1="154.71" y1="647.82" x2="152.02" y2="648.91" stroke="#e8201c" stroke-width="2.9" stroke-linecap="round"/>
<line x1="152.02" y1="648.91" x2="149.33" y2="649.99" stroke="#b8b8b8" stroke-width="2.9" stroke-linecap="round"/>
<line x1="154.65" y1="647.66" x2="151.96" y2="648.74" stroke="#ff8a80" stroke-width="1.04" stroke-linecap="round" opacity="0.9"/>
<line x1="151.96" y1="648.74" x2="149.27" y2="649.83" stroke="#ffffff" stroke-width="1.04" stroke-linecap="round" opacity="0.9"/>
<line x1="155.87" y1="639.6" x2="155.29" y2="643.71" stroke="#8e8e8e" stroke-width="3.5" stroke-linecap="round"/>
<line x1="155.29" y1="643.71" x2="154.71" y2="647.82" stroke="#e8201c" stroke-width="3.5" stroke-linecap="round"/>
<line x1="155.66" y1="639.57" x2="155.08" y2="643.68" stroke="#e6e6e6" stroke-width="1.26" stroke-linecap="round" opacity="0.9"/>
<line x1="155.08" y1="643.68" x2="154.5" y2="647.79" stroke="#ff8a80" stroke-width="1.26" stroke-linecap="round" opacity="0.9"/>
<line x1="142.48" y1="548.54" x2="143.25" y2="545.22" stroke="#8e8e8e" stroke-width="2.9" stroke-linecap="round"/>
<line x1="143.25" y1="545.22" x2="144.01" y2="541.91" stroke="#b8b8b8" stroke-width="2.9" stroke-linecap="round"/>
<line x1="142.32" y1="548.5" x2="143.08" y2="545.19" stroke="#e6e6e6" stroke-width="1.04" stroke-linecap="round" opacity="0.9"/>
<line x1="143.08" y1="545.19" x2="143.85" y2="541.87" stroke="#ffffff" stroke-width="1.04" stroke-linecap="round" opacity="0.9"/>
<line x1="142.48" y1="548.54" x2="138.66" y2="549.71" stroke="#8e8e8e" stroke-width="3.2" stroke-linecap="round"/>
<line x1="138.66" y1="549.71" x2="134.83" y2="550.88" stroke="#8aaeea" stroke-width="3.2" stroke-linecap="round"/>
<line x1="142.43" y1="548.35" x2="138.6" y2="549.52" stroke="#e6e6e6" stroke-width="1.15" stroke-linecap="round" opacity="0.9"/>
<line x1="138.6" y1="549.52" x2="134.78" y2="550.69" stroke="#cfe0fa" stroke-width="1.15" stroke-linecap="round" opacity="0.9"/>
<line x1="149.07" y1="554.68" x2="145.78" y2="551.61" stroke="#8e8e8e" stroke-width="3.5" stroke-linecap="round"/>
<line x1="145.78" y1="551.61" x2="142.48" y2="548.54" stroke="#8e8e8e" stroke-width="3.5" stroke-linecap="round"/>
<line x1="149.21" y1="554.52" x2="145.92" y2="551.45" stroke="#e6e6e6" stroke-width="1.26" stroke-linecap="round" opacity="0.9"/>
<line x1="145.92" y1="551.45" x2="142.63" y2="548.38" stroke="#e6e6e6" stroke-width="1.26" stroke-linecap="round" opacity="0.9"/>
<line x1="160.78" y1="543.58" x2="158.66" y2="541.6" stroke="#e8201c" stroke-width="2.9" stroke-linecap="round"/>
<line x1="158.66" y1="541.6" x2="156.54" y2="539.62" stroke="#b8b8b8" stroke-width="2.9" stroke-linecap="round"/>
<line x1="160.9" y1="543.45" x2="158.78" y2="541.47" stroke="#ff8a80" stroke-width="1.04" stroke-linecap="round" opacity="0.9"/>
<line x1="158.78" y1="541.47" x2="156.66" y2="539.49" stroke="#ffffff" stroke-width="1.04" stroke-linecap="round" opacity="0.9"/>
<line x1="158.92" y1="551.66" x2="159.85" y2="547.62" stroke="#8e8e8e" stroke-width="3.5" stroke-linecap="round"/>
<line x1="159.85" y1="547.62" x2="160.78" y2="543.58" stroke="#e8201c" stroke-width="3.5" stroke-linecap="round"/>
<line x1="158.71" y1="551.62" x2="159.65" y2="547.57" stroke="#e6e6e6" stroke-width="1.26" stroke-linecap="round" opacity="0.9"/>
<line x1="159.65" y1="547.57" x2="160.58" y2="543.53" stroke="#ff8a80" stroke-width="1.26" stroke-linecap="round" opacity="0.9"/>
<line x1="164.13" y1="568.72" x2="166.69" y2="571.11" stroke="#8e8e8e" stroke-width="2.9" stroke-linecap="round"/>
<line x1="166.69" y1="571.11" x2="169.25" y2="573.5" stroke="#b8b8b8" stroke-width="2.9" stroke-linecap="round"/>
<line x1="164.25" y1="568.6" x2="166.81" y2="570.98" stroke="#e6e6e6" stroke-width="1.04" stroke-linecap="round" opacity="0.9"/>
<line x1="166.81" y1="570.98" x2="169.37" y2="573.37" stroke="#ffffff" stroke-width="1.04" stroke-linecap="round" opacity="0.9"/>
<line x1="138.81" y1="567.14" x2="136.69" y2="565.16" stroke="#e8201c" stroke-width="2.9" stroke-linecap="round"/>
<line x1="136.69" y1="565.16" x2="134.57" y2="563.18" stroke="#b8b8b8" stroke-width="2.9" stroke-linecap="round"/>
<line x1="138.93" y1="567.01" x2="136.81" y2="565.03" stroke="#ff8a80" stroke-width="1.04" stroke-linecap="round" opacity="0.9"/>
<line x1="136.81" y1="565.03" x2="134.69" y2="563.06" stroke="#ffffff" stroke-width="1.04" stroke-linecap="round" opacity="0.9"/>
<line x1="146.75" y1="564.71" x2="142.78" y2="565.92" stroke="#8e8e8e" stroke-width="3.5" stroke-linecap="round"/>
<line x1="142.78" y1="565.92" x2="138.81" y2="567.14" stroke="#e8201c" stroke-width="3.5" stroke-linecap="round"/>
<line x1="146.69" y1="564.51" x2="142.72" y2="565.72" stroke="#e6e6e6" stroke-width="1.26" stroke-linecap="round" opacity="0.9"/>
<line x1="142.72" y1="565.72" x2="138.75" y2="566.94" stroke="#ff8a80" stroke-width="1.26" stroke-linecap="round" opacity="0.9"/>
<line x1="228.46" y1="543.12" x2="226.43" y2="545.84" stroke="#8e8e8e" stroke-width="2.9" stroke-linecap="round"/>
<line x1="226.43" y1="545.84" x2="224.41" y2="548.57" stroke="#b8b8b8" stroke-width="2.9" stroke-linecap="round"/>
<line x1="228.32" y1="543.01" x2="226.29" y2="545.74" stroke="#e6e6e6" stroke-width="1.04" stroke-linecap="round" opacity="0.9"/>
<line x1="226.29" y1="545.74" x2="224.27" y2="548.47" stroke="#ffffff" stroke-width="1.04" stroke-linecap="round" opacity="0.9"/>
<line x1="258" y1="549.25" x2="259.83" y2="546.39" stroke="#8e8e8e" stroke-width="2.9" stroke-linecap="round"/>
<line x1="259.83" y1="546.39" x2="261.67" y2="543.53" stroke="#b8b8b8" stroke-width="2.9" stroke-linecap="round"/>
<line x1="257.85" y1="549.16" x2="259.69" y2="546.3" stroke="#e6e6e6" stroke-width="1.04" stroke-linecap="round" opacity="0.9"/>
<line x1="259.69" y1="546.3" x2="261.52" y2="543.43" stroke="#ffffff" stroke-width="1.04" stroke-linecap="round" opacity="0.9"/>
<line x1="222.32" y1="536.53" x2="225.39" y2="539.82" stroke="#8e8e8e" stroke-width="3.5" stroke-linecap="round"/>
<line x1="225.39" y1="539.82" x2="228.46" y2="543.12" stroke="#8e8e8e" stroke-width="3.5" stroke-linecap="round"/>
<line x1="222.48" y1="536.39" x2="225.55" y2="539.68" stroke="#e6e6e6" stroke-width="1.26" stroke-linecap="round" opacity="0.9"/>
<line x1="225.55" y1="539.68" x2="228.62" y2="542.97" stroke="#e6e6e6" stroke-width="1.26" stroke-linecap="round" opacity="0.9"/>
<line x1="265" y1="554.92" x2="261.5" y2="552.09" stroke="#8e8e8e" stroke-width="3.5" stroke-linecap="round"/>
<line x1="261.5" y1="552.09" x2="258" y2="549.25" stroke="#8e8e8e" stroke-width="3.5" stroke-linecap="round"/>
<line x1="265.13" y1="554.75" x2="261.63" y2="551.92" stroke="#e6e6e6" stroke-width="1.26" stroke-linecap="round" opacity="0.9"/>
<line x1="261.63" y1="551.92" x2="258.13" y2="549.09" stroke="#e6e6e6" stroke-width="1.26" stroke-linecap="round" opacity="0.9"/>
<line x1="228.46" y1="543.12" x2="233.12" y2="545.41" stroke="#8e8e8e" stroke-width="3.3" stroke-linecap="round"/>
<line x1="233.12" y1="545.41" x2="237.78" y2="547.71" stroke="#8aaeea" stroke-width="3.3" stroke-linecap="round"/>
<line x1="228.55" y1="542.94" x2="233.21" y2="545.23" stroke="#e6e6e6" stroke-width="1.19" stroke-linecap="round" opacity="0.9"/>
<line x1="233.21" y1="545.23" x2="237.87" y2="547.53" stroke="#cfe0fa" stroke-width="1.19" stroke-linecap="round" opacity="0.9"/>
<line x1="237.78" y1="547.71" x2="243.23" y2="546.18" stroke="#8aaeea" stroke-width="3.3" stroke-linecap="round"/>
<line x1="243.23" y1="546.18" x2="248.68" y2="544.66" stroke="#8aaeea" stroke-width="3.3" stroke-linecap="round"/>
<line x1="237.73" y1="547.52" x2="243.18" y2="545.99" stroke="#cfe0fa" stroke-width="1.19" stroke-linecap="round" opacity="0.9"/>
<line x1="243.18" y1="545.99" x2="248.63" y2="544.47" stroke="#cfe0fa" stroke-width="1.19" stroke-linecap="round" opacity="0.9"/>
<line x1="248.68" y1="544.66" x2="253.34" y2="546.96" stroke="#8aaeea" stroke-width="3.3" stroke-linecap="round"/>
<line x1="253.34" y1="546.96" x2="258" y2="549.25" stroke="#8e8e8e" stroke-width="3.3" stroke-linecap="round"/>
<line x1="248.77" y1="544.48" x2="253.43" y2="546.78" stroke="#cfe0fa" stroke-width="1.19" stroke-linecap="round" opacity="0.9"/>
<line x1="253.43" y1="546.78" x2="258.09" y2="549.08" stroke="#e6e6e6" stroke-width="1.19" stroke-linecap="round" opacity="0.9"/>
<line x1="269.98" y1="580.46" x2="266.59" y2="580.18" stroke="#8e8e8e" stroke-width="2.9" stroke-linecap="round"/>
<line x1="266.59" y1="580.18" x2="263.2" y2="579.9" stroke="#b8b8b8" stroke-width="2.9" stroke-linecap="round"/>
<line x1="270" y1="580.29" x2="266.61" y2="580.01" stroke="#e6e6e6" stroke-width="1.04" stroke-linecap="round" opacity="0.9"/>
<line x1="266.61" y1="580.01" x2="263.22" y2="579.73" stroke="#ffffff" stroke-width="1.04" stroke-linecap="round" opacity="0.9"/>
<line x1="277.28" y1="610.06" x2="280.66" y2="610.44" stroke="#8e8e8e" stroke-width="2.9" stroke-linecap="round"/>
<line x1="280.66" y1="610.44" x2="284.03" y2="610.83" stroke="#b8b8b8" stroke-width="2.9" stroke-linecap="round"/>
<line x1="277.3" y1="609.88" x2="280.68" y2="610.27" stroke="#e6e6e6" stroke-width="1.04" stroke-linecap="round" opacity="0.9"/>
<line x1="280.68" y1="610.27" x2="284.05" y2="610.65" stroke="#ffffff" stroke-width="1.04" stroke-linecap="round" opacity="0.9"/>
<line x1="271.39" y1="571.57" x2="270.68" y2="576.02" stroke="#8e8e8e" stroke-width="3.5" stroke-linecap="round"/>
<line x1="270.68" y1="576.02" x2="269.98" y2="580.46" stroke="#8e8e8e" stroke-width="3.5" stroke-linecap="round"/>
<line x1="271.18" y1="571.54" x2="270.48" y2="575.98" stroke="#e6e6e6" stroke-width="1.26" stroke-linecap="round" opacity="0.9"/>
<line x1="270.48" y1="575.98" x2="269.77" y2="580.43" stroke="#e6e6e6" stroke-width="1.26" stroke-linecap="round" opacity="0.9"/>
<line x1="275.33" y1="618.84" x2="276.3" y2="614.45" stroke="#8e8e8e" stroke-width="3.5" stroke-linecap="round"/>
<line x1="276.3" y1="614.45" x2="277.28" y2="610.06" stroke="#8e8e8e" stroke-width="3.5" stroke-linecap="round"/>
<line x1="275.12" y1="618.8" x2="276.1" y2="614.41" stroke="#e6e6e6" stroke-width="1.26" stroke-linecap="round" opacity="0.9"/>
<line x1="276.1" y1="614.41" x2="277.07" y2="610.01" stroke="#e6e6e6" stroke-width="1.26" stroke-linecap="round" opacity="0.9"/>
<line x1="269.98" y1="580.46" x2="269.93" y2="585.71" stroke="#8e8e8e" stroke-width="3.3" stroke-linecap="round"/>
<line x1="269.93" y1="585.71" x2="269.89" y2="590.95" stroke="#8aaeea" stroke-width="3.3" stroke-linecap="round"/>
<line x1="269.78" y1="580.46" x2="269.74" y2="585.7" stroke="#e6e6e6" stroke-width="1.19" stroke-linecap="round" opacity="0.9"/>
<line x1="269.74" y1="585.7" x2="269.69" y2="590.95" stroke="#cfe0fa" stroke-width="1.19" stroke-linecap="round" opacity="0.9"/>
<line x1="269.89" y1="590.95" x2="273.63" y2="595.26" stroke="#8aaeea" stroke-width="3.3" stroke-linecap="round"/>
<line x1="273.63" y1="595.26" x2="277.37" y2="599.57" stroke="#8aaeea" stroke-width="3.3" stroke-linecap="round"/>
<line x1="270.04" y1="590.82" x2="273.78" y2="595.13" stroke="#cfe0fa" stroke-width="1.19" stroke-linecap="round" opacity="0.9"/>
<line x1="273.78" y1="595.13" x2="277.52" y2="599.44" stroke="#cfe0fa" stroke-width="1.19" stroke-linecap="round" opacity="0.9"/>
<line x1="277.37" y1="599.57" x2="277.32" y2="604.81" stroke="#8aaeea" stroke-width="3.3" stroke-linecap="round"/>
<line x1="277.32" y1="604.81" x2="277.28" y2="610.06" stroke="#8e8e8e" stroke-width="3.3" stroke-linecap="round"/>
<line x1="277.17" y1="599.57" x2="277.13" y2="604.81" stroke="#cfe0fa" stroke-width="1.19" stroke-linecap="round" opacity="0.9"/>
<line x1="277.13" y1="604.81" x2="277.08" y2="610.06" stroke="#e6e6e6" stroke-width="1.19" stroke-linecap="round" opacity="0.9"/>
<line x1="254.69" y1="634.7" x2="253.3" y2="631.6" stroke="#8e8e8e" stroke-width="2.9" stroke-linecap="round"/>
<line x1="253.3" y1="631.6" x2="251.91" y2="628.5" stroke="#b8b8b8" stroke-width="2.9" stroke-linecap="round"/>
<line x1="254.85" y1="634.63" x2="253.46" y2="631.53" stroke="#e6e6e6" stroke-width="1.04" stroke-linecap="round" opacity="0.9"/>
<line x1="253.46" y1="631.53" x2="252.07" y2="628.43" stroke="#ffffff" stroke-width="1.04" stroke-linecap="round" opacity="0.9"/>
<line x1="233.05" y1="656.42" x2="234.48" y2="659.5" stroke="#8e8e8e" stroke-width="2.9" stroke-linecap="round"/>
<line x1="234.48" y1="659.5" x2="235.91" y2="662.58" stroke="#b8b8b8" stroke-width="2.9" stroke-linecap="round"/>
<line x1="233.21" y1="656.34" x2="234.64" y2="659.43" stroke="#e6e6e6" stroke-width="1.04" stroke-linecap="round" opacity="0.9"/>
<line x1="234.64" y1="659.43" x2="236.07" y2="662.51" stroke="#ffffff" stroke-width="1.04" stroke-linecap="round" opacity="0.9"/>
<line x1="263.28" y1="632" x2="258.98" y2="633.35" stroke="#8e8e8e" stroke-width="3.5" stroke-linecap="round"/>
<line x1="258.98" y1="633.35" x2="254.69" y2="634.7" stroke="#8e8e8e" stroke-width="3.5" stroke-linecap="round"/>
<line x1="263.21" y1="631.8" x2="258.92" y2="633.15" stroke="#e6e6e6" stroke-width="1.26" stroke-linecap="round" opacity="0.9"/>
<line x1="258.92" y1="633.15" x2="254.63" y2="634.5" stroke="#e6e6e6" stroke-width="1.26" stroke-linecap="round" opacity="0.9"/>
<line x1="224.54" y1="659.35" x2="228.79" y2="657.88" stroke="#8e8e8e" stroke-width="3.5" stroke-linecap="round"/>
<line x1="228.79" y1="657.88" x2="233.05" y2="656.42" stroke="#8e8e8e" stroke-width="3.5" stroke-linecap="round"/>
<line x1="224.47" y1="659.15" x2="228.73" y2="657.68" stroke="#e6e6e6" stroke-width="1.26" stroke-linecap="round" opacity="0.9"/>
<line x1="228.73" y1="657.68" x2="232.98" y2="656.22" stroke="#e6e6e6" stroke-width="1.26" stroke-linecap="round" opacity="0.9"/>
<line x1="254.69" y1="634.7" x2="250.17" y2="637.4" stroke="#8e8e8e" stroke-width="3.3" stroke-linecap="round"/>
<line x1="250.17" y1="637.4" x2="245.64" y2="640.11" stroke="#8aaeea" stroke-width="3.3" stroke-linecap="round"/>
<line x1="254.59" y1="634.53" x2="250.06" y2="637.23" stroke="#e6e6e6" stroke-width="1.19" stroke-linecap="round" opacity="0.9"/>
<line x1="250.06" y1="637.23" x2="245.54" y2="639.94" stroke="#cfe0fa" stroke-width="1.19" stroke-linecap="round" opacity="0.9"/>
<line x1="245.64" y1="640.11" x2="243.87" y2="645.56" stroke="#8aaeea" stroke-width="3.3" stroke-linecap="round"/>
<line x1="243.87" y1="645.56" x2="242.1" y2="651.01" stroke="#8aaeea" stroke-width="3.3" stroke-linecap="round"/>
<line x1="245.45" y1="640.04" x2="243.68" y2="645.5" stroke="#cfe0fa" stroke-width="1.19" stroke-linecap="round" opacity="0.9"/>
<line x1="243.68" y1="645.5" x2="241.92" y2="650.95" stroke="#cfe0fa" stroke-width="1.19" stroke-linecap="round" opacity="0.9"/>
<line x1="242.1" y1="651.01" x2="237.58" y2="653.72" stroke="#8aaeea" stroke-width="3.3" stroke-linecap="round"/>
<line x1="237.58" y1="653.72" x2="233.05" y2="656.42" stroke="#8e8e8e" stroke-width="3.3" stroke-linecap="round"/>
<line x1="242" y1="650.84" x2="237.48" y2="653.55" stroke="#cfe0fa" stroke-width="1.19" stroke-linecap="round" opacity="0.9"/>
<line x1="237.48" y1="653.55" x2="232.95" y2="656.25" stroke="#e6e6e6" stroke-width="1.19" stroke-linecap="round" opacity="0.9"/>
<line x1="200.23" y1="650.04" x2="202.27" y2="647.31" stroke="#8e8e8e" stroke-width="2.9" stroke-linecap="round"/>
<line x1="202.27" y1="647.31" x2="204.3" y2="644.59" stroke="#b8b8b8" stroke-width="2.9" stroke-linecap="round"/>
<line x1="200.09" y1="649.93" x2="202.13" y2="647.21" stroke="#e6e6e6" stroke-width="1.04" stroke-linecap="round" opacity="0.9"/>
<line x1="202.13" y1="647.21" x2="204.17" y2="644.49" stroke="#ffffff" stroke-width="1.04" stroke-linecap="round" opacity="0.9"/>
<line x1="172.51" y1="641.28" x2="170.55" y2="644.06" stroke="#8e8e8e" stroke-width="2.9" stroke-linecap="round"/>
<line x1="170.55" y1="644.06" x2="168.58" y2="646.83" stroke="#b8b8b8" stroke-width="2.9" stroke-linecap="round"/>
<line x1="172.37" y1="641.18" x2="170.4" y2="643.96" stroke="#e6e6e6" stroke-width="1.04" stroke-linecap="round" opacity="0.9"/>
<line x1="170.4" y1="643.96" x2="168.44" y2="646.73" stroke="#ffffff" stroke-width="1.04" stroke-linecap="round" opacity="0.9"/>
<line x1="207.03" y1="655.94" x2="203.63" y2="652.99" stroke="#8e8e8e" stroke-width="3.5" stroke-linecap="round"/>
<line x1="203.63" y1="652.99" x2="200.23" y2="650.04" stroke="#8e8e8e" stroke-width="3.5" stroke-linecap="round"/>
<line x1="207.16" y1="655.78" x2="203.77" y2="652.83" stroke="#e6e6e6" stroke-width="1.26" stroke-linecap="round" opacity="0.9"/>
<line x1="203.77" y1="652.83" x2="200.37" y2="649.88" stroke="#e6e6e6" stroke-width="1.26" stroke-linecap="round" opacity="0.9"/>
<line x1="165.42" y1="635.74" x2="168.96" y2="638.51" stroke="#8e8e8e" stroke-width="3.5" stroke-linecap="round"/>
<line x1="168.96" y1="638.51" x2="172.51" y2="641.28" stroke="#8e8e8e" stroke-width="3.5" stroke-linecap="round"/>
<line x1="165.55" y1="635.58" x2="169.09" y2="638.35" stroke="#e6e6e6" stroke-width="1.26" stroke-linecap="round" opacity="0.9"/>
<line x1="169.09" y1="638.35" x2="172.64" y2="641.12" stroke="#e6e6e6" stroke-width="1.26" stroke-linecap="round" opacity="0.9"/>
<line x1="200.23" y1="650.04" x2="196" y2="647.34" stroke="#8e8e8e" stroke-width="3.3" stroke-linecap="round"/>
<line x1="196" y1="647.34" x2="191.78" y2="644.64" stroke="#8aaeea" stroke-width="3.3" stroke-linecap="round"/>
<line x1="200.34" y1="649.87" x2="196.11" y2="647.17" stroke="#e6e6e6" stroke-width="1.19" stroke-linecap="round" opacity="0.9"/>
<line x1="196.11" y1="647.17" x2="191.88" y2="644.47" stroke="#cfe0fa" stroke-width="1.19" stroke-linecap="round" opacity="0.9"/>
<line x1="191.78" y1="644.64" x2="186.37" y2="645.66" stroke="#8aaeea" stroke-width="3.3" stroke-linecap="round"/>
<line x1="186.37" y1="645.66" x2="180.97" y2="646.68" stroke="#8aaeea" stroke-width="3.3" stroke-linecap="round"/>
<line x1="191.74" y1="644.45" x2="186.33" y2="645.47" stroke="#cfe0fa" stroke-width="1.19" stroke-linecap="round" opacity="0.9"/>
<line x1="186.33" y1="645.47" x2="180.93" y2="646.49" stroke="#cfe0fa" stroke-width="1.19" stroke-linecap="round" opacity="0.9"/>
<line x1="180.97" y1="646.68" x2="176.74" y2="643.98" stroke="#8aaeea" stroke-width="3.3" stroke-linecap="round"/>
<line x1="176.74" y1="643.98" x2="172.51" y2="641.28" stroke="#8e8e8e" stroke-width="3.3" stroke-linecap="round"/>
<line x1="181.07" y1="646.51" x2="176.84" y2="643.81" stroke="#cfe0fa" stroke-width="1.19" stroke-linecap="round" opacity="0.9"/>
<line x1="176.84" y1="643.81" x2="172.62" y2="641.12" stroke="#e6e6e6" stroke-width="1.19" stroke-linecap="round" opacity="0.9"/>
<line x1="159.99" y1="610.29" x2="163.38" y2="610.52" stroke="#8e8e8e" stroke-width="2.9" stroke-linecap="round"/>
<line x1="163.38" y1="610.52" x2="166.77" y2="610.74" stroke="#b8b8b8" stroke-width="2.9" stroke-linecap="round"/>
<line x1="160" y1="610.11" x2="163.39" y2="610.34" stroke="#e6e6e6" stroke-width="1.04" stroke-linecap="round" opacity="0.9"/>
<line x1="163.39" y1="610.34" x2="166.78" y2="610.57" stroke="#ffffff" stroke-width="1.04" stroke-linecap="round" opacity="0.9"/>
<line x1="152.26" y1="580.51" x2="148.88" y2="580.13" stroke="#8e8e8e" stroke-width="2.9" stroke-linecap="round"/>
<line x1="148.88" y1="580.13" x2="145.5" y2="579.75" stroke="#b8b8b8" stroke-width="2.9" stroke-linecap="round"/>
<line x1="152.28" y1="580.33" x2="148.9" y2="579.96" stroke="#e6e6e6" stroke-width="1.04" stroke-linecap="round" opacity="0.9"/>
<line x1="148.9" y1="579.96" x2="145.52" y2="579.58" stroke="#ffffff" stroke-width="1.04" stroke-linecap="round" opacity="0.9"/>
<line x1="158.73" y1="619.2" x2="159.36" y2="614.74" stroke="#8e8e8e" stroke-width="3.5" stroke-linecap="round"/>
<line x1="159.36" y1="614.74" x2="159.99" y2="610.29" stroke="#8e8e8e" stroke-width="3.5" stroke-linecap="round"/>
<line x1="158.53" y1="619.17" x2="159.15" y2="614.71" stroke="#e6e6e6" stroke-width="1.26" stroke-linecap="round" opacity="0.9"/>
<line x1="159.15" y1="614.71" x2="159.78" y2="610.26" stroke="#e6e6e6" stroke-width="1.26" stroke-linecap="round" opacity="0.9"/>
<line x1="154.28" y1="571.74" x2="153.27" y2="576.12" stroke="#8e8e8e" stroke-width="3.5" stroke-linecap="round"/>
<line x1="153.27" y1="576.12" x2="152.26" y2="580.51" stroke="#8e8e8e" stroke-width="3.5" stroke-linecap="round"/>
<line x1="154.08" y1="571.69" x2="153.07" y2="576.07" stroke="#e6e6e6" stroke-width="1.26" stroke-linecap="round" opacity="0.9"/>
<line x1="153.07" y1="576.07" x2="152.05" y2="580.46" stroke="#e6e6e6" stroke-width="1.26" stroke-linecap="round" opacity="0.9"/>
<line x1="159.99" y1="610.29" x2="159.96" y2="605" stroke="#8e8e8e" stroke-width="3.3" stroke-linecap="round"/>
<line x1="159.96" y1="605" x2="159.93" y2="599.71" stroke="#8aaeea" stroke-width="3.3" stroke-linecap="round"/>
<line x1="160.18" y1="610.29" x2="160.15" y2="605" stroke="#e6e6e6" stroke-width="1.19" stroke-linecap="round" opacity="0.9"/>
<line x1="160.15" y1="605" x2="160.12" y2="599.71" stroke="#cfe0fa" stroke-width="1.19" stroke-linecap="round" opacity="0.9"/>
<line x1="159.93" y1="599.71" x2="156.12" y2="595.4" stroke="#8aaeea" stroke-width="3.3" stroke-linecap="round"/>
<line x1="156.12" y1="595.4" x2="152.32" y2="591.09" stroke="#8aaeea" stroke-width="3.3" stroke-linecap="round"/>
<line x1="160.08" y1="599.58" x2="156.27" y2="595.27" stroke="#cfe0fa" stroke-width="1.19" stroke-linecap="round" opacity="0.9"/>
<line x1="156.27" y1="595.27" x2="152.47" y2="590.95" stroke="#cfe0fa" stroke-width="1.19" stroke-linecap="round" opacity="0.9"/>
<line x1="152.32" y1="591.09" x2="152.29" y2="585.8" stroke="#8aaeea" stroke-width="3.3" stroke-linecap="round"/>
<line x1="152.29" y1="585.8" x2="152.26" y2="580.51" stroke="#8e8e8e" stroke-width="3.3" stroke-linecap="round"/>
<line x1="152.52" y1="591.08" x2="152.49" y2="585.79" stroke="#cfe0fa" stroke-width="1.19" stroke-linecap="round" opacity="0.9"/>
<line x1="152.49" y1="585.79" x2="152.46" y2="580.5" stroke="#e6e6e6" stroke-width="1.19" stroke-linecap="round" opacity="0.9"/>
<line x1="175.06" y1="556.06" x2="176.48" y2="559.14" stroke="#8e8e8e" stroke-width="2.9" stroke-linecap="round"/>
<line x1="176.48" y1="559.14" x2="177.91" y2="562.23" stroke="#b8b8b8" stroke-width="2.9" stroke-linecap="round"/>
<line x1="175.21" y1="555.98" x2="176.64" y2="559.07" stroke="#e6e6e6" stroke-width="1.04" stroke-linecap="round" opacity="0.9"/>
<line x1="176.64" y1="559.07" x2="178.07" y2="562.16" stroke="#ffffff" stroke-width="1.04" stroke-linecap="round" opacity="0.9"/>
<line x1="196.49" y1="533.34" x2="195.18" y2="530.21" stroke="#8e8e8e" stroke-width="2.9" stroke-linecap="round"/>
<line x1="195.18" y1="530.21" x2="193.86" y2="527.07" stroke="#b8b8b8" stroke-width="2.9" stroke-linecap="round"/>
<line x1="196.66" y1="533.27" x2="195.34" y2="530.14" stroke="#e6e6e6" stroke-width="1.04" stroke-linecap="round" opacity="0.9"/>
<line x1="195.34" y1="530.14" x2="194.02" y2="527.01" stroke="#ffffff" stroke-width="1.04" stroke-linecap="round" opacity="0.9"/>
<line x1="166.45" y1="558.69" x2="170.75" y2="557.37" stroke="#8e8e8e" stroke-width="3.5" stroke-linecap="round"/>
<line x1="170.75" y1="557.37" x2="175.06" y2="556.06" stroke="#8e8e8e" stroke-width="3.5" stroke-linecap="round"/>
<line x1="166.39" y1="558.49" x2="170.69" y2="557.17" stroke="#e6e6e6" stroke-width="1.26" stroke-linecap="round" opacity="0.9"/>
<line x1="170.69" y1="557.17" x2="175" y2="555.86" stroke="#e6e6e6" stroke-width="1.26" stroke-linecap="round" opacity="0.9"/>
<line x1="205.26" y1="531.32" x2="200.88" y2="532.33" stroke="#8e8e8e" stroke-width="3.5" stroke-linecap="round"/>
<line x1="200.88" y1="532.33" x2="196.49" y2="533.34" stroke="#8e8e8e" stroke-width="3.5" stroke-linecap="round"/>
<line x1="205.22" y1="531.11" x2="200.83" y2="532.12" stroke="#e6e6e6" stroke-width="1.26" stroke-linecap="round" opacity="0.9"/>
<line x1="200.83" y1="532.12" x2="196.45" y2="533.14" stroke="#e6e6e6" stroke-width="1.26" stroke-linecap="round" opacity="0.9"/>
<line x1="175.06" y1="556.06" x2="179.58" y2="553.16" stroke="#8e8e8e" stroke-width="3.3" stroke-linecap="round"/>
<line x1="179.58" y1="553.16" x2="184.09" y2="550.27" stroke="#8aaeea" stroke-width="3.3" stroke-linecap="round"/>
<line x1="174.95" y1="555.89" x2="179.47" y2="553" stroke="#e6e6e6" stroke-width="1.19" stroke-linecap="round" opacity="0.9"/>
<line x1="179.47" y1="553" x2="183.99" y2="550.1" stroke="#cfe0fa" stroke-width="1.19" stroke-linecap="round" opacity="0.9"/>
<line x1="184.09" y1="550.27" x2="185.78" y2="544.7" stroke="#8aaeea" stroke-width="3.3" stroke-linecap="round"/>
<line x1="185.78" y1="544.7" x2="187.46" y2="539.13" stroke="#8aaeea" stroke-width="3.3" stroke-linecap="round"/>
<line x1="183.9" y1="550.21" x2="185.59" y2="544.64" stroke="#cfe0fa" stroke-width="1.19" stroke-linecap="round" opacity="0.9"/>
<line x1="185.59" y1="544.64" x2="187.27" y2="539.07" stroke="#cfe0fa" stroke-width="1.19" stroke-linecap="round" opacity="0.9"/>
<line x1="187.46" y1="539.13" x2="191.98" y2="536.24" stroke="#8aaeea" stroke-width="3.3" stroke-linecap="round"/>
<line x1="191.98" y1="536.24" x2="196.49" y2="533.34" stroke="#8e8e8e" stroke-width="3.3" stroke-linecap="round"/>
<line x1="187.35" y1="538.96" x2="191.87" y2="536.07" stroke="#cfe0fa" stroke-width="1.19" stroke-linecap="round" opacity="0.9"/>
<line x1="191.87" y1="536.07" x2="196.39" y2="533.17" stroke="#e6e6e6" stroke-width="1.19" stroke-linecap="round" opacity="0.9"/>
<line x1="218.31" y1="519.15" x2="221.82" y2="522.92" stroke="#8e8e8e" stroke-width="3.8" stroke-linecap="round"/>
<line x1="221.82" y1="522.92" x2="225.34" y2="526.68" stroke="#8e8e8e" stroke-width="3.8" stroke-linecap="round"/>
<line x1="218.48" y1="518.99" x2="221.99" y2="522.76" stroke="#e6e6e6" stroke-width="1.37" stroke-linecap="round" opacity="0.9"/>
<line x1="221.99" y1="522.76" x2="225.5" y2="526.53" stroke="#e6e6e6" stroke-width="1.37" stroke-linecap="round" opacity="0.9"/>
<line x1="225.34" y1="526.68" x2="223.83" y2="531.61" stroke="#8e8e8e" stroke-width="3.8" stroke-linecap="round"/>
<line x1="223.83" y1="531.61" x2="222.32" y2="536.53" stroke="#8e8e8e" stroke-width="3.8" stroke-linecap="round"/>
<line x1="225.12" y1="526.62" x2="223.61" y2="531.54" stroke="#e6e6e6" stroke-width="1.37" stroke-linecap="round" opacity="0.9"/>
<line x1="223.61" y1="531.54" x2="222.11" y2="536.47" stroke="#e6e6e6" stroke-width="1.37" stroke-linecap="round" opacity="0.9"/>
<line x1="222.32" y1="536.53" x2="217.31" y2="537.69" stroke="#8e8e8e" stroke-width="3.8" stroke-linecap="round"/>
<line x1="217.31" y1="537.69" x2="212.29" y2="538.85" stroke="#8e8e8e" stroke-width="3.8" stroke-linecap="round"/>
<line x1="222.27" y1="536.31" x2="217.26" y2="537.47" stroke="#e6e6e6" stroke-width="1.37" stroke-linecap="round" opacity="0.9"/>
<line x1="217.26" y1="537.47" x2="212.24" y2="538.63" stroke="#e6e6e6" stroke-width="1.37" stroke-linecap="round" opacity="0.9"/>
<line x1="212.29" y1="538.85" x2="208.78" y2="535.08" stroke="#8e8e8e" stroke-width="3.8" stroke-linecap="round"/>
<line x1="208.78" y1="535.08" x2="205.26" y2="531.32" stroke="#8e8e8e" stroke-width="3.8" stroke-linecap="round"/>
<line x1="212.46" y1="538.69" x2="208.94" y2="534.93" stroke="#e6e6e6" stroke-width="1.37" stroke-linecap="round" opacity="0.9"/>
<line x1="208.94" y1="534.93" x2="205.43" y2="531.16" stroke="#e6e6e6" stroke-width="1.37" stroke-linecap="round" opacity="0.9"/>
<line x1="205.26" y1="531.32" x2="206.77" y2="526.39" stroke="#8e8e8e" stroke-width="3.8" stroke-linecap="round"/>
<line x1="206.77" y1="526.39" x2="208.28" y2="521.47" stroke="#8e8e8e" stroke-width="3.8" stroke-linecap="round"/>
<line x1="205.05" y1="531.25" x2="206.55" y2="526.33" stroke="#e6e6e6" stroke-width="1.37" stroke-linecap="round" opacity="0.9"/>
<line x1="206.55" y1="526.33" x2="208.06" y2="521.4" stroke="#e6e6e6" stroke-width="1.37" stroke-linecap="round" opacity="0.9"/>
<line x1="208.28" y1="521.47" x2="213.29" y2="520.31" stroke="#8e8e8e" stroke-width="3.8" stroke-linecap="round"/>
<line x1="213.29" y1="520.31" x2="218.31" y2="519.15" stroke="#8e8e8e" stroke-width="3.8" stroke-linecap="round"/>
<line x1="208.22" y1="521.24" x2="213.24" y2="520.09" stroke="#e6e6e6" stroke-width="1.37" stroke-linecap="round" opacity="0.9"/>
<line x1="213.24" y1="520.09" x2="218.26" y2="518.93" stroke="#e6e6e6" stroke-width="1.37" stroke-linecap="round" opacity="0.9"/>
<line x1="282.62" y1="557.71" x2="281.81" y2="562.8" stroke="#8e8e8e" stroke-width="3.8" stroke-linecap="round"/>
<line x1="281.81" y1="562.8" x2="281" y2="567.88" stroke="#8e8e8e" stroke-width="3.8" stroke-linecap="round"/>
<line x1="282.39" y1="557.67" x2="281.59" y2="562.76" stroke="#e6e6e6" stroke-width="1.37" stroke-linecap="round" opacity="0.9"/>
<line x1="281.59" y1="562.76" x2="280.78" y2="567.85" stroke="#e6e6e6" stroke-width="1.37" stroke-linecap="round" opacity="0.9"/>
<line x1="281" y1="567.88" x2="276.2" y2="569.73" stroke="#8e8e8e" stroke-width="3.8" stroke-linecap="round"/>
<line x1="276.2" y1="569.73" x2="271.39" y2="571.57" stroke="#8e8e8e" stroke-width="3.8" stroke-linecap="round"/>
<line x1="280.92" y1="567.67" x2="276.11" y2="569.51" stroke="#e6e6e6" stroke-width="1.37" stroke-linecap="round" opacity="0.9"/>
<line x1="276.11" y1="569.51" x2="271.31" y2="571.36" stroke="#e6e6e6" stroke-width="1.37" stroke-linecap="round" opacity="0.9"/>
<line x1="271.39" y1="571.57" x2="267.39" y2="568.33" stroke="#8e8e8e" stroke-width="3.8" stroke-linecap="round"/>
<line x1="267.39" y1="568.33" x2="263.38" y2="565.09" stroke="#8e8e8e" stroke-width="3.8" stroke-linecap="round"/>
<line x1="271.53" y1="571.4" x2="267.53" y2="568.16" stroke="#e6e6e6" stroke-width="1.37" stroke-linecap="round" opacity="0.9"/>
<line x1="267.53" y1="568.16" x2="263.53" y2="564.91" stroke="#e6e6e6" stroke-width="1.37" stroke-linecap="round" opacity="0.9"/>
<line x1="263.38" y1="565.09" x2="264.19" y2="560" stroke="#8e8e8e" stroke-width="3.8" stroke-linecap="round"/>
<line x1="264.19" y1="560" x2="265" y2="554.92" stroke="#8e8e8e" stroke-width="3.8" stroke-linecap="round"/>
<line x1="263.16" y1="565.06" x2="263.96" y2="559.97" stroke="#e6e6e6" stroke-width="1.37" stroke-linecap="round" opacity="0.9"/>
<line x1="263.96" y1="559.97" x2="264.77" y2="554.88" stroke="#e6e6e6" stroke-width="1.37" stroke-linecap="round" opacity="0.9"/>
<line x1="265" y1="554.92" x2="269.8" y2="553.07" stroke="#8e8e8e" stroke-width="3.8" stroke-linecap="round"/>
<line x1="269.8" y1="553.07" x2="274.61" y2="551.23" stroke="#8e8e8e" stroke-width="3.8" stroke-linecap="round"/>
<line x1="264.91" y1="554.71" x2="269.72" y2="552.86" stroke="#e6e6e6" stroke-width="1.37" stroke-linecap="round" opacity="0.9"/>
<line x1="269.72" y1="552.86" x2="274.53" y2="551.01" stroke="#e6e6e6" stroke-width="1.37" stroke-linecap="round" opacity="0.9"/>
<line x1="274.61" y1="551.23" x2="278.61" y2="554.47" stroke="#8e8e8e" stroke-width="3.8" stroke-linecap="round"/>
<line x1="278.61" y1="554.47" x2="282.62" y2="557.71" stroke="#8e8e8e" stroke-width="3.8" stroke-linecap="round"/>
<line x1="274.75" y1="551.05" x2="278.76" y2="554.29" stroke="#e6e6e6" stroke-width="1.37" stroke-linecap="round" opacity="0.9"/>
<line x1="278.76" y1="554.29" x2="282.76" y2="557.53" stroke="#e6e6e6" stroke-width="1.37" stroke-linecap="round" opacity="0.9"/>
<line x1="280.69" y1="635.86" x2="275.78" y2="637.41" stroke="#8e8e8e" stroke-width="3.8" stroke-linecap="round"/>
<line x1="275.78" y1="637.41" x2="270.87" y2="638.96" stroke="#8e8e8e" stroke-width="3.8" stroke-linecap="round"/>
<line x1="280.63" y1="635.64" x2="275.71" y2="637.19" stroke="#e6e6e6" stroke-width="1.37" stroke-linecap="round" opacity="0.9"/>
<line x1="275.71" y1="637.19" x2="270.8" y2="638.74" stroke="#e6e6e6" stroke-width="1.37" stroke-linecap="round" opacity="0.9"/>
<line x1="270.87" y1="638.96" x2="267.07" y2="635.48" stroke="#8e8e8e" stroke-width="3.8" stroke-linecap="round"/>
<line x1="267.07" y1="635.48" x2="263.28" y2="632" stroke="#8e8e8e" stroke-width="3.8" stroke-linecap="round"/>
<line x1="271.02" y1="638.79" x2="267.23" y2="635.31" stroke="#e6e6e6" stroke-width="1.37" stroke-linecap="round" opacity="0.9"/>
<line x1="267.23" y1="635.31" x2="263.43" y2="631.83" stroke="#e6e6e6" stroke-width="1.37" stroke-linecap="round" opacity="0.9"/>
<line x1="263.28" y1="632" x2="264.39" y2="626.97" stroke="#8e8e8e" stroke-width="3.8" stroke-linecap="round"/>
<line x1="264.39" y1="626.97" x2="265.51" y2="621.94" stroke="#8e8e8e" stroke-width="3.8" stroke-linecap="round"/>
<line x1="263.05" y1="631.95" x2="264.17" y2="626.92" stroke="#e6e6e6" stroke-width="1.37" stroke-linecap="round" opacity="0.9"/>
<line x1="264.17" y1="626.92" x2="265.28" y2="621.89" stroke="#e6e6e6" stroke-width="1.37" stroke-linecap="round" opacity="0.9"/>
<line x1="265.51" y1="621.94" x2="270.42" y2="620.39" stroke="#8e8e8e" stroke-width="3.8" stroke-linecap="round"/>
<line x1="270.42" y1="620.39" x2="275.33" y2="618.84" stroke="#8e8e8e" stroke-width="3.8" stroke-linecap="round"/>
<line x1="265.44" y1="621.72" x2="270.35" y2="620.18" stroke="#e6e6e6" stroke-width="1.37" stroke-linecap="round" opacity="0.9"/>
<line x1="270.35" y1="620.18" x2="275.26" y2="618.63" stroke="#e6e6e6" stroke-width="1.37" stroke-linecap="round" opacity="0.9"/>
<line x1="275.33" y1="618.84" x2="279.13" y2="622.32" stroke="#8e8e8e" stroke-width="3.8" stroke-linecap="round"/>
<line x1="279.13" y1="622.32" x2="282.92" y2="625.8" stroke="#8e8e8e" stroke-width="3.8" stroke-linecap="round"/>
<line x1="275.48" y1="618.68" x2="279.28" y2="622.16" stroke="#e6e6e6" stroke-width="1.37" stroke-linecap="round" opacity="0.9"/>
<line x1="279.28" y1="622.16" x2="283.08" y2="625.63" stroke="#e6e6e6" stroke-width="1.37" stroke-linecap="round" opacity="0.9"/>
<line x1="282.92" y1="625.8" x2="281.81" y2="630.83" stroke="#8e8e8e" stroke-width="3.8" stroke-linecap="round"/>
<line x1="281.81" y1="630.83" x2="280.69" y2="635.86" stroke="#8e8e8e" stroke-width="3.8" stroke-linecap="round"/>
<line x1="282.7" y1="625.75" x2="281.59" y2="630.78" stroke="#e6e6e6" stroke-width="1.37" stroke-linecap="round" opacity="0.9"/>
<line x1="281.59" y1="630.78" x2="280.47" y2="635.81" stroke="#e6e6e6" stroke-width="1.37" stroke-linecap="round" opacity="0.9"/>
<line x1="212.83" y1="672.81" x2="208.95" y2="669.43" stroke="#8e8e8e" stroke-width="3.8" stroke-linecap="round"/>
<line x1="208.95" y1="669.43" x2="205.06" y2="666.05" stroke="#8e8e8e" stroke-width="3.8" stroke-linecap="round"/>
<line x1="212.98" y1="672.64" x2="209.1" y2="669.26" stroke="#e6e6e6" stroke-width="1.37" stroke-linecap="round" opacity="0.9"/>
<line x1="209.1" y1="669.26" x2="205.21" y2="665.88" stroke="#e6e6e6" stroke-width="1.37" stroke-linecap="round" opacity="0.9"/>
<line x1="205.06" y1="666.05" x2="206.04" y2="661" stroke="#8e8e8e" stroke-width="3.8" stroke-linecap="round"/>
<line x1="206.04" y1="661" x2="207.03" y2="655.94" stroke="#8e8e8e" stroke-width="3.8" stroke-linecap="round"/>
<line x1="204.84" y1="666.01" x2="205.82" y2="660.95" stroke="#e6e6e6" stroke-width="1.37" stroke-linecap="round" opacity="0.9"/>
<line x1="205.82" y1="660.95" x2="206.8" y2="655.9" stroke="#e6e6e6" stroke-width="1.37" stroke-linecap="round" opacity="0.9"/>
<line x1="207.03" y1="655.94" x2="211.9" y2="654.27" stroke="#8e8e8e" stroke-width="3.8" stroke-linecap="round"/>
<line x1="211.9" y1="654.27" x2="216.77" y2="652.59" stroke="#8e8e8e" stroke-width="3.8" stroke-linecap="round"/>
<line x1="206.95" y1="655.73" x2="211.82" y2="654.05" stroke="#e6e6e6" stroke-width="1.37" stroke-linecap="round" opacity="0.9"/>
<line x1="211.82" y1="654.05" x2="216.69" y2="652.37" stroke="#e6e6e6" stroke-width="1.37" stroke-linecap="round" opacity="0.9"/>
<line x1="216.77" y1="652.59" x2="220.65" y2="655.97" stroke="#8e8e8e" stroke-width="3.8" stroke-linecap="round"/>
<line x1="220.65" y1="655.97" x2="224.54" y2="659.35" stroke="#8e8e8e" stroke-width="3.8" stroke-linecap="round"/>
<line x1="216.91" y1="652.42" x2="220.8" y2="655.8" stroke="#e6e6e6" stroke-width="1.37" stroke-linecap="round" opacity="0.9"/>
<line x1="220.8" y1="655.8" x2="224.69" y2="659.17" stroke="#e6e6e6" stroke-width="1.37" stroke-linecap="round" opacity="0.9"/>
<line x1="224.54" y1="659.35" x2="223.56" y2="664.4" stroke="#8e8e8e" stroke-width="3.8" stroke-linecap="round"/>
<line x1="223.56" y1="664.4" x2="222.57" y2="669.46" stroke="#8e8e8e" stroke-width="3.8" stroke-linecap="round"/>
<line x1="224.32" y1="659.3" x2="223.33" y2="664.36" stroke="#e6e6e6" stroke-width="1.37" stroke-linecap="round" opacity="0.9"/>
<line x1="223.33" y1="664.36" x2="222.35" y2="669.41" stroke="#e6e6e6" stroke-width="1.37" stroke-linecap="round" opacity="0.9"/>
<line x1="222.57" y1="669.46" x2="217.7" y2="671.13" stroke="#8e8e8e" stroke-width="3.8" stroke-linecap="round"/>
<line x1="217.7" y1="671.13" x2="212.83" y2="672.81" stroke="#8e8e8e" stroke-width="3.8" stroke-linecap="round"/>
<line x1="222.5" y1="669.24" x2="217.63" y2="670.92" stroke="#e6e6e6" stroke-width="1.37" stroke-linecap="round" opacity="0.9"/>
<line x1="217.63" y1="670.92" x2="212.76" y2="672.6" stroke="#e6e6e6" stroke-width="1.37" stroke-linecap="round" opacity="0.9"/>
<line x1="147.75" y1="633.26" x2="148.47" y2="628.16" stroke="#8e8e8e" stroke-width="3.8" stroke-linecap="round"/>
<line x1="148.47" y1="628.16" x2="149.18" y2="623.06" stroke="#8e8e8e" stroke-width="3.8" stroke-linecap="round"/>
<line x1="147.52" y1="633.23" x2="148.24" y2="628.13" stroke="#e6e6e6" stroke-width="1.37" stroke-linecap="round" opacity="0.9"/>
<line x1="148.24" y1="628.13" x2="148.96" y2="623.03" stroke="#e6e6e6" stroke-width="1.37" stroke-linecap="round" opacity="0.9"/>
<line x1="149.18" y1="623.06" x2="153.96" y2="621.13" stroke="#8e8e8e" stroke-width="3.8" stroke-linecap="round"/>
<line x1="153.96" y1="621.13" x2="158.73" y2="619.2" stroke="#8e8e8e" stroke-width="3.8" stroke-linecap="round"/>
<line x1="149.1" y1="622.85" x2="153.87" y2="620.92" stroke="#e6e6e6" stroke-width="1.37" stroke-linecap="round" opacity="0.9"/>
<line x1="153.87" y1="620.92" x2="158.65" y2="618.99" stroke="#e6e6e6" stroke-width="1.37" stroke-linecap="round" opacity="0.9"/>
<line x1="158.73" y1="619.2" x2="162.79" y2="622.37" stroke="#8e8e8e" stroke-width="3.8" stroke-linecap="round"/>
<line x1="162.79" y1="622.37" x2="166.85" y2="625.54" stroke="#8e8e8e" stroke-width="3.8" stroke-linecap="round"/>
<line x1="158.87" y1="619.02" x2="162.93" y2="622.19" stroke="#e6e6e6" stroke-width="1.37" stroke-linecap="round" opacity="0.9"/>
<line x1="162.93" y1="622.19" x2="166.99" y2="625.36" stroke="#e6e6e6" stroke-width="1.37" stroke-linecap="round" opacity="0.9"/>
<line x1="166.85" y1="625.54" x2="166.13" y2="630.64" stroke="#8e8e8e" stroke-width="3.8" stroke-linecap="round"/>
<line x1="166.13" y1="630.64" x2="165.42" y2="635.74" stroke="#8e8e8e" stroke-width="3.8" stroke-linecap="round"/>
<line x1="166.62" y1="625.51" x2="165.91" y2="630.61" stroke="#e6e6e6" stroke-width="1.37" stroke-linecap="round" opacity="0.9"/>
<line x1="165.91" y1="630.61" x2="165.19" y2="635.71" stroke="#e6e6e6" stroke-width="1.37" stroke-linecap="round" opacity="0.9"/>
<line x1="165.42" y1="635.74" x2="160.64" y2="637.67" stroke="#8e8e8e" stroke-width="3.8" stroke-linecap="round"/>
<line x1="160.64" y1="637.67" x2="155.87" y2="639.6" stroke="#8e8e8e" stroke-width="3.8" stroke-linecap="round"/>
<line x1="165.33" y1="635.53" x2="160.56" y2="637.46" stroke="#e6e6e6" stroke-width="1.37" stroke-linecap="round" opacity="0.9"/>
<line x1="160.56" y1="637.46" x2="155.78" y2="639.39" stroke="#e6e6e6" stroke-width="1.37" stroke-linecap="round" opacity="0.9"/>
<line x1="155.87" y1="639.6" x2="151.81" y2="636.43" stroke="#8e8e8e" stroke-width="3.8" stroke-linecap="round"/>
<line x1="151.81" y1="636.43" x2="147.75" y2="633.26" stroke="#8e8e8e" stroke-width="3.8" stroke-linecap="round"/>
<line x1="156.01" y1="639.42" x2="151.95" y2="636.25" stroke="#e6e6e6" stroke-width="1.37" stroke-linecap="round" opacity="0.9"/>
<line x1="151.95" y1="636.25" x2="147.89" y2="633.08" stroke="#e6e6e6" stroke-width="1.37" stroke-linecap="round" opacity="0.9"/>
<line x1="149.07" y1="554.68" x2="153.99" y2="553.17" stroke="#8e8e8e" stroke-width="3.8" stroke-linecap="round"/>
<line x1="153.99" y1="553.17" x2="158.92" y2="551.66" stroke="#8e8e8e" stroke-width="3.8" stroke-linecap="round"/>
<line x1="149" y1="554.46" x2="153.93" y2="552.95" stroke="#e6e6e6" stroke-width="1.37" stroke-linecap="round" opacity="0.9"/>
<line x1="153.93" y1="552.95" x2="158.85" y2="551.45" stroke="#e6e6e6" stroke-width="1.37" stroke-linecap="round" opacity="0.9"/>
<line x1="158.92" y1="551.66" x2="162.68" y2="555.18" stroke="#8e8e8e" stroke-width="3.8" stroke-linecap="round"/>
<line x1="162.68" y1="555.18" x2="166.45" y2="558.69" stroke="#8e8e8e" stroke-width="3.8" stroke-linecap="round"/>
<line x1="159.07" y1="551.5" x2="162.84" y2="555.01" stroke="#e6e6e6" stroke-width="1.37" stroke-linecap="round" opacity="0.9"/>
<line x1="162.84" y1="555.01" x2="166.61" y2="558.52" stroke="#e6e6e6" stroke-width="1.37" stroke-linecap="round" opacity="0.9"/>
<line x1="166.45" y1="558.69" x2="165.29" y2="563.71" stroke="#8e8e8e" stroke-width="3.8" stroke-linecap="round"/>
<line x1="165.29" y1="563.71" x2="164.13" y2="568.72" stroke="#8e8e8e" stroke-width="3.8" stroke-linecap="round"/>
<line x1="166.23" y1="558.64" x2="165.07" y2="563.66" stroke="#e6e6e6" stroke-width="1.37" stroke-linecap="round" opacity="0.9"/>
<line x1="165.07" y1="563.66" x2="163.91" y2="568.67" stroke="#e6e6e6" stroke-width="1.37" stroke-linecap="round" opacity="0.9"/>
<line x1="164.13" y1="568.72" x2="159.21" y2="570.23" stroke="#8e8e8e" stroke-width="3.8" stroke-linecap="round"/>
<line x1="159.21" y1="570.23" x2="154.28" y2="571.74" stroke="#8e8e8e" stroke-width="3.8" stroke-linecap="round"/>
<line x1="164.07" y1="568.51" x2="159.14" y2="570.01" stroke="#e6e6e6" stroke-width="1.37" stroke-linecap="round" opacity="0.9"/>
<line x1="159.14" y1="570.01" x2="154.22" y2="571.52" stroke="#e6e6e6" stroke-width="1.37" stroke-linecap="round" opacity="0.9"/>
<line x1="154.28" y1="571.74" x2="150.52" y2="568.22" stroke="#8e8e8e" stroke-width="3.8" stroke-linecap="round"/>
<line x1="150.52" y1="568.22" x2="146.75" y2="564.71" stroke="#8e8e8e" stroke-width="3.8" stroke-linecap="round"/>
<line x1="154.44" y1="571.57" x2="150.67" y2="568.06" stroke="#e6e6e6" stroke-width="1.37" stroke-linecap="round" opacity="0.9"/>
<line x1="150.67" y1="568.06" x2="146.91" y2="564.54" stroke="#e6e6e6" stroke-width="1.37" stroke-linecap="round" opacity="0.9"/>
<line x1="146.75" y1="564.71" x2="147.91" y2="559.69" stroke="#8e8e8e" stroke-width="3.8" stroke-linecap="round"/>
<line x1="147.91" y1="559.69" x2="149.07" y2="554.68" stroke="#8e8e8e" stroke-width="3.8" stroke-linecap="round"/>
<line x1="146.53" y1="564.66" x2="147.69" y2="559.64" stroke="#e6e6e6" stroke-width="1.37" stroke-linecap="round" opacity="0.9"/>
<line x1="147.69" y1="559.64" x2="148.84" y2="554.62" stroke="#e6e6e6" stroke-width="1.37" stroke-linecap="round" opacity="0.9"/>
<ellipse cx="188.5" cy="543.9" rx="19.5" ry="12.5" transform="rotate(-50 188.5 543.9)" fill="#7f9fdc" opacity="0.55"/>
<line x1="177" y1="596.9" x2="257" y2="596.9" stroke="#b5d0ea" stroke-width="1.8"/>
<path d="M170.4 596.9 L178.6 592.6 L177.4 596.9 L178.6 601.2Z" fill="#b5d0ea"/>
<path d="M263.7 596.9 L255.5 592.6 L256.7 596.9 L255.5 601.2Z" fill="#b5d0ea"/>
<text x="215" y="589.8" font-size="15.9" font-weight="bold" text-anchor="middle" fill="#111" font-family='"Liberation Sans", sans-serif'>0.84 nm</text>
<clipPath id="clip1"><path d="M332.5 502.9 C335.13 500.85 338.38 501.57 341.3 502 C344.22 502.43 346.5 503.9 350 505.5 C353.5 507.1 357.92 510.87 362.3 511.6 C366.68 512.33 371.35 510.48 376.3 509.9 C381.25 509.32 387.55 509.25 392 508.1 C396.45 506.95 399.5 504.3 403 503 C406.5 501.7 409.57 500.62 413 500.3 C416.43 499.98 420.8 499.65 423.6 501.1 C426.4 502.55 428.57 505.85 429.8 509 C431.03 512.15 431 516.5 431 520 C431 523.5 430.45 526.57 429.8 530 C429.15 533.43 429 537.67 427.1 540.6 C425.2 543.53 421.32 545.57 418.4 547.6 C415.48 549.63 411.95 550.47 409.6 552.8 C407.25 555.13 405.63 558.65 404.3 561.6 C402.97 564.55 402.38 567.48 401.6 570.5 C400.82 573.52 400.37 576.63 399.6 579.7 C398.83 582.77 397.43 585.83 397 588.9 C396.57 591.97 396.33 595.25 397 598.1 C397.67 600.95 399.25 603.58 401 606 C402.75 608.42 405.32 610.63 407.5 612.6 C409.68 614.57 411.68 615.98 414.1 617.8 C416.52 619.62 419.6 621.38 422 623.5 C424.4 625.62 426.9 626.83 428.5 630.5 C430.1 634.17 431.38 641.25 431.6 645.5 C431.82 649.75 430.97 653.37 429.8 656 C428.63 658.63 427.23 660.27 424.6 661.3 C421.97 662.33 417.5 662.35 414 662.2 C410.5 662.05 406.8 660.98 403.6 660.4 C400.4 659.82 397.73 658.85 394.8 658.7 C391.87 658.55 388.92 658.92 386 659.5 C383.08 660.08 380.22 661.75 377.3 662.2 C374.38 662.65 371.13 662.5 368.5 662.2 C365.87 661.9 364.42 660.4 361.5 660.4 C358.58 660.4 354.5 660.88 351 662.2 C347.5 663.52 344.15 666.55 340.5 668.3 C336.85 670.05 332.6 672.42 329.1 672.7 C325.6 672.98 321.53 672.78 319.5 670 C317.47 667.22 317.07 660.88 316.9 656 C316.73 651.12 317.43 644.67 318.5 640.7 C319.57 636.73 320.88 634.32 323.3 632.2 C325.72 630.08 330.57 630.18 333 628 C335.43 625.82 336.65 621.9 337.9 619.1 C339.15 616.3 339.18 613.82 340.5 611.2 C341.82 608.58 343.83 605.8 345.8 603.4 C347.77 601 350.55 599 352.3 596.8 C354.05 594.6 355.53 592.62 356.3 590.2 C357.07 587.78 357.45 584.7 356.9 582.3 C356.35 579.9 354.42 578.2 353 575.8 C351.58 573.4 349.5 570.53 348.4 567.9 C347.3 565.27 347 562.52 346.4 560 C345.8 557.48 346.53 555.17 344.8 552.8 C343.07 550.43 338.92 548.42 336 545.8 C333.08 543.18 329.33 540.3 327.3 537.1 C325.27 533.9 324.1 530.4 323.8 526.6 C323.5 522.8 324.05 518.25 325.5 514.3 C326.95 510.35 329.87 504.95 332.5 502.9Z"/></clipPath>
<path d="M332.5 502.9 C335.13 500.85 338.38 501.57 341.3 502 C344.22 502.43 346.5 503.9 350 505.5 C353.5 507.1 357.92 510.87 362.3 511.6 C366.68 512.33 371.35 510.48 376.3 509.9 C381.25 509.32 387.55 509.25 392 508.1 C396.45 506.95 399.5 504.3 403 503 C406.5 501.7 409.57 500.62 413 500.3 C416.43 499.98 420.8 499.65 423.6 501.1 C426.4 502.55 428.57 505.85 429.8 509 C431.03 512.15 431 516.5 431 520 C431 523.5 430.45 526.57 429.8 530 C429.15 533.43 429 537.67 427.1 540.6 C425.2 543.53 421.32 545.57 418.4 547.6 C415.48 549.63 411.95 550.47 409.6 552.8 C407.25 555.13 405.63 558.65 404.3 561.6 C402.97 564.55 402.38 567.48 401.6 570.5 C400.82 573.52 400.37 576.63 399.6 579.7 C398.83 582.77 397.43 585.83 397 588.9 C396.57 591.97 396.33 595.25 397 598.1 C397.67 600.95 399.25 603.58 401 606 C402.75 608.42 405.32 610.63 407.5 612.6 C409.68 614.57 411.68 615.98 414.1 617.8 C416.52 619.62 419.6 621.38 422 623.5 C424.4 625.62 426.9 626.83 428.5 630.5 C430.1 634.17 431.38 641.25 431.6 645.5 C431.82 649.75 430.97 653.37 429.8 656 C428.63 658.63 427.23 660.27 424.6 661.3 C421.97 662.33 417.5 662.35 414 662.2 C410.5 662.05 406.8 660.98 403.6 660.4 C400.4 659.82 397.73 658.85 394.8 658.7 C391.87 658.55 388.92 658.92 386 659.5 C383.08 660.08 380.22 661.75 377.3 662.2 C374.38 662.65 371.13 662.5 368.5 662.2 C365.87 661.9 364.42 660.4 361.5 660.4 C358.58 660.4 354.5 660.88 351 662.2 C347.5 663.52 344.15 666.55 340.5 668.3 C336.85 670.05 332.6 672.42 329.1 672.7 C325.6 672.98 321.53 672.78 319.5 670 C317.47 667.22 317.07 660.88 316.9 656 C316.73 651.12 317.43 644.67 318.5 640.7 C319.57 636.73 320.88 634.32 323.3 632.2 C325.72 630.08 330.57 630.18 333 628 C335.43 625.82 336.65 621.9 337.9 619.1 C339.15 616.3 339.18 613.82 340.5 611.2 C341.82 608.58 343.83 605.8 345.8 603.4 C347.77 601 350.55 599 352.3 596.8 C354.05 594.6 355.53 592.62 356.3 590.2 C357.07 587.78 357.45 584.7 356.9 582.3 C356.35 579.9 354.42 578.2 353 575.8 C351.58 573.4 349.5 570.53 348.4 567.9 C347.3 565.27 347 562.52 346.4 560 C345.8 557.48 346.53 555.17 344.8 552.8 C343.07 550.43 338.92 548.42 336 545.8 C333.08 543.18 329.33 540.3 327.3 537.1 C325.27 533.9 324.1 530.4 323.8 526.6 C323.5 522.8 324.05 518.25 325.5 514.3 C326.95 510.35 329.87 504.95 332.5 502.9Z" fill="#d3d3eb" stroke="#c6c6e0" stroke-width="0.8"/>
<g clip-path="url(#clip1)"><g filter="url(#blur3)"><ellipse cx="333" cy="522" rx="7" ry="12" fill="#eeeef8" opacity="0.9"/><ellipse cx="345" cy="507" rx="9" ry="4" fill="#eeeef8" opacity="0.8"/><ellipse cx="420" cy="512" rx="7" ry="8" fill="#ececf8" opacity="0.8"/><ellipse cx="424" cy="535" rx="4" ry="8" fill="#f0f0fa" opacity="0.8"/><ellipse cx="326" cy="655" rx="7" ry="12" fill="#f0f0fa" opacity="0.9"/><ellipse cx="345" cy="664" rx="10" ry="5" fill="#eeeef8" opacity="0.8"/><ellipse cx="424" cy="648" rx="5" ry="12" fill="#f0f0fa" opacity="0.9"/><ellipse cx="400" cy="655" rx="12" ry="4" fill="#ececf8" opacity="0.8"/><ellipse cx="404" cy="610" rx="5" ry="6" fill="#ececf8" opacity="0.7"/><ellipse cx="350" cy="600" rx="4" ry="6" fill="#ececf8" opacity="0.6"/><ellipse cx="395" cy="520" rx="14" ry="9" fill="#bcbce8" opacity="0.8"/><ellipse cx="360" cy="522" rx="8" ry="7" fill="#c4c4ea" opacity="0.7"/><ellipse cx="377" cy="585" rx="9" ry="14" fill="#c6c6ec" opacity="0.8"/><ellipse cx="372" cy="640" rx="18" ry="10" fill="#c8c8ec" opacity="0.6"/><ellipse cx="395" cy="550" rx="8" ry="6" fill="#e6e6f6" opacity="0.6"/><ellipse cx="332" cy="648" rx="8" ry="7" fill="#f4f4fa" opacity="0.8"/><ellipse cx="418" cy="640" rx="8" ry="7" fill="#f4f4fa" opacity="0.8"/><ellipse cx="395" cy="640" rx="6" ry="5" fill="#ececf6" opacity="0.7"/><ellipse cx="352" cy="628" rx="6" ry="5" fill="#ececf6" opacity="0.6"/><ellipse cx="370" cy="655" rx="7" ry="4" fill="#ececf6" opacity="0.6"/><ellipse cx="405" cy="530" rx="7" ry="6" fill="#ececf6" opacity="0.6"/><ellipse cx="345" cy="535" rx="6" ry="6" fill="#ececf6" opacity="0.6"/><ellipse cx="365" cy="575" rx="5" ry="7" fill="#e8e8f6" opacity="0.6"/></g></g>
<line x1="343.8" y1="527" x2="349.5" y2="529.55" stroke="#4ab8c6" stroke-width="1.9"/>
<line x1="349.5" y1="529.55" x2="355.2" y2="532.1" stroke="#2a3fd0" stroke-width="1.9"/>
<line x1="355.2" y1="532.1" x2="356.8" y2="536.5" stroke="#2a3fd0" stroke-width="1.9"/>
<line x1="356.8" y1="536.5" x2="358.4" y2="540.9" stroke="#4ab8c6" stroke-width="1.9"/>
<line x1="358.4" y1="540.9" x2="364.1" y2="542.95" stroke="#4ab8c6" stroke-width="1.9"/>
<line x1="364.1" y1="542.95" x2="369.8" y2="545" stroke="#4ab8c6" stroke-width="1.9"/>
<line x1="369.8" y1="545" x2="374.25" y2="541.7" stroke="#4ab8c6" stroke-width="1.9"/>
<line x1="374.25" y1="541.7" x2="378.7" y2="538.4" stroke="#4ab8c6" stroke-width="1.9"/>
<line x1="378.7" y1="538.4" x2="384.2" y2="541.25" stroke="#4ab8c6" stroke-width="1.9"/>
<line x1="384.2" y1="541.25" x2="389.7" y2="544.1" stroke="#4ab8c6" stroke-width="1.9"/>
<line x1="389.7" y1="544.1" x2="394.65" y2="540.3" stroke="#4ab8c6" stroke-width="1.9"/>
<line x1="394.65" y1="540.3" x2="399.6" y2="536.5" stroke="#4ab8c6" stroke-width="1.9"/>
<line x1="399.6" y1="536.5" x2="399.85" y2="531.1" stroke="#4ab8c6" stroke-width="1.9"/>
<line x1="399.85" y1="531.1" x2="400.1" y2="525.7" stroke="#2a3fd0" stroke-width="1.9"/>
<line x1="400.1" y1="525.7" x2="405.35" y2="523.5" stroke="#2a3fd0" stroke-width="1.9"/>
<line x1="405.35" y1="523.5" x2="410.6" y2="521.3" stroke="#4ab8c6" stroke-width="1.9"/>
<line x1="378.7" y1="538.4" x2="378.3" y2="532.7" stroke="#4ab8c6" stroke-width="1.9"/>
<line x1="378.3" y1="532.7" x2="377.9" y2="527" stroke="#d8283a" stroke-width="1.9"/>
<line x1="389.7" y1="544.1" x2="390.2" y2="549.8" stroke="#4ab8c6" stroke-width="1.9"/>
<line x1="390.2" y1="549.8" x2="390.7" y2="555.5" stroke="#4ab8c6" stroke-width="1.9"/>
<line x1="390.7" y1="555.5" x2="386.2" y2="558.8" stroke="#4ab8c6" stroke-width="1.9"/>
<line x1="386.2" y1="558.8" x2="381.7" y2="562.1" stroke="#4ab8c6" stroke-width="1.9"/>
<line x1="381.7" y1="562.1" x2="376.4" y2="559.45" stroke="#4ab8c6" stroke-width="1.9"/>
<line x1="376.4" y1="559.45" x2="371.1" y2="556.8" stroke="#4ab8c6" stroke-width="1.9"/>
<line x1="371.1" y1="556.8" x2="370.45" y2="550.9" stroke="#4ab8c6" stroke-width="1.9"/>
<line x1="370.45" y1="550.9" x2="369.8" y2="545" stroke="#4ab8c6" stroke-width="1.9"/>
<line x1="371.1" y1="556.8" x2="366.95" y2="559.95" stroke="#4ab8c6" stroke-width="1.9"/>
<line x1="366.95" y1="559.95" x2="362.8" y2="563.1" stroke="#d8283a" stroke-width="1.9"/>
<line x1="381.7" y1="562.1" x2="382.85" y2="567.8" stroke="#4ab8c6" stroke-width="1.9"/>
<line x1="382.85" y1="567.8" x2="384" y2="573.5" stroke="#4ab8c6" stroke-width="1.9"/>
<line x1="384" y1="573.5" x2="380" y2="577.3" stroke="#4ab8c6" stroke-width="1.9"/>
<line x1="380" y1="577.3" x2="376" y2="581.1" stroke="#2a3fd0" stroke-width="1.9"/>
<line x1="376" y1="581.1" x2="377.15" y2="586.7" stroke="#2a3fd0" stroke-width="1.9"/>
<line x1="377.15" y1="586.7" x2="378.3" y2="592.3" stroke="#2a3fd0" stroke-width="1.9"/>
<line x1="378.3" y1="592.3" x2="374.5" y2="595.65" stroke="#2a3fd0" stroke-width="1.9"/>
<line x1="374.5" y1="595.65" x2="370.7" y2="599" stroke="#4ab8c6" stroke-width="1.9"/>
<line x1="370.7" y1="599" x2="371.65" y2="604.7" stroke="#4ab8c6" stroke-width="1.9"/>
<line x1="371.65" y1="604.7" x2="372.6" y2="610.4" stroke="#4ab8c6" stroke-width="1.9"/>
<line x1="372.6" y1="610.4" x2="377.85" y2="612.75" stroke="#4ab8c6" stroke-width="1.9"/>
<line x1="377.85" y1="612.75" x2="383.1" y2="615.1" stroke="#4ab8c6" stroke-width="1.9"/>
<line x1="372.6" y1="610.4" x2="368.35" y2="614.2" stroke="#4ab8c6" stroke-width="1.9"/>
<line x1="368.35" y1="614.2" x2="364.1" y2="618" stroke="#4ab8c6" stroke-width="1.9"/>
<line x1="383.1" y1="615.1" x2="384.05" y2="620.8" stroke="#4ab8c6" stroke-width="1.9"/>
<line x1="384.05" y1="620.8" x2="385" y2="626.5" stroke="#4ab8c6" stroke-width="1.9"/>
<line x1="364.1" y1="618" x2="364.55" y2="624.15" stroke="#4ab8c6" stroke-width="1.9"/>
<line x1="364.55" y1="624.15" x2="365" y2="630.3" stroke="#4ab8c6" stroke-width="1.9"/>
<line x1="364.1" y1="618" x2="358.4" y2="616.55" stroke="#4ab8c6" stroke-width="1.9"/>
<line x1="358.4" y1="616.55" x2="352.7" y2="615.1" stroke="#d8283a" stroke-width="1.9"/>
<line x1="385" y1="626.5" x2="380.25" y2="630.3" stroke="#4ab8c6" stroke-width="1.9"/>
<line x1="380.25" y1="630.3" x2="375.5" y2="634.1" stroke="#4ab8c6" stroke-width="1.9"/>
<line x1="365" y1="630.3" x2="370.25" y2="632.2" stroke="#4ab8c6" stroke-width="1.9"/>
<line x1="370.25" y1="632.2" x2="375.5" y2="634.1" stroke="#4ab8c6" stroke-width="1.9"/>
<line x1="375.5" y1="634.1" x2="376.45" y2="639.3" stroke="#4ab8c6" stroke-width="1.9"/>
<line x1="376.45" y1="639.3" x2="377.4" y2="644.5" stroke="#d8283a" stroke-width="1.9"/>
<line x1="365" y1="630.3" x2="360.25" y2="633.6" stroke="#4ab8c6" stroke-width="1.9"/>
<line x1="360.25" y1="633.6" x2="355.5" y2="636.9" stroke="#4ab8c6" stroke-width="1.9"/>
<line x1="355.5" y1="636.9" x2="350.8" y2="638.8" stroke="#4ab8c6" stroke-width="1.9"/>
<line x1="350.8" y1="638.8" x2="346.1" y2="640.7" stroke="#2a3fd0" stroke-width="1.9"/>
<line x1="346.1" y1="640.7" x2="341.8" y2="643.55" stroke="#2a3fd0" stroke-width="1.9"/>
<line x1="341.8" y1="643.55" x2="337.5" y2="646.4" stroke="#4ab8c6" stroke-width="1.9"/>
<line x1="385" y1="626.5" x2="390.7" y2="628.4" stroke="#4ab8c6" stroke-width="1.9"/>
<line x1="390.7" y1="628.4" x2="396.4" y2="630.3" stroke="#4ab8c6" stroke-width="1.9"/>
<line x1="396.4" y1="630.3" x2="398.25" y2="635.05" stroke="#4ab8c6" stroke-width="1.9"/>
<line x1="398.25" y1="635.05" x2="400.1" y2="639.8" stroke="#2a3fd0" stroke-width="1.9"/>
<line x1="400.1" y1="639.8" x2="405.8" y2="640.25" stroke="#2a3fd0" stroke-width="1.9"/>
<line x1="405.8" y1="640.25" x2="411.5" y2="640.7" stroke="#4ab8c6" stroke-width="1.9"/>
<line x1="343.8" y1="527" x2="344" y2="521.8" stroke="#4ab8c6" stroke-width="1"/>
<line x1="344" y1="521.8" x2="344.2" y2="516.6" stroke="#dddddd" stroke-width="1"/>
<line x1="343.8" y1="527" x2="340.95" y2="528.9" stroke="#4ab8c6" stroke-width="1"/>
<line x1="340.95" y1="528.9" x2="338.1" y2="530.8" stroke="#dddddd" stroke-width="1"/>
<line x1="377.9" y1="527" x2="374.3" y2="525.6" stroke="#4ab8c6" stroke-width="1"/>
<line x1="374.3" y1="525.6" x2="370.7" y2="524.2" stroke="#dddddd" stroke-width="1"/>
<line x1="358.4" y1="540.9" x2="354.6" y2="542.95" stroke="#4ab8c6" stroke-width="1"/>
<line x1="354.6" y1="542.95" x2="350.8" y2="545" stroke="#dddddd" stroke-width="1"/>
<line x1="399.6" y1="536.5" x2="403.2" y2="538.85" stroke="#4ab8c6" stroke-width="1"/>
<line x1="403.2" y1="538.85" x2="406.8" y2="541.2" stroke="#dddddd" stroke-width="1"/>
<line x1="410.6" y1="521.3" x2="412.95" y2="517.05" stroke="#4ab8c6" stroke-width="1"/>
<line x1="412.95" y1="517.05" x2="415.3" y2="512.8" stroke="#dddddd" stroke-width="1"/>
<line x1="410.6" y1="521.3" x2="413.9" y2="524.15" stroke="#4ab8c6" stroke-width="1"/>
<line x1="413.9" y1="524.15" x2="417.2" y2="527" stroke="#dddddd" stroke-width="1"/>
<line x1="390.7" y1="555.5" x2="394.95" y2="556.45" stroke="#4ab8c6" stroke-width="1"/>
<line x1="394.95" y1="556.45" x2="399.2" y2="557.4" stroke="#dddddd" stroke-width="1"/>
<line x1="362.8" y1="563.1" x2="363.9" y2="566.9" stroke="#4ab8c6" stroke-width="1"/>
<line x1="363.9" y1="566.9" x2="365" y2="570.7" stroke="#dddddd" stroke-width="1"/>
<line x1="384" y1="573.5" x2="388.3" y2="574.95" stroke="#4ab8c6" stroke-width="1"/>
<line x1="388.3" y1="574.95" x2="392.6" y2="576.4" stroke="#dddddd" stroke-width="1"/>
<line x1="370.7" y1="599" x2="367.4" y2="597.1" stroke="#4ab8c6" stroke-width="1"/>
<line x1="367.4" y1="597.1" x2="364.1" y2="595.2" stroke="#dddddd" stroke-width="1"/>
<line x1="352.7" y1="615.1" x2="353.2" y2="610.35" stroke="#4ab8c6" stroke-width="1"/>
<line x1="353.2" y1="610.35" x2="353.7" y2="605.6" stroke="#dddddd" stroke-width="1"/>
<line x1="383.1" y1="615.1" x2="386.9" y2="611.8" stroke="#4ab8c6" stroke-width="1"/>
<line x1="386.9" y1="611.8" x2="390.7" y2="608.5" stroke="#dddddd" stroke-width="1"/>
<line x1="396.4" y1="630.3" x2="399.7" y2="626.5" stroke="#4ab8c6" stroke-width="1"/>
<line x1="399.7" y1="626.5" x2="403" y2="622.7" stroke="#dddddd" stroke-width="1"/>
<line x1="411.5" y1="640.7" x2="414.35" y2="636.45" stroke="#4ab8c6" stroke-width="1"/>
<line x1="414.35" y1="636.45" x2="417.2" y2="632.2" stroke="#dddddd" stroke-width="1"/>
<line x1="411.5" y1="640.7" x2="414.35" y2="645" stroke="#4ab8c6" stroke-width="1"/>
<line x1="414.35" y1="645" x2="417.2" y2="649.3" stroke="#dddddd" stroke-width="1"/>
<line x1="377.4" y1="644.5" x2="374.05" y2="646.9" stroke="#4ab8c6" stroke-width="1"/>
<line x1="374.05" y1="646.9" x2="370.7" y2="649.3" stroke="#dddddd" stroke-width="1"/>
<line x1="337.5" y1="646.4" x2="334.2" y2="643.55" stroke="#4ab8c6" stroke-width="1"/>
<line x1="334.2" y1="643.55" x2="330.9" y2="640.7" stroke="#dddddd" stroke-width="1"/>
<line x1="337.5" y1="646.4" x2="335.6" y2="651.65" stroke="#4ab8c6" stroke-width="1"/>
<line x1="335.6" y1="651.65" x2="333.7" y2="656.9" stroke="#dddddd" stroke-width="1"/>
<circle cx="344.2" cy="516.6" r="1.9" fill="url(#bH)" stroke="none" stroke-width="1"/>
<circle cx="338.1" cy="530.8" r="1.9" fill="url(#bH)" stroke="none" stroke-width="1"/>
<circle cx="370.7" cy="524.2" r="1.9" fill="url(#bH)" stroke="none" stroke-width="1"/>
<circle cx="350.8" cy="545" r="1.9" fill="url(#bH)" stroke="none" stroke-width="1"/>
<circle cx="406.8" cy="541.2" r="1.9" fill="url(#bH)" stroke="none" stroke-width="1"/>
<circle cx="415.3" cy="512.8" r="1.9" fill="url(#bH)" stroke="none" stroke-width="1"/>
<circle cx="417.2" cy="527" r="1.9" fill="url(#bH)" stroke="none" stroke-width="1"/>
<circle cx="399.2" cy="557.4" r="1.9" fill="url(#bH)" stroke="none" stroke-width="1"/>
<circle cx="365" cy="570.7" r="1.9" fill="url(#bH)" stroke="none" stroke-width="1"/>
<circle cx="392.6" cy="576.4" r="1.9" fill="url(#bH)" stroke="none" stroke-width="1"/>
<circle cx="364.1" cy="595.2" r="1.9" fill="url(#bH)" stroke="none" stroke-width="1"/>
<circle cx="353.7" cy="605.6" r="1.9" fill="url(#bH)" stroke="none" stroke-width="1"/>
<circle cx="390.7" cy="608.5" r="1.9" fill="url(#bH)" stroke="none" stroke-width="1"/>
<circle cx="403" cy="622.7" r="1.9" fill="url(#bH)" stroke="none" stroke-width="1"/>
<circle cx="417.2" cy="632.2" r="1.9" fill="url(#bH)" stroke="none" stroke-width="1"/>
<circle cx="417.2" cy="649.3" r="1.9" fill="url(#bH)" stroke="none" stroke-width="1"/>
<circle cx="370.7" cy="649.3" r="1.9" fill="url(#bH)" stroke="none" stroke-width="1"/>
<circle cx="330.9" cy="640.7" r="1.9" fill="url(#bH)" stroke="none" stroke-width="1"/>
<circle cx="333.7" cy="656.9" r="1.9" fill="url(#bH)" stroke="none" stroke-width="1"/>
<circle cx="343.8" cy="527" r="3.45" fill="url(#bC)" stroke="none" stroke-width="1"/>
<circle cx="358.4" cy="540.9" r="3.45" fill="url(#bC)" stroke="none" stroke-width="1"/>
<circle cx="369.8" cy="545" r="3.45" fill="url(#bC)" stroke="none" stroke-width="1"/>
<circle cx="378.7" cy="538.4" r="3.45" fill="url(#bC)" stroke="none" stroke-width="1"/>
<circle cx="389.7" cy="544.1" r="3.45" fill="url(#bC)" stroke="none" stroke-width="1"/>
<circle cx="399.6" cy="536.5" r="3.45" fill="url(#bC)" stroke="none" stroke-width="1"/>
<circle cx="410.6" cy="521.3" r="3.45" fill="url(#bC)" stroke="none" stroke-width="1"/>
<circle cx="390.7" cy="555.5" r="3.45" fill="url(#bC)" stroke="none" stroke-width="1"/>
<circle cx="381.7" cy="562.1" r="3.45" fill="url(#bC)" stroke="none" stroke-width="1"/>
<circle cx="371.1" cy="556.8" r="3.45" fill="url(#bC)" stroke="none" stroke-width="1"/>
<circle cx="384" cy="573.5" r="3.45" fill="url(#bC)" stroke="none" stroke-width="1"/>
<circle cx="370.7" cy="599" r="3.45" fill="url(#bC)" stroke="none" stroke-width="1"/>
<circle cx="372.6" cy="610.4" r="3.45" fill="url(#bC)" stroke="none" stroke-width="1"/>
<circle cx="383.1" cy="615.1" r="3.45" fill="url(#bC)" stroke="none" stroke-width="1"/>
<circle cx="364.1" cy="618" r="3.45" fill="url(#bC)" stroke="none" stroke-width="1"/>
<circle cx="385" cy="626.5" r="3.45" fill="url(#bC)" stroke="none" stroke-width="1"/>
<circle cx="365" cy="630.3" r="3.45" fill="url(#bC)" stroke="none" stroke-width="1"/>
<circle cx="375.5" cy="634.1" r="3.45" fill="url(#bC)" stroke="none" stroke-width="1"/>
<circle cx="355.5" cy="636.9" r="3.45" fill="url(#bC)" stroke="none" stroke-width="1"/>
<circle cx="396.4" cy="630.3" r="3.45" fill="url(#bC)" stroke="none" stroke-width="1"/>
<circle cx="411.5" cy="640.7" r="3.45" fill="url(#bC)" stroke="none" stroke-width="1"/>
<circle cx="337.5" cy="646.4" r="3.45" fill="url(#bC)" stroke="none" stroke-width="1"/>
<circle cx="355.2" cy="532.1" r="3.5" fill="url(#bN)" stroke="none" stroke-width="1"/>
<circle cx="400.1" cy="525.7" r="3.5" fill="url(#bN)" stroke="none" stroke-width="1"/>
<circle cx="376" cy="581.1" r="3.5" fill="url(#bN)" stroke="none" stroke-width="1"/>
<circle cx="378.3" cy="592.3" r="3.5" fill="url(#bN)" stroke="none" stroke-width="1"/>
<circle cx="346.1" cy="640.7" r="3.5" fill="url(#bN)" stroke="none" stroke-width="1"/>
<circle cx="400.1" cy="639.8" r="3.5" fill="url(#bN)" stroke="none" stroke-width="1"/>
<circle cx="377.9" cy="527" r="3.6" fill="url(#bO)" stroke="none" stroke-width="1"/>
<circle cx="362.8" cy="563.1" r="3.6" fill="url(#bO)" stroke="none" stroke-width="1"/>
<circle cx="352.7" cy="615.1" r="3.6" fill="url(#bO)" stroke="none" stroke-width="1"/>
<circle cx="377.4" cy="644.5" r="3.6" fill="url(#bO)" stroke="none" stroke-width="1"/>
<circle cx="341.9" cy="502.3" r="0.9" fill="#e0b030" stroke="none" stroke-width="1"/>
<circle cx="366" cy="513.7" r="0.9" fill="#e0b030" stroke="none" stroke-width="1"/>
<circle cx="327.1" cy="519.4" r="0.9" fill="#e0b030" stroke="none" stroke-width="1"/>
<circle cx="338.5" cy="543.1" r="0.9" fill="#e0b030" stroke="none" stroke-width="1"/>
<circle cx="423.9" cy="502.3" r="0.9" fill="#e0b030" stroke="none" stroke-width="1"/>
<circle cx="422.9" cy="516.6" r="0.9" fill="#e0b030" stroke="none" stroke-width="1"/>
<circle cx="373.6" cy="567.8" r="0.9" fill="#e0b030" stroke="none" stroke-width="1"/>
<circle cx="402" cy="569.7" r="0.9" fill="#e0b030" stroke="none" stroke-width="1"/>
<circle cx="355.5" cy="579.2" r="0.9" fill="#e0b030" stroke="none" stroke-width="1"/>
<circle cx="408.7" cy="515.6" r="0.9" fill="#e0b030" stroke="none" stroke-width="1"/>
<circle cx="376.4" cy="542.8" r="0.9" fill="#e0b030" stroke="none" stroke-width="1"/>
<circle cx="349.9" cy="597.1" r="0.9" fill="#e0b030" stroke="none" stroke-width="1"/>
<circle cx="402" cy="608.5" r="0.9" fill="#e0b030" stroke="none" stroke-width="1"/>
<circle cx="320.4" cy="636.9" r="0.9" fill="#e0b030" stroke="none" stroke-width="1"/>
<circle cx="327.1" cy="657.8" r="0.9" fill="#e0b030" stroke="none" stroke-width="1"/>
<circle cx="329" cy="672" r="0.9" fill="#e0b030" stroke="none" stroke-width="1"/>
<circle cx="365" cy="658.8" r="0.9" fill="#e0b030" stroke="none" stroke-width="1"/>
<circle cx="426.7" cy="642.6" r="0.9" fill="#e0b030" stroke="none" stroke-width="1"/>
<circle cx="426.7" cy="660.7" r="0.9" fill="#e0b030" stroke="none" stroke-width="1"/>
<circle cx="375.5" cy="628.4" r="0.9" fill="#e0b030" stroke="none" stroke-width="1"/>
<circle cx="338.1" cy="517.5" r="0.9" fill="#30b8d8" stroke="none" stroke-width="1"/>
<circle cx="387.8" cy="514.3" r="0.9" fill="#30b8d8" stroke="none" stroke-width="1"/>
<circle cx="357.8" cy="523.2" r="0.9" fill="#30b8d8" stroke="none" stroke-width="1"/>
<circle cx="363.1" cy="532.7" r="0.9" fill="#30b8d8" stroke="none" stroke-width="1"/>
<circle cx="350.8" cy="563.1" r="0.9" fill="#30b8d8" stroke="none" stroke-width="1"/>
<circle cx="370.7" cy="579.2" r="0.9" fill="#30b8d8" stroke="none" stroke-width="1"/>
<circle cx="387.8" cy="593.7" r="0.9" fill="#30b8d8" stroke="none" stroke-width="1"/>
<circle cx="394.5" cy="594.2" r="0.9" fill="#30b8d8" stroke="none" stroke-width="1"/>
<circle cx="341.3" cy="626.5" r="0.9" fill="#30b8d8" stroke="none" stroke-width="1"/>
<circle cx="390.7" cy="652.1" r="0.9" fill="#30b8d8" stroke="none" stroke-width="1"/>
<circle cx="339.4" cy="665.4" r="0.9" fill="#30b8d8" stroke="none" stroke-width="1"/>
<rect x="458.1" y="514.5" width="5.1" height="140.7" fill="url(#cb1)"/>
<text x="458.1" y="507.1" font-size="10.4" font-weight="bold" text-anchor="middle" fill="#111" font-family='"Liberation Sans", sans-serif'>10.4</text>
<text x="459.8" y="670.3" font-size="10.4" font-weight="bold" text-anchor="middle" fill="#111" font-family='"Liberation Sans", sans-serif'>-0.07</text>
<clipPath id="clip2"><circle cx="622.21" cy="566.34" r="19.5"/><circle cx="621.89" cy="592.29" r="19.5"/><circle cx="607.99" cy="613.45" r="19.5"/><circle cx="587.99" cy="626.53" r="19.5"/><circle cx="565.33" cy="631.62" r="19.5"/><circle cx="542.4" cy="627.15" r="19.5"/><circle cx="523.33" cy="613.06" r="19.5"/><circle cx="512.59" cy="591.65" r="19.5"/><circle cx="512.93" cy="567.71" r="19.5"/><circle cx="523.89" cy="546.72" r="19.5"/><circle cx="542.49" cy="532.63" r="19.5"/><circle cx="565.07" cy="527.38" r="19.5"/><circle cx="588.08" cy="531.69" r="19.5"/><circle cx="608.51" cy="544.78" r="19.5"/><circle cx="565.2" cy="579.5" r="58"/></clipPath>
<clipPath id="clip2b"><rect x="480" y="490" width="159.2" height="180"/></clipPath>
<g clip-path="url(#clip2b)">
<g fill="#e4cfcb"><circle cx="622.21" cy="566.34" r="20.2"/><circle cx="621.89" cy="592.29" r="20.2"/><circle cx="607.99" cy="613.45" r="20.2"/><circle cx="587.99" cy="626.53" r="20.2"/><circle cx="565.33" cy="631.62" r="20.2"/><circle cx="542.4" cy="627.15" r="20.2"/><circle cx="523.33" cy="613.06" r="20.2"/><circle cx="512.59" cy="591.65" r="20.2"/><circle cx="512.93" cy="567.71" r="20.2"/><circle cx="523.89" cy="546.72" r="20.2"/><circle cx="542.49" cy="532.63" r="20.2"/><circle cx="565.07" cy="527.38" r="20.2"/><circle cx="588.08" cy="531.69" r="20.2"/><circle cx="608.51" cy="544.78" r="20.2"/></g>
<g clip-path="url(#clip2)">
<rect x="488" y="502" width="156" height="156" fill="url(#esp2)"/>
<g filter="url(#blur6)"><ellipse cx="570" cy="580" rx="37" ry="35" fill="#9090e6" opacity="0.8"/><ellipse cx="606" cy="570" rx="18" ry="26" fill="#a8a8e6" opacity="0.55"/><ellipse cx="548" cy="602" rx="14" ry="12" fill="#b0b0ea" opacity="0.45"/></g><g filter="url(#blur3)" opacity="0.8"><circle cx="623.77" cy="562.29" r="6" fill="#f2e8e6"/><circle cx="623.42" cy="590.31" r="6" fill="#f2e8e6"/><circle cx="608.41" cy="613.16" r="6" fill="#f2e8e6"/><circle cx="586.82" cy="627.29" r="6" fill="#f2e8e6"/><circle cx="562.34" cy="632.79" r="6" fill="#f2e8e6"/><circle cx="537.58" cy="627.96" r="6" fill="#f2e8e6"/><circle cx="516.98" cy="612.75" r="6" fill="#f2e8e6"/><circle cx="505.38" cy="589.62" r="6" fill="#f2e8e6"/><circle cx="505.75" cy="563.76" r="6" fill="#f2e8e6"/><circle cx="517.59" cy="541.1" r="6" fill="#f2e8e6"/><circle cx="537.67" cy="525.88" r="6" fill="#f2e8e6"/><circle cx="562.06" cy="520.21" r="6" fill="#f2e8e6"/><circle cx="586.91" cy="524.87" r="6" fill="#f2e8e6"/><circle cx="608.98" cy="539" r="6" fill="#f2e8e6"/><ellipse cx="572" cy="592" rx="9" ry="7" fill="#b8b8f0"/><ellipse cx="556" cy="570" rx="6" ry="8" fill="#9898e0"/></g></g>
</g>
<path d="M560.6 577.2 L575.8 577.2 L568.2 584Z" fill="#ffffff"/>
<line x1="551.6" y1="543.2" x2="551.6" y2="536.2" stroke="#4ab0b8" stroke-width="1.8"/>
<line x1="551.6" y1="536.2" x2="551.6" y2="529.2" stroke="#e6e6e6" stroke-width="1.8"/>
<line x1="584.3" y1="542" x2="585.45" y2="536.2" stroke="#3a8fd0" stroke-width="1.8"/>
<line x1="585.45" y1="536.2" x2="586.6" y2="530.4" stroke="#e6e6e6" stroke-width="1.8"/>
<line x1="599.5" y1="553.7" x2="605.3" y2="550.8" stroke="#3a8fd0" stroke-width="1.8"/>
<line x1="605.3" y1="550.8" x2="611.1" y2="547.9" stroke="#e6e6e6" stroke-width="1.8"/>
<line x1="599.5" y1="553.7" x2="597.15" y2="558.4" stroke="#3a8fd0" stroke-width="1.8"/>
<line x1="597.15" y1="558.4" x2="594.8" y2="563.1" stroke="#e6e6e6" stroke-width="1.8"/>
<line x1="615.8" y1="580.6" x2="621.05" y2="578.85" stroke="#3a8fd0" stroke-width="1.8"/>
<line x1="621.05" y1="578.85" x2="626.3" y2="577.1" stroke="#e6e6e6" stroke-width="1.8"/>
<line x1="615.8" y1="580.6" x2="619.3" y2="584.1" stroke="#3a8fd0" stroke-width="1.8"/>
<line x1="619.3" y1="584.1" x2="622.8" y2="587.6" stroke="#e6e6e6" stroke-width="1.8"/>
<line x1="604.1" y1="595.8" x2="608.8" y2="601.65" stroke="#3a8fd0" stroke-width="1.8"/>
<line x1="608.8" y1="601.65" x2="613.5" y2="607.5" stroke="#e6e6e6" stroke-width="1.8"/>
<line x1="578.4" y1="614.5" x2="581.9" y2="622.05" stroke="#3a8fd0" stroke-width="1.8"/>
<line x1="581.9" y1="622.05" x2="585.4" y2="629.6" stroke="#e6e6e6" stroke-width="1.8"/>
<line x1="559.7" y1="615.6" x2="556.2" y2="623.2" stroke="#4ab0b8" stroke-width="1.8"/>
<line x1="556.2" y1="623.2" x2="552.7" y2="630.8" stroke="#e6e6e6" stroke-width="1.8"/>
<line x1="531.7" y1="600.4" x2="527.05" y2="605.1" stroke="#4ab0b8" stroke-width="1.8"/>
<line x1="527.05" y1="605.1" x2="522.4" y2="609.8" stroke="#e6e6e6" stroke-width="1.8"/>
<line x1="531.7" y1="600.4" x2="532.3" y2="596.9" stroke="#4ab0b8" stroke-width="1.8"/>
<line x1="532.3" y1="596.9" x2="532.9" y2="593.4" stroke="#e6e6e6" stroke-width="1.8"/>
<line x1="525.9" y1="581.8" x2="519.45" y2="580.6" stroke="#4ab0b8" stroke-width="1.8"/>
<line x1="519.45" y1="580.6" x2="513" y2="579.4" stroke="#e6e6e6" stroke-width="1.8"/>
<line x1="535.2" y1="552.6" x2="528.8" y2="548.5" stroke="#4ab0b8" stroke-width="1.8"/>
<line x1="528.8" y1="548.5" x2="522.4" y2="544.4" stroke="#e6e6e6" stroke-width="1.8"/>
<line x1="535.2" y1="552.6" x2="535.8" y2="556.65" stroke="#4ab0b8" stroke-width="1.8"/>
<line x1="535.8" y1="556.65" x2="536.4" y2="560.7" stroke="#e6e6e6" stroke-width="1.8"/>
<line x1="551.6" y1="543.2" x2="559.75" y2="547.3" stroke="#4ab0b8" stroke-width="2.4"/>
<line x1="559.75" y1="547.3" x2="567.9" y2="551.4" stroke="#c8203c" stroke-width="2.4"/>
<line x1="567.9" y1="551.4" x2="576.1" y2="546.7" stroke="#c8203c" stroke-width="2.4"/>
<line x1="576.1" y1="546.7" x2="584.3" y2="542" stroke="#3a8fd0" stroke-width="2.4"/>
<line x1="584.3" y1="542" x2="591.9" y2="547.85" stroke="#3a8fd0" stroke-width="2.4"/>
<line x1="591.9" y1="547.85" x2="599.5" y2="553.7" stroke="#3a8fd0" stroke-width="2.4"/>
<line x1="599.5" y1="553.7" x2="601.8" y2="558.4" stroke="#3a8fd0" stroke-width="2.4"/>
<line x1="601.8" y1="558.4" x2="604.1" y2="563.1" stroke="#c8203c" stroke-width="2.4"/>
<line x1="604.1" y1="563.1" x2="609.95" y2="571.85" stroke="#c8203c" stroke-width="2.4"/>
<line x1="609.95" y1="571.85" x2="615.8" y2="580.6" stroke="#3a8fd0" stroke-width="2.4"/>
<line x1="615.8" y1="580.6" x2="609.95" y2="588.2" stroke="#3a8fd0" stroke-width="2.4"/>
<line x1="609.95" y1="588.2" x2="604.1" y2="595.8" stroke="#3a8fd0" stroke-width="2.4"/>
<line x1="604.1" y1="595.8" x2="596.55" y2="598.7" stroke="#3a8fd0" stroke-width="2.4"/>
<line x1="596.55" y1="598.7" x2="589" y2="601.6" stroke="#c8203c" stroke-width="2.4"/>
<line x1="589" y1="601.6" x2="583.7" y2="608.05" stroke="#c8203c" stroke-width="2.4"/>
<line x1="583.7" y1="608.05" x2="578.4" y2="614.5" stroke="#3a8fd0" stroke-width="2.4"/>
<line x1="578.4" y1="614.5" x2="569.05" y2="615.05" stroke="#3a8fd0" stroke-width="2.4"/>
<line x1="569.05" y1="615.05" x2="559.7" y2="615.6" stroke="#4ab0b8" stroke-width="2.4"/>
<line x1="559.7" y1="615.6" x2="554.8" y2="608.6" stroke="#4ab0b8" stroke-width="2.4"/>
<line x1="554.8" y1="608.6" x2="549.9" y2="601.6" stroke="#c8203c" stroke-width="2.4"/>
<line x1="549.9" y1="601.6" x2="540.8" y2="601" stroke="#c8203c" stroke-width="2.4"/>
<line x1="540.8" y1="601" x2="531.7" y2="600.4" stroke="#4ab0b8" stroke-width="2.4"/>
<line x1="531.7" y1="600.4" x2="528.8" y2="591.1" stroke="#4ab0b8" stroke-width="2.4"/>
<line x1="528.8" y1="591.1" x2="525.9" y2="581.8" stroke="#4ab0b8" stroke-width="2.4"/>
<line x1="525.9" y1="581.8" x2="531.15" y2="574.75" stroke="#4ab0b8" stroke-width="2.4"/>
<line x1="531.15" y1="574.75" x2="536.4" y2="567.7" stroke="#c8203c" stroke-width="2.4"/>
<line x1="536.4" y1="567.7" x2="535.8" y2="560.15" stroke="#c8203c" stroke-width="2.4"/>
<line x1="535.8" y1="560.15" x2="535.2" y2="552.6" stroke="#4ab0b8" stroke-width="2.4"/>
<line x1="535.2" y1="552.6" x2="543.4" y2="547.9" stroke="#4ab0b8" stroke-width="2.4"/>
<line x1="543.4" y1="547.9" x2="551.6" y2="543.2" stroke="#4ab0b8" stroke-width="2.4"/>
<circle cx="551.6" cy="529.2" r="2.9" fill="url(#bH2)" stroke="none" stroke-width="1"/>
<circle cx="586.6" cy="530.4" r="2.9" fill="url(#bH2)" stroke="none" stroke-width="1"/>
<circle cx="611.1" cy="547.9" r="2.9" fill="url(#bH2)" stroke="none" stroke-width="1"/>
<circle cx="594.8" cy="563.1" r="2.9" fill="url(#bH2)" stroke="none" stroke-width="1"/>
<circle cx="626.3" cy="577.1" r="2.9" fill="url(#bH2)" stroke="none" stroke-width="1"/>
<circle cx="622.8" cy="587.6" r="2.9" fill="url(#bH2)" stroke="none" stroke-width="1"/>
<circle cx="613.5" cy="607.5" r="2.9" fill="url(#bH2)" stroke="none" stroke-width="1"/>
<circle cx="585.4" cy="629.6" r="2.9" fill="url(#bH2)" stroke="none" stroke-width="1"/>
<circle cx="552.7" cy="630.8" r="2.9" fill="url(#bH2)" stroke="none" stroke-width="1"/>
<circle cx="522.4" cy="609.8" r="2.9" fill="url(#bH2)" stroke="none" stroke-width="1"/>
<circle cx="532.9" cy="593.4" r="2.9" fill="url(#bH2)" stroke="none" stroke-width="1"/>
<circle cx="513" cy="579.4" r="2.9" fill="url(#bH2)" stroke="none" stroke-width="1"/>
<circle cx="522.4" cy="544.4" r="2.9" fill="url(#bH2)" stroke="none" stroke-width="1"/>
<circle cx="536.4" cy="560.7" r="2.9" fill="url(#bH2)" stroke="none" stroke-width="1"/>
<circle cx="551.6" cy="543.2" r="5.3" fill="url(#bC2)" stroke="none" stroke-width="1"/>
<circle cx="584.3" cy="542" r="5.3" fill="url(#bC3)" stroke="none" stroke-width="1"/>
<circle cx="599.5" cy="553.7" r="5.3" fill="url(#bC3)" stroke="none" stroke-width="1"/>
<circle cx="615.8" cy="580.6" r="5.3" fill="url(#bC3)" stroke="none" stroke-width="1"/>
<circle cx="604.1" cy="595.8" r="5.3" fill="url(#bC3)" stroke="none" stroke-width="1"/>
<circle cx="578.4" cy="614.5" r="5.3" fill="url(#bC3)" stroke="none" stroke-width="1"/>
<circle cx="559.7" cy="615.6" r="5.3" fill="url(#bC2)" stroke="none" stroke-width="1"/>
<circle cx="531.7" cy="600.4" r="5.3" fill="url(#bC2)" stroke="none" stroke-width="1"/>
<circle cx="525.9" cy="581.8" r="5.3" fill="url(#bC2)" stroke="none" stroke-width="1"/>
<circle cx="535.2" cy="552.6" r="5.3" fill="url(#bC2)" stroke="none" stroke-width="1"/>
<circle cx="567.9" cy="551.4" r="4.9" fill="url(#bO2)" stroke="none" stroke-width="1"/>
<circle cx="604.1" cy="563.1" r="4.9" fill="url(#bO2)" stroke="none" stroke-width="1"/>
<circle cx="589" cy="601.6" r="4.9" fill="url(#bO2)" stroke="none" stroke-width="1"/>
<circle cx="549.9" cy="601.6" r="4.9" fill="url(#bO2)" stroke="none" stroke-width="1"/>
<circle cx="536.4" cy="567.7" r="4.9" fill="url(#bO2)" stroke="none" stroke-width="1"/>
<circle cx="542.2" cy="510.5" r="1" fill="#e0b030" stroke="none" stroke-width="1"/>
<circle cx="583.1" cy="510.5" r="1" fill="#e0b030" stroke="none" stroke-width="1"/>
<circle cx="566.8" cy="518.7" r="1" fill="#e0b030" stroke="none" stroke-width="1"/>
<circle cx="528.2" cy="523.4" r="1" fill="#e0b030" stroke="none" stroke-width="1"/>
<circle cx="507.2" cy="532.7" r="1" fill="#e0b030" stroke="none" stroke-width="1"/>
<circle cx="601.8" cy="530.4" r="1" fill="#e0b030" stroke="none" stroke-width="1"/>
<circle cx="621.7" cy="538.5" r="1" fill="#e0b030" stroke="none" stroke-width="1"/>
<circle cx="634.5" cy="579.4" r="1" fill="#e0b030" stroke="none" stroke-width="1"/>
<circle cx="493.2" cy="580.6" r="1" fill="#e0b030" stroke="none" stroke-width="1"/>
<circle cx="503.7" cy="591.1" r="1" fill="#e0b030" stroke="none" stroke-width="1"/>
<circle cx="629.8" cy="615.6" r="1" fill="#e0b030" stroke="none" stroke-width="1"/>
<circle cx="503.7" cy="619.1" r="1" fill="#e0b030" stroke="none" stroke-width="1"/>
<circle cx="539.9" cy="621.5" r="1" fill="#e0b030" stroke="none" stroke-width="1"/>
<circle cx="549.2" cy="649" r="1" fill="#e0b030" stroke="none" stroke-width="1"/>
<circle cx="569.1" cy="646" r="1" fill="#e0b030" stroke="none" stroke-width="1"/>
<circle cx="590.1" cy="649.5" r="1" fill="#e0b030" stroke="none" stroke-width="1"/>
<circle cx="555.1" cy="525.7" r="1" fill="#e0b030" stroke="none" stroke-width="1"/>
<circle cx="552.7" cy="516.4" r="1" fill="#30b8d8" stroke="none" stroke-width="1"/>
<circle cx="513" cy="550.2" r="1" fill="#30b8d8" stroke="none" stroke-width="1"/>
<circle cx="521.2" cy="614.5" r="1" fill="#30b8d8" stroke="none" stroke-width="1"/>
<circle cx="542.2" cy="640.2" r="1" fill="#30b8d8" stroke="none" stroke-width="1"/>
<circle cx="590.1" cy="627.3" r="1" fill="#30b8d8" stroke="none" stroke-width="1"/>
<circle cx="605.3" cy="606.3" r="1" fill="#30b8d8" stroke="none" stroke-width="1"/>
<circle cx="610" cy="558.4" r="1" fill="#30b8d8" stroke="none" stroke-width="1"/>
<circle cx="562.1" cy="574.8" r="1" fill="#30b8d8" stroke="none" stroke-width="1"/>
<circle cx="576.1" cy="574.8" r="1" fill="#30b8d8" stroke="none" stroke-width="1"/>
<rect x="655.7" y="513.8" width="5.1" height="140.4" fill="url(#cb1)"/>
<text x="657.5" y="505.4" font-size="10.7" font-weight="bold" text-anchor="middle" fill="#111" font-family='"Liberation Sans", sans-serif'>58.96</text>
<text x="660.6" y="670" font-size="10.7" font-weight="bold" text-anchor="middle" fill="#111" font-family='"Liberation Sans", sans-serif'>9.82e-012</text></g></svg>
</body></html>
